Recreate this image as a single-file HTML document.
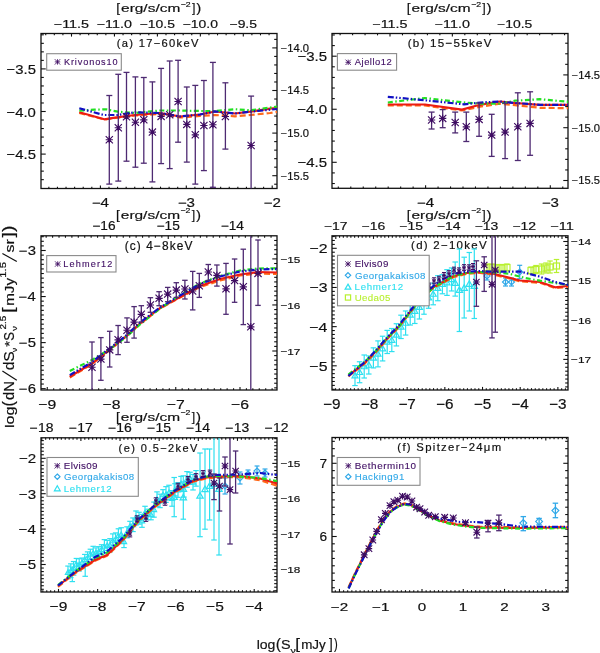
<!DOCTYPE html>
<html><head><meta charset="utf-8"><style>
html,body{margin:0;padding:0;background:#fff;width:600px;height:653px;overflow:hidden;}
svg{display:block;font-family:"Liberation Sans", sans-serif;will-change:transform;}
</style></head><body>
<svg width="600" height="653" viewBox="0 0 600 653" font-family='"Liberation Sans", sans-serif'>
<rect width="600" height="653" fill="#fff"/>
<line x1="48.86" y1="188.5" x2="48.86" y2="186.64" stroke="#111" stroke-width="1.1"/>
<line x1="57.45" y1="188.5" x2="57.45" y2="186.64" stroke="#111" stroke-width="1.1"/>
<line x1="66.04" y1="188.5" x2="66.04" y2="186.64" stroke="#111" stroke-width="1.1"/>
<line x1="74.63" y1="188.5" x2="74.63" y2="186.64" stroke="#111" stroke-width="1.1"/>
<line x1="83.22" y1="188.5" x2="83.22" y2="186.64" stroke="#111" stroke-width="1.1"/>
<line x1="91.81" y1="188.5" x2="91.81" y2="186.64" stroke="#111" stroke-width="1.1"/>
<line x1="100.4" y1="188.5" x2="100.4" y2="185.4" stroke="#111" stroke-width="1.1"/>
<line x1="108.99" y1="188.5" x2="108.99" y2="186.64" stroke="#111" stroke-width="1.1"/>
<line x1="117.58" y1="188.5" x2="117.58" y2="186.64" stroke="#111" stroke-width="1.1"/>
<line x1="126.17" y1="188.5" x2="126.17" y2="186.64" stroke="#111" stroke-width="1.1"/>
<line x1="134.76" y1="188.5" x2="134.76" y2="186.64" stroke="#111" stroke-width="1.1"/>
<line x1="143.35" y1="188.5" x2="143.35" y2="186.64" stroke="#111" stroke-width="1.1"/>
<line x1="151.94" y1="188.5" x2="151.94" y2="186.64" stroke="#111" stroke-width="1.1"/>
<line x1="160.53" y1="188.5" x2="160.53" y2="186.64" stroke="#111" stroke-width="1.1"/>
<line x1="169.12" y1="188.5" x2="169.12" y2="186.64" stroke="#111" stroke-width="1.1"/>
<line x1="177.71" y1="188.5" x2="177.71" y2="186.64" stroke="#111" stroke-width="1.1"/>
<line x1="186.3" y1="188.5" x2="186.3" y2="185.4" stroke="#111" stroke-width="1.1"/>
<line x1="194.89" y1="188.5" x2="194.89" y2="186.64" stroke="#111" stroke-width="1.1"/>
<line x1="203.48" y1="188.5" x2="203.48" y2="186.64" stroke="#111" stroke-width="1.1"/>
<line x1="212.07" y1="188.5" x2="212.07" y2="186.64" stroke="#111" stroke-width="1.1"/>
<line x1="220.66" y1="188.5" x2="220.66" y2="186.64" stroke="#111" stroke-width="1.1"/>
<line x1="229.25" y1="188.5" x2="229.25" y2="186.64" stroke="#111" stroke-width="1.1"/>
<line x1="237.84" y1="188.5" x2="237.84" y2="186.64" stroke="#111" stroke-width="1.1"/>
<line x1="246.43" y1="188.5" x2="246.43" y2="186.64" stroke="#111" stroke-width="1.1"/>
<line x1="255.02" y1="188.5" x2="255.02" y2="186.64" stroke="#111" stroke-width="1.1"/>
<line x1="263.61" y1="188.5" x2="263.61" y2="186.64" stroke="#111" stroke-width="1.1"/>
<line x1="272.2" y1="188.5" x2="272.2" y2="185.4" stroke="#111" stroke-width="1.1"/>
<line x1="45.73" y1="33.5" x2="45.73" y2="35.36" stroke="#111" stroke-width="1.1"/>
<line x1="54.32" y1="33.5" x2="54.32" y2="35.36" stroke="#111" stroke-width="1.1"/>
<line x1="62.91" y1="33.5" x2="62.91" y2="35.36" stroke="#111" stroke-width="1.1"/>
<line x1="71.5" y1="33.5" x2="71.5" y2="36.6" stroke="#111" stroke-width="1.1"/>
<line x1="80.09" y1="33.5" x2="80.09" y2="35.36" stroke="#111" stroke-width="1.1"/>
<line x1="88.68" y1="33.5" x2="88.68" y2="35.36" stroke="#111" stroke-width="1.1"/>
<line x1="97.27" y1="33.5" x2="97.27" y2="35.36" stroke="#111" stroke-width="1.1"/>
<line x1="105.86" y1="33.5" x2="105.86" y2="35.36" stroke="#111" stroke-width="1.1"/>
<line x1="114.45" y1="33.5" x2="114.45" y2="36.6" stroke="#111" stroke-width="1.1"/>
<line x1="123.04" y1="33.5" x2="123.04" y2="35.36" stroke="#111" stroke-width="1.1"/>
<line x1="131.63" y1="33.5" x2="131.63" y2="35.36" stroke="#111" stroke-width="1.1"/>
<line x1="140.22" y1="33.5" x2="140.22" y2="35.36" stroke="#111" stroke-width="1.1"/>
<line x1="148.81" y1="33.5" x2="148.81" y2="35.36" stroke="#111" stroke-width="1.1"/>
<line x1="157.4" y1="33.5" x2="157.4" y2="36.6" stroke="#111" stroke-width="1.1"/>
<line x1="165.99" y1="33.5" x2="165.99" y2="35.36" stroke="#111" stroke-width="1.1"/>
<line x1="174.58" y1="33.5" x2="174.58" y2="35.36" stroke="#111" stroke-width="1.1"/>
<line x1="183.17" y1="33.5" x2="183.17" y2="35.36" stroke="#111" stroke-width="1.1"/>
<line x1="191.76" y1="33.5" x2="191.76" y2="35.36" stroke="#111" stroke-width="1.1"/>
<line x1="200.35" y1="33.5" x2="200.35" y2="36.6" stroke="#111" stroke-width="1.1"/>
<line x1="208.94" y1="33.5" x2="208.94" y2="35.36" stroke="#111" stroke-width="1.1"/>
<line x1="217.53" y1="33.5" x2="217.53" y2="35.36" stroke="#111" stroke-width="1.1"/>
<line x1="226.12" y1="33.5" x2="226.12" y2="35.36" stroke="#111" stroke-width="1.1"/>
<line x1="234.71" y1="33.5" x2="234.71" y2="35.36" stroke="#111" stroke-width="1.1"/>
<line x1="243.3" y1="33.5" x2="243.3" y2="36.6" stroke="#111" stroke-width="1.1"/>
<line x1="251.89" y1="33.5" x2="251.89" y2="35.36" stroke="#111" stroke-width="1.1"/>
<line x1="260.48" y1="33.5" x2="260.48" y2="35.36" stroke="#111" stroke-width="1.1"/>
<line x1="269.07" y1="33.5" x2="269.07" y2="35.36" stroke="#111" stroke-width="1.1"/>
<line x1="41" y1="179.66" x2="43.83" y2="179.66" stroke="#111" stroke-width="1.1"/>
<line x1="41" y1="171.14" x2="43.83" y2="171.14" stroke="#111" stroke-width="1.1"/>
<line x1="41" y1="162.62" x2="43.83" y2="162.62" stroke="#111" stroke-width="1.1"/>
<line x1="41" y1="154.1" x2="45.72" y2="154.1" stroke="#111" stroke-width="1.1"/>
<line x1="41" y1="145.58" x2="43.83" y2="145.58" stroke="#111" stroke-width="1.1"/>
<line x1="41" y1="137.06" x2="43.83" y2="137.06" stroke="#111" stroke-width="1.1"/>
<line x1="41" y1="128.54" x2="43.83" y2="128.54" stroke="#111" stroke-width="1.1"/>
<line x1="41" y1="120.02" x2="43.83" y2="120.02" stroke="#111" stroke-width="1.1"/>
<line x1="41" y1="111.5" x2="45.72" y2="111.5" stroke="#111" stroke-width="1.1"/>
<line x1="41" y1="102.98" x2="43.83" y2="102.98" stroke="#111" stroke-width="1.1"/>
<line x1="41" y1="94.46" x2="43.83" y2="94.46" stroke="#111" stroke-width="1.1"/>
<line x1="41" y1="85.94" x2="43.83" y2="85.94" stroke="#111" stroke-width="1.1"/>
<line x1="41" y1="77.42" x2="43.83" y2="77.42" stroke="#111" stroke-width="1.1"/>
<line x1="41" y1="68.9" x2="45.72" y2="68.9" stroke="#111" stroke-width="1.1"/>
<line x1="41" y1="60.38" x2="43.83" y2="60.38" stroke="#111" stroke-width="1.1"/>
<line x1="41" y1="51.86" x2="43.83" y2="51.86" stroke="#111" stroke-width="1.1"/>
<line x1="41" y1="43.34" x2="43.83" y2="43.34" stroke="#111" stroke-width="1.1"/>
<line x1="41" y1="34.82" x2="43.83" y2="34.82" stroke="#111" stroke-width="1.1"/>
<line x1="277" y1="184.22" x2="274.17" y2="184.22" stroke="#111" stroke-width="1.1"/>
<line x1="277" y1="175.7" x2="272.28" y2="175.7" stroke="#111" stroke-width="1.1"/>
<line x1="277" y1="167.18" x2="274.17" y2="167.18" stroke="#111" stroke-width="1.1"/>
<line x1="277" y1="158.66" x2="274.17" y2="158.66" stroke="#111" stroke-width="1.1"/>
<line x1="277" y1="150.14" x2="274.17" y2="150.14" stroke="#111" stroke-width="1.1"/>
<line x1="277" y1="141.62" x2="274.17" y2="141.62" stroke="#111" stroke-width="1.1"/>
<line x1="277" y1="133.1" x2="272.28" y2="133.1" stroke="#111" stroke-width="1.1"/>
<line x1="277" y1="124.58" x2="274.17" y2="124.58" stroke="#111" stroke-width="1.1"/>
<line x1="277" y1="116.06" x2="274.17" y2="116.06" stroke="#111" stroke-width="1.1"/>
<line x1="277" y1="107.54" x2="274.17" y2="107.54" stroke="#111" stroke-width="1.1"/>
<line x1="277" y1="99.02" x2="274.17" y2="99.02" stroke="#111" stroke-width="1.1"/>
<line x1="277" y1="90.5" x2="272.28" y2="90.5" stroke="#111" stroke-width="1.1"/>
<line x1="277" y1="81.98" x2="274.17" y2="81.98" stroke="#111" stroke-width="1.1"/>
<line x1="277" y1="73.46" x2="274.17" y2="73.46" stroke="#111" stroke-width="1.1"/>
<line x1="277" y1="64.94" x2="274.17" y2="64.94" stroke="#111" stroke-width="1.1"/>
<line x1="277" y1="56.42" x2="274.17" y2="56.42" stroke="#111" stroke-width="1.1"/>
<line x1="277" y1="47.9" x2="272.28" y2="47.9" stroke="#111" stroke-width="1.1"/>
<line x1="277" y1="39.38" x2="274.17" y2="39.38" stroke="#111" stroke-width="1.1"/>
<rect x="41" y="33.5" width="236" height="155" fill="none" stroke="#111" stroke-width="1.3"/>
<line x1="338.31" y1="188.3" x2="338.31" y2="186.44" stroke="#111" stroke-width="1.1"/>
<line x1="350.78" y1="188.3" x2="350.78" y2="186.44" stroke="#111" stroke-width="1.1"/>
<line x1="363.25" y1="188.3" x2="363.25" y2="186.44" stroke="#111" stroke-width="1.1"/>
<line x1="375.72" y1="188.3" x2="375.72" y2="186.44" stroke="#111" stroke-width="1.1"/>
<line x1="388.19" y1="188.3" x2="388.19" y2="186.44" stroke="#111" stroke-width="1.1"/>
<line x1="400.66" y1="188.3" x2="400.66" y2="186.44" stroke="#111" stroke-width="1.1"/>
<line x1="413.13" y1="188.3" x2="413.13" y2="186.44" stroke="#111" stroke-width="1.1"/>
<line x1="425.6" y1="188.3" x2="425.6" y2="185.2" stroke="#111" stroke-width="1.1"/>
<line x1="438.07" y1="188.3" x2="438.07" y2="186.44" stroke="#111" stroke-width="1.1"/>
<line x1="450.54" y1="188.3" x2="450.54" y2="186.44" stroke="#111" stroke-width="1.1"/>
<line x1="463.01" y1="188.3" x2="463.01" y2="186.44" stroke="#111" stroke-width="1.1"/>
<line x1="475.48" y1="188.3" x2="475.48" y2="186.44" stroke="#111" stroke-width="1.1"/>
<line x1="487.95" y1="188.3" x2="487.95" y2="186.44" stroke="#111" stroke-width="1.1"/>
<line x1="500.42" y1="188.3" x2="500.42" y2="186.44" stroke="#111" stroke-width="1.1"/>
<line x1="512.89" y1="188.3" x2="512.89" y2="186.44" stroke="#111" stroke-width="1.1"/>
<line x1="525.36" y1="188.3" x2="525.36" y2="186.44" stroke="#111" stroke-width="1.1"/>
<line x1="537.83" y1="188.3" x2="537.83" y2="186.44" stroke="#111" stroke-width="1.1"/>
<line x1="550.3" y1="188.3" x2="550.3" y2="185.2" stroke="#111" stroke-width="1.1"/>
<line x1="562.77" y1="188.3" x2="562.77" y2="186.44" stroke="#111" stroke-width="1.1"/>
<line x1="340.12" y1="33.5" x2="340.12" y2="35.36" stroke="#111" stroke-width="1.1"/>
<line x1="352.59" y1="33.5" x2="352.59" y2="35.36" stroke="#111" stroke-width="1.1"/>
<line x1="365.06" y1="33.5" x2="365.06" y2="35.36" stroke="#111" stroke-width="1.1"/>
<line x1="377.53" y1="33.5" x2="377.53" y2="35.36" stroke="#111" stroke-width="1.1"/>
<line x1="390" y1="33.5" x2="390" y2="36.6" stroke="#111" stroke-width="1.1"/>
<line x1="402.47" y1="33.5" x2="402.47" y2="35.36" stroke="#111" stroke-width="1.1"/>
<line x1="414.94" y1="33.5" x2="414.94" y2="35.36" stroke="#111" stroke-width="1.1"/>
<line x1="427.41" y1="33.5" x2="427.41" y2="35.36" stroke="#111" stroke-width="1.1"/>
<line x1="439.88" y1="33.5" x2="439.88" y2="35.36" stroke="#111" stroke-width="1.1"/>
<line x1="452.35" y1="33.5" x2="452.35" y2="36.6" stroke="#111" stroke-width="1.1"/>
<line x1="464.82" y1="33.5" x2="464.82" y2="35.36" stroke="#111" stroke-width="1.1"/>
<line x1="477.29" y1="33.5" x2="477.29" y2="35.36" stroke="#111" stroke-width="1.1"/>
<line x1="489.76" y1="33.5" x2="489.76" y2="35.36" stroke="#111" stroke-width="1.1"/>
<line x1="502.23" y1="33.5" x2="502.23" y2="35.36" stroke="#111" stroke-width="1.1"/>
<line x1="514.7" y1="33.5" x2="514.7" y2="36.6" stroke="#111" stroke-width="1.1"/>
<line x1="527.17" y1="33.5" x2="527.17" y2="35.36" stroke="#111" stroke-width="1.1"/>
<line x1="539.64" y1="33.5" x2="539.64" y2="35.36" stroke="#111" stroke-width="1.1"/>
<line x1="552.11" y1="33.5" x2="552.11" y2="35.36" stroke="#111" stroke-width="1.1"/>
<line x1="564.58" y1="33.5" x2="564.58" y2="35.36" stroke="#111" stroke-width="1.1"/>
<line x1="332" y1="183.52" x2="334.83" y2="183.52" stroke="#111" stroke-width="1.1"/>
<line x1="332" y1="172.91" x2="334.83" y2="172.91" stroke="#111" stroke-width="1.1"/>
<line x1="332" y1="162.3" x2="336.72" y2="162.3" stroke="#111" stroke-width="1.1"/>
<line x1="332" y1="151.69" x2="334.83" y2="151.69" stroke="#111" stroke-width="1.1"/>
<line x1="332" y1="141.08" x2="334.83" y2="141.08" stroke="#111" stroke-width="1.1"/>
<line x1="332" y1="130.47" x2="334.83" y2="130.47" stroke="#111" stroke-width="1.1"/>
<line x1="332" y1="119.86" x2="334.83" y2="119.86" stroke="#111" stroke-width="1.1"/>
<line x1="332" y1="109.25" x2="336.72" y2="109.25" stroke="#111" stroke-width="1.1"/>
<line x1="332" y1="98.64" x2="334.83" y2="98.64" stroke="#111" stroke-width="1.1"/>
<line x1="332" y1="88.03" x2="334.83" y2="88.03" stroke="#111" stroke-width="1.1"/>
<line x1="332" y1="77.42" x2="334.83" y2="77.42" stroke="#111" stroke-width="1.1"/>
<line x1="332" y1="66.81" x2="334.83" y2="66.81" stroke="#111" stroke-width="1.1"/>
<line x1="332" y1="56.2" x2="336.72" y2="56.2" stroke="#111" stroke-width="1.1"/>
<line x1="332" y1="45.59" x2="334.83" y2="45.59" stroke="#111" stroke-width="1.1"/>
<line x1="332" y1="34.98" x2="334.83" y2="34.98" stroke="#111" stroke-width="1.1"/>
<line x1="568" y1="180.5" x2="563.28" y2="180.5" stroke="#111" stroke-width="1.1"/>
<line x1="568" y1="169.94" x2="565.17" y2="169.94" stroke="#111" stroke-width="1.1"/>
<line x1="568" y1="159.38" x2="565.17" y2="159.38" stroke="#111" stroke-width="1.1"/>
<line x1="568" y1="148.82" x2="565.17" y2="148.82" stroke="#111" stroke-width="1.1"/>
<line x1="568" y1="138.26" x2="565.17" y2="138.26" stroke="#111" stroke-width="1.1"/>
<line x1="568" y1="127.7" x2="563.28" y2="127.7" stroke="#111" stroke-width="1.1"/>
<line x1="568" y1="117.14" x2="565.17" y2="117.14" stroke="#111" stroke-width="1.1"/>
<line x1="568" y1="106.58" x2="565.17" y2="106.58" stroke="#111" stroke-width="1.1"/>
<line x1="568" y1="96.02" x2="565.17" y2="96.02" stroke="#111" stroke-width="1.1"/>
<line x1="568" y1="85.46" x2="565.17" y2="85.46" stroke="#111" stroke-width="1.1"/>
<line x1="568" y1="74.9" x2="563.28" y2="74.9" stroke="#111" stroke-width="1.1"/>
<line x1="568" y1="64.34" x2="565.17" y2="64.34" stroke="#111" stroke-width="1.1"/>
<line x1="568" y1="53.78" x2="565.17" y2="53.78" stroke="#111" stroke-width="1.1"/>
<line x1="568" y1="43.22" x2="565.17" y2="43.22" stroke="#111" stroke-width="1.1"/>
<rect x="332" y="33.5" width="236" height="154.8" fill="none" stroke="#111" stroke-width="1.3"/>
<line x1="47.25" y1="390" x2="47.25" y2="386.92" stroke="#111" stroke-width="1.1"/>
<line x1="53.67" y1="390" x2="53.67" y2="388.15" stroke="#111" stroke-width="1.1"/>
<line x1="60.1" y1="390" x2="60.1" y2="388.15" stroke="#111" stroke-width="1.1"/>
<line x1="66.52" y1="390" x2="66.52" y2="388.15" stroke="#111" stroke-width="1.1"/>
<line x1="72.95" y1="390" x2="72.95" y2="388.15" stroke="#111" stroke-width="1.1"/>
<line x1="79.38" y1="390" x2="79.38" y2="388.15" stroke="#111" stroke-width="1.1"/>
<line x1="85.8" y1="390" x2="85.8" y2="388.15" stroke="#111" stroke-width="1.1"/>
<line x1="92.22" y1="390" x2="92.22" y2="388.15" stroke="#111" stroke-width="1.1"/>
<line x1="98.65" y1="390" x2="98.65" y2="388.15" stroke="#111" stroke-width="1.1"/>
<line x1="105.08" y1="390" x2="105.08" y2="388.15" stroke="#111" stroke-width="1.1"/>
<line x1="111.5" y1="390" x2="111.5" y2="386.92" stroke="#111" stroke-width="1.1"/>
<line x1="117.92" y1="390" x2="117.92" y2="388.15" stroke="#111" stroke-width="1.1"/>
<line x1="124.35" y1="390" x2="124.35" y2="388.15" stroke="#111" stroke-width="1.1"/>
<line x1="130.77" y1="390" x2="130.77" y2="388.15" stroke="#111" stroke-width="1.1"/>
<line x1="137.2" y1="390" x2="137.2" y2="388.15" stroke="#111" stroke-width="1.1"/>
<line x1="143.62" y1="390" x2="143.62" y2="388.15" stroke="#111" stroke-width="1.1"/>
<line x1="150.05" y1="390" x2="150.05" y2="388.15" stroke="#111" stroke-width="1.1"/>
<line x1="156.47" y1="390" x2="156.47" y2="388.15" stroke="#111" stroke-width="1.1"/>
<line x1="162.9" y1="390" x2="162.9" y2="388.15" stroke="#111" stroke-width="1.1"/>
<line x1="169.32" y1="390" x2="169.32" y2="388.15" stroke="#111" stroke-width="1.1"/>
<line x1="175.75" y1="390" x2="175.75" y2="386.92" stroke="#111" stroke-width="1.1"/>
<line x1="182.17" y1="390" x2="182.17" y2="388.15" stroke="#111" stroke-width="1.1"/>
<line x1="188.6" y1="390" x2="188.6" y2="388.15" stroke="#111" stroke-width="1.1"/>
<line x1="195.02" y1="390" x2="195.02" y2="388.15" stroke="#111" stroke-width="1.1"/>
<line x1="201.45" y1="390" x2="201.45" y2="388.15" stroke="#111" stroke-width="1.1"/>
<line x1="207.88" y1="390" x2="207.88" y2="388.15" stroke="#111" stroke-width="1.1"/>
<line x1="214.3" y1="390" x2="214.3" y2="388.15" stroke="#111" stroke-width="1.1"/>
<line x1="220.72" y1="390" x2="220.72" y2="388.15" stroke="#111" stroke-width="1.1"/>
<line x1="227.15" y1="390" x2="227.15" y2="388.15" stroke="#111" stroke-width="1.1"/>
<line x1="233.57" y1="390" x2="233.57" y2="388.15" stroke="#111" stroke-width="1.1"/>
<line x1="240" y1="390" x2="240" y2="386.92" stroke="#111" stroke-width="1.1"/>
<line x1="246.42" y1="390" x2="246.42" y2="388.15" stroke="#111" stroke-width="1.1"/>
<line x1="252.85" y1="390" x2="252.85" y2="388.15" stroke="#111" stroke-width="1.1"/>
<line x1="259.27" y1="390" x2="259.27" y2="388.15" stroke="#111" stroke-width="1.1"/>
<line x1="265.7" y1="390" x2="265.7" y2="388.15" stroke="#111" stroke-width="1.1"/>
<line x1="272.12" y1="390" x2="272.12" y2="388.15" stroke="#111" stroke-width="1.1"/>
<line x1="46.17" y1="235.8" x2="46.17" y2="237.65" stroke="#111" stroke-width="1.1"/>
<line x1="52.6" y1="235.8" x2="52.6" y2="237.65" stroke="#111" stroke-width="1.1"/>
<line x1="59.03" y1="235.8" x2="59.03" y2="237.65" stroke="#111" stroke-width="1.1"/>
<line x1="65.45" y1="235.8" x2="65.45" y2="237.65" stroke="#111" stroke-width="1.1"/>
<line x1="71.88" y1="235.8" x2="71.88" y2="237.65" stroke="#111" stroke-width="1.1"/>
<line x1="78.3" y1="235.8" x2="78.3" y2="237.65" stroke="#111" stroke-width="1.1"/>
<line x1="84.72" y1="235.8" x2="84.72" y2="237.65" stroke="#111" stroke-width="1.1"/>
<line x1="91.15" y1="235.8" x2="91.15" y2="237.65" stroke="#111" stroke-width="1.1"/>
<line x1="97.57" y1="235.8" x2="97.57" y2="237.65" stroke="#111" stroke-width="1.1"/>
<line x1="104" y1="235.8" x2="104" y2="238.88" stroke="#111" stroke-width="1.1"/>
<line x1="110.42" y1="235.8" x2="110.42" y2="237.65" stroke="#111" stroke-width="1.1"/>
<line x1="116.85" y1="235.8" x2="116.85" y2="237.65" stroke="#111" stroke-width="1.1"/>
<line x1="123.27" y1="235.8" x2="123.27" y2="237.65" stroke="#111" stroke-width="1.1"/>
<line x1="129.7" y1="235.8" x2="129.7" y2="237.65" stroke="#111" stroke-width="1.1"/>
<line x1="136.12" y1="235.8" x2="136.12" y2="237.65" stroke="#111" stroke-width="1.1"/>
<line x1="142.55" y1="235.8" x2="142.55" y2="237.65" stroke="#111" stroke-width="1.1"/>
<line x1="148.97" y1="235.8" x2="148.97" y2="237.65" stroke="#111" stroke-width="1.1"/>
<line x1="155.4" y1="235.8" x2="155.4" y2="237.65" stroke="#111" stroke-width="1.1"/>
<line x1="161.82" y1="235.8" x2="161.82" y2="237.65" stroke="#111" stroke-width="1.1"/>
<line x1="168.25" y1="235.8" x2="168.25" y2="238.88" stroke="#111" stroke-width="1.1"/>
<line x1="174.67" y1="235.8" x2="174.67" y2="237.65" stroke="#111" stroke-width="1.1"/>
<line x1="181.1" y1="235.8" x2="181.1" y2="237.65" stroke="#111" stroke-width="1.1"/>
<line x1="187.52" y1="235.8" x2="187.52" y2="237.65" stroke="#111" stroke-width="1.1"/>
<line x1="193.95" y1="235.8" x2="193.95" y2="237.65" stroke="#111" stroke-width="1.1"/>
<line x1="200.38" y1="235.8" x2="200.38" y2="237.65" stroke="#111" stroke-width="1.1"/>
<line x1="206.8" y1="235.8" x2="206.8" y2="237.65" stroke="#111" stroke-width="1.1"/>
<line x1="213.22" y1="235.8" x2="213.22" y2="237.65" stroke="#111" stroke-width="1.1"/>
<line x1="219.65" y1="235.8" x2="219.65" y2="237.65" stroke="#111" stroke-width="1.1"/>
<line x1="226.07" y1="235.8" x2="226.07" y2="237.65" stroke="#111" stroke-width="1.1"/>
<line x1="232.5" y1="235.8" x2="232.5" y2="238.88" stroke="#111" stroke-width="1.1"/>
<line x1="238.92" y1="235.8" x2="238.92" y2="237.65" stroke="#111" stroke-width="1.1"/>
<line x1="245.35" y1="235.8" x2="245.35" y2="237.65" stroke="#111" stroke-width="1.1"/>
<line x1="251.77" y1="235.8" x2="251.77" y2="237.65" stroke="#111" stroke-width="1.1"/>
<line x1="258.2" y1="235.8" x2="258.2" y2="237.65" stroke="#111" stroke-width="1.1"/>
<line x1="264.62" y1="235.8" x2="264.62" y2="237.65" stroke="#111" stroke-width="1.1"/>
<line x1="271.05" y1="235.8" x2="271.05" y2="237.65" stroke="#111" stroke-width="1.1"/>
<line x1="41" y1="388.65" x2="45.72" y2="388.65" stroke="#111" stroke-width="1.1"/>
<line x1="41" y1="384.05" x2="43.83" y2="384.05" stroke="#111" stroke-width="1.1"/>
<line x1="41" y1="379.44" x2="43.83" y2="379.44" stroke="#111" stroke-width="1.1"/>
<line x1="41" y1="374.83" x2="43.83" y2="374.83" stroke="#111" stroke-width="1.1"/>
<line x1="41" y1="370.23" x2="43.83" y2="370.23" stroke="#111" stroke-width="1.1"/>
<line x1="41" y1="365.62" x2="43.83" y2="365.62" stroke="#111" stroke-width="1.1"/>
<line x1="41" y1="361.02" x2="43.83" y2="361.02" stroke="#111" stroke-width="1.1"/>
<line x1="41" y1="356.42" x2="43.83" y2="356.42" stroke="#111" stroke-width="1.1"/>
<line x1="41" y1="351.81" x2="43.83" y2="351.81" stroke="#111" stroke-width="1.1"/>
<line x1="41" y1="347.21" x2="43.83" y2="347.21" stroke="#111" stroke-width="1.1"/>
<line x1="41" y1="342.6" x2="45.72" y2="342.6" stroke="#111" stroke-width="1.1"/>
<line x1="41" y1="338" x2="43.83" y2="338" stroke="#111" stroke-width="1.1"/>
<line x1="41" y1="333.39" x2="43.83" y2="333.39" stroke="#111" stroke-width="1.1"/>
<line x1="41" y1="328.78" x2="43.83" y2="328.78" stroke="#111" stroke-width="1.1"/>
<line x1="41" y1="324.18" x2="43.83" y2="324.18" stroke="#111" stroke-width="1.1"/>
<line x1="41" y1="319.57" x2="43.83" y2="319.57" stroke="#111" stroke-width="1.1"/>
<line x1="41" y1="314.97" x2="43.83" y2="314.97" stroke="#111" stroke-width="1.1"/>
<line x1="41" y1="310.37" x2="43.83" y2="310.37" stroke="#111" stroke-width="1.1"/>
<line x1="41" y1="305.76" x2="43.83" y2="305.76" stroke="#111" stroke-width="1.1"/>
<line x1="41" y1="301.16" x2="43.83" y2="301.16" stroke="#111" stroke-width="1.1"/>
<line x1="41" y1="296.55" x2="45.72" y2="296.55" stroke="#111" stroke-width="1.1"/>
<line x1="41" y1="291.94" x2="43.83" y2="291.94" stroke="#111" stroke-width="1.1"/>
<line x1="41" y1="287.34" x2="43.83" y2="287.34" stroke="#111" stroke-width="1.1"/>
<line x1="41" y1="282.74" x2="43.83" y2="282.74" stroke="#111" stroke-width="1.1"/>
<line x1="41" y1="278.13" x2="43.83" y2="278.13" stroke="#111" stroke-width="1.1"/>
<line x1="41" y1="273.52" x2="43.83" y2="273.52" stroke="#111" stroke-width="1.1"/>
<line x1="41" y1="268.92" x2="43.83" y2="268.92" stroke="#111" stroke-width="1.1"/>
<line x1="41" y1="264.31" x2="43.83" y2="264.31" stroke="#111" stroke-width="1.1"/>
<line x1="41" y1="259.71" x2="43.83" y2="259.71" stroke="#111" stroke-width="1.1"/>
<line x1="41" y1="255.11" x2="43.83" y2="255.11" stroke="#111" stroke-width="1.1"/>
<line x1="41" y1="250.5" x2="45.72" y2="250.5" stroke="#111" stroke-width="1.1"/>
<line x1="41" y1="245.9" x2="43.83" y2="245.9" stroke="#111" stroke-width="1.1"/>
<line x1="41" y1="241.29" x2="43.83" y2="241.29" stroke="#111" stroke-width="1.1"/>
<line x1="41" y1="236.69" x2="43.83" y2="236.69" stroke="#111" stroke-width="1.1"/>
<line x1="277" y1="387.84" x2="274.17" y2="387.84" stroke="#111" stroke-width="1.1"/>
<line x1="277" y1="383.23" x2="274.17" y2="383.23" stroke="#111" stroke-width="1.1"/>
<line x1="277" y1="378.63" x2="274.17" y2="378.63" stroke="#111" stroke-width="1.1"/>
<line x1="277" y1="374.02" x2="274.17" y2="374.02" stroke="#111" stroke-width="1.1"/>
<line x1="277" y1="369.42" x2="274.17" y2="369.42" stroke="#111" stroke-width="1.1"/>
<line x1="277" y1="364.81" x2="274.17" y2="364.81" stroke="#111" stroke-width="1.1"/>
<line x1="277" y1="360.21" x2="274.17" y2="360.21" stroke="#111" stroke-width="1.1"/>
<line x1="277" y1="355.61" x2="274.17" y2="355.61" stroke="#111" stroke-width="1.1"/>
<line x1="277" y1="351" x2="272.28" y2="351" stroke="#111" stroke-width="1.1"/>
<line x1="277" y1="346.4" x2="274.17" y2="346.4" stroke="#111" stroke-width="1.1"/>
<line x1="277" y1="341.79" x2="274.17" y2="341.79" stroke="#111" stroke-width="1.1"/>
<line x1="277" y1="337.18" x2="274.17" y2="337.18" stroke="#111" stroke-width="1.1"/>
<line x1="277" y1="332.58" x2="274.17" y2="332.58" stroke="#111" stroke-width="1.1"/>
<line x1="277" y1="327.97" x2="274.17" y2="327.97" stroke="#111" stroke-width="1.1"/>
<line x1="277" y1="323.37" x2="274.17" y2="323.37" stroke="#111" stroke-width="1.1"/>
<line x1="277" y1="318.76" x2="274.17" y2="318.76" stroke="#111" stroke-width="1.1"/>
<line x1="277" y1="314.16" x2="274.17" y2="314.16" stroke="#111" stroke-width="1.1"/>
<line x1="277" y1="309.56" x2="274.17" y2="309.56" stroke="#111" stroke-width="1.1"/>
<line x1="277" y1="304.95" x2="272.28" y2="304.95" stroke="#111" stroke-width="1.1"/>
<line x1="277" y1="300.34" x2="274.17" y2="300.34" stroke="#111" stroke-width="1.1"/>
<line x1="277" y1="295.74" x2="274.17" y2="295.74" stroke="#111" stroke-width="1.1"/>
<line x1="277" y1="291.14" x2="274.17" y2="291.14" stroke="#111" stroke-width="1.1"/>
<line x1="277" y1="286.53" x2="274.17" y2="286.53" stroke="#111" stroke-width="1.1"/>
<line x1="277" y1="281.92" x2="274.17" y2="281.92" stroke="#111" stroke-width="1.1"/>
<line x1="277" y1="277.32" x2="274.17" y2="277.32" stroke="#111" stroke-width="1.1"/>
<line x1="277" y1="272.72" x2="274.17" y2="272.72" stroke="#111" stroke-width="1.1"/>
<line x1="277" y1="268.11" x2="274.17" y2="268.11" stroke="#111" stroke-width="1.1"/>
<line x1="277" y1="263.51" x2="274.17" y2="263.51" stroke="#111" stroke-width="1.1"/>
<line x1="277" y1="258.9" x2="272.28" y2="258.9" stroke="#111" stroke-width="1.1"/>
<line x1="277" y1="254.29" x2="274.17" y2="254.29" stroke="#111" stroke-width="1.1"/>
<line x1="277" y1="249.69" x2="274.17" y2="249.69" stroke="#111" stroke-width="1.1"/>
<line x1="277" y1="245.09" x2="274.17" y2="245.09" stroke="#111" stroke-width="1.1"/>
<line x1="277" y1="240.48" x2="274.17" y2="240.48" stroke="#111" stroke-width="1.1"/>
<rect x="41" y="235.8" width="236" height="154.2" fill="none" stroke="#111" stroke-width="1.3"/>
<line x1="335.57" y1="390" x2="335.57" y2="388.15" stroke="#111" stroke-width="1.1"/>
<line x1="339.34" y1="390" x2="339.34" y2="388.15" stroke="#111" stroke-width="1.1"/>
<line x1="343.1" y1="390" x2="343.1" y2="388.15" stroke="#111" stroke-width="1.1"/>
<line x1="346.87" y1="390" x2="346.87" y2="388.15" stroke="#111" stroke-width="1.1"/>
<line x1="350.64" y1="390" x2="350.64" y2="388.15" stroke="#111" stroke-width="1.1"/>
<line x1="354.41" y1="390" x2="354.41" y2="388.15" stroke="#111" stroke-width="1.1"/>
<line x1="358.18" y1="390" x2="358.18" y2="388.15" stroke="#111" stroke-width="1.1"/>
<line x1="361.94" y1="390" x2="361.94" y2="388.15" stroke="#111" stroke-width="1.1"/>
<line x1="365.71" y1="390" x2="365.71" y2="388.15" stroke="#111" stroke-width="1.1"/>
<line x1="369.48" y1="390" x2="369.48" y2="386.92" stroke="#111" stroke-width="1.1"/>
<line x1="373.25" y1="390" x2="373.25" y2="388.15" stroke="#111" stroke-width="1.1"/>
<line x1="377.02" y1="390" x2="377.02" y2="388.15" stroke="#111" stroke-width="1.1"/>
<line x1="380.78" y1="390" x2="380.78" y2="388.15" stroke="#111" stroke-width="1.1"/>
<line x1="384.55" y1="390" x2="384.55" y2="388.15" stroke="#111" stroke-width="1.1"/>
<line x1="388.32" y1="390" x2="388.32" y2="388.15" stroke="#111" stroke-width="1.1"/>
<line x1="392.09" y1="390" x2="392.09" y2="388.15" stroke="#111" stroke-width="1.1"/>
<line x1="395.86" y1="390" x2="395.86" y2="388.15" stroke="#111" stroke-width="1.1"/>
<line x1="399.62" y1="390" x2="399.62" y2="388.15" stroke="#111" stroke-width="1.1"/>
<line x1="403.39" y1="390" x2="403.39" y2="388.15" stroke="#111" stroke-width="1.1"/>
<line x1="407.16" y1="390" x2="407.16" y2="386.92" stroke="#111" stroke-width="1.1"/>
<line x1="410.93" y1="390" x2="410.93" y2="388.15" stroke="#111" stroke-width="1.1"/>
<line x1="414.7" y1="390" x2="414.7" y2="388.15" stroke="#111" stroke-width="1.1"/>
<line x1="418.46" y1="390" x2="418.46" y2="388.15" stroke="#111" stroke-width="1.1"/>
<line x1="422.23" y1="390" x2="422.23" y2="388.15" stroke="#111" stroke-width="1.1"/>
<line x1="426" y1="390" x2="426" y2="388.15" stroke="#111" stroke-width="1.1"/>
<line x1="429.77" y1="390" x2="429.77" y2="388.15" stroke="#111" stroke-width="1.1"/>
<line x1="433.54" y1="390" x2="433.54" y2="388.15" stroke="#111" stroke-width="1.1"/>
<line x1="437.3" y1="390" x2="437.3" y2="388.15" stroke="#111" stroke-width="1.1"/>
<line x1="441.07" y1="390" x2="441.07" y2="388.15" stroke="#111" stroke-width="1.1"/>
<line x1="444.84" y1="390" x2="444.84" y2="386.92" stroke="#111" stroke-width="1.1"/>
<line x1="448.61" y1="390" x2="448.61" y2="388.15" stroke="#111" stroke-width="1.1"/>
<line x1="452.38" y1="390" x2="452.38" y2="388.15" stroke="#111" stroke-width="1.1"/>
<line x1="456.14" y1="390" x2="456.14" y2="388.15" stroke="#111" stroke-width="1.1"/>
<line x1="459.91" y1="390" x2="459.91" y2="388.15" stroke="#111" stroke-width="1.1"/>
<line x1="463.68" y1="390" x2="463.68" y2="388.15" stroke="#111" stroke-width="1.1"/>
<line x1="467.45" y1="390" x2="467.45" y2="388.15" stroke="#111" stroke-width="1.1"/>
<line x1="471.22" y1="390" x2="471.22" y2="388.15" stroke="#111" stroke-width="1.1"/>
<line x1="474.98" y1="390" x2="474.98" y2="388.15" stroke="#111" stroke-width="1.1"/>
<line x1="478.75" y1="390" x2="478.75" y2="388.15" stroke="#111" stroke-width="1.1"/>
<line x1="482.52" y1="390" x2="482.52" y2="386.92" stroke="#111" stroke-width="1.1"/>
<line x1="486.29" y1="390" x2="486.29" y2="388.15" stroke="#111" stroke-width="1.1"/>
<line x1="490.06" y1="390" x2="490.06" y2="388.15" stroke="#111" stroke-width="1.1"/>
<line x1="493.82" y1="390" x2="493.82" y2="388.15" stroke="#111" stroke-width="1.1"/>
<line x1="497.59" y1="390" x2="497.59" y2="388.15" stroke="#111" stroke-width="1.1"/>
<line x1="501.36" y1="390" x2="501.36" y2="388.15" stroke="#111" stroke-width="1.1"/>
<line x1="505.13" y1="390" x2="505.13" y2="388.15" stroke="#111" stroke-width="1.1"/>
<line x1="508.9" y1="390" x2="508.9" y2="388.15" stroke="#111" stroke-width="1.1"/>
<line x1="512.66" y1="390" x2="512.66" y2="388.15" stroke="#111" stroke-width="1.1"/>
<line x1="516.43" y1="390" x2="516.43" y2="388.15" stroke="#111" stroke-width="1.1"/>
<line x1="520.2" y1="390" x2="520.2" y2="386.92" stroke="#111" stroke-width="1.1"/>
<line x1="523.97" y1="390" x2="523.97" y2="388.15" stroke="#111" stroke-width="1.1"/>
<line x1="527.74" y1="390" x2="527.74" y2="388.15" stroke="#111" stroke-width="1.1"/>
<line x1="531.5" y1="390" x2="531.5" y2="388.15" stroke="#111" stroke-width="1.1"/>
<line x1="535.27" y1="390" x2="535.27" y2="388.15" stroke="#111" stroke-width="1.1"/>
<line x1="539.04" y1="390" x2="539.04" y2="388.15" stroke="#111" stroke-width="1.1"/>
<line x1="542.81" y1="390" x2="542.81" y2="388.15" stroke="#111" stroke-width="1.1"/>
<line x1="546.58" y1="390" x2="546.58" y2="388.15" stroke="#111" stroke-width="1.1"/>
<line x1="550.34" y1="390" x2="550.34" y2="388.15" stroke="#111" stroke-width="1.1"/>
<line x1="554.11" y1="390" x2="554.11" y2="388.15" stroke="#111" stroke-width="1.1"/>
<line x1="557.88" y1="390" x2="557.88" y2="386.92" stroke="#111" stroke-width="1.1"/>
<line x1="561.65" y1="390" x2="561.65" y2="388.15" stroke="#111" stroke-width="1.1"/>
<line x1="565.42" y1="390" x2="565.42" y2="388.15" stroke="#111" stroke-width="1.1"/>
<line x1="335.8" y1="235.8" x2="335.8" y2="238.88" stroke="#111" stroke-width="1.1"/>
<line x1="339.57" y1="235.8" x2="339.57" y2="237.65" stroke="#111" stroke-width="1.1"/>
<line x1="343.34" y1="235.8" x2="343.34" y2="237.65" stroke="#111" stroke-width="1.1"/>
<line x1="347.11" y1="235.8" x2="347.11" y2="237.65" stroke="#111" stroke-width="1.1"/>
<line x1="350.88" y1="235.8" x2="350.88" y2="237.65" stroke="#111" stroke-width="1.1"/>
<line x1="354.65" y1="235.8" x2="354.65" y2="237.65" stroke="#111" stroke-width="1.1"/>
<line x1="358.42" y1="235.8" x2="358.42" y2="237.65" stroke="#111" stroke-width="1.1"/>
<line x1="362.19" y1="235.8" x2="362.19" y2="237.65" stroke="#111" stroke-width="1.1"/>
<line x1="365.96" y1="235.8" x2="365.96" y2="237.65" stroke="#111" stroke-width="1.1"/>
<line x1="369.73" y1="235.8" x2="369.73" y2="237.65" stroke="#111" stroke-width="1.1"/>
<line x1="373.5" y1="235.8" x2="373.5" y2="238.88" stroke="#111" stroke-width="1.1"/>
<line x1="377.27" y1="235.8" x2="377.27" y2="237.65" stroke="#111" stroke-width="1.1"/>
<line x1="381.04" y1="235.8" x2="381.04" y2="237.65" stroke="#111" stroke-width="1.1"/>
<line x1="384.81" y1="235.8" x2="384.81" y2="237.65" stroke="#111" stroke-width="1.1"/>
<line x1="388.58" y1="235.8" x2="388.58" y2="237.65" stroke="#111" stroke-width="1.1"/>
<line x1="392.35" y1="235.8" x2="392.35" y2="237.65" stroke="#111" stroke-width="1.1"/>
<line x1="396.12" y1="235.8" x2="396.12" y2="237.65" stroke="#111" stroke-width="1.1"/>
<line x1="399.89" y1="235.8" x2="399.89" y2="237.65" stroke="#111" stroke-width="1.1"/>
<line x1="403.66" y1="235.8" x2="403.66" y2="237.65" stroke="#111" stroke-width="1.1"/>
<line x1="407.43" y1="235.8" x2="407.43" y2="237.65" stroke="#111" stroke-width="1.1"/>
<line x1="411.2" y1="235.8" x2="411.2" y2="238.88" stroke="#111" stroke-width="1.1"/>
<line x1="414.97" y1="235.8" x2="414.97" y2="237.65" stroke="#111" stroke-width="1.1"/>
<line x1="418.74" y1="235.8" x2="418.74" y2="237.65" stroke="#111" stroke-width="1.1"/>
<line x1="422.51" y1="235.8" x2="422.51" y2="237.65" stroke="#111" stroke-width="1.1"/>
<line x1="426.28" y1="235.8" x2="426.28" y2="237.65" stroke="#111" stroke-width="1.1"/>
<line x1="430.05" y1="235.8" x2="430.05" y2="237.65" stroke="#111" stroke-width="1.1"/>
<line x1="433.82" y1="235.8" x2="433.82" y2="237.65" stroke="#111" stroke-width="1.1"/>
<line x1="437.59" y1="235.8" x2="437.59" y2="237.65" stroke="#111" stroke-width="1.1"/>
<line x1="441.36" y1="235.8" x2="441.36" y2="237.65" stroke="#111" stroke-width="1.1"/>
<line x1="445.13" y1="235.8" x2="445.13" y2="237.65" stroke="#111" stroke-width="1.1"/>
<line x1="448.9" y1="235.8" x2="448.9" y2="238.88" stroke="#111" stroke-width="1.1"/>
<line x1="452.67" y1="235.8" x2="452.67" y2="237.65" stroke="#111" stroke-width="1.1"/>
<line x1="456.44" y1="235.8" x2="456.44" y2="237.65" stroke="#111" stroke-width="1.1"/>
<line x1="460.21" y1="235.8" x2="460.21" y2="237.65" stroke="#111" stroke-width="1.1"/>
<line x1="463.98" y1="235.8" x2="463.98" y2="237.65" stroke="#111" stroke-width="1.1"/>
<line x1="467.75" y1="235.8" x2="467.75" y2="237.65" stroke="#111" stroke-width="1.1"/>
<line x1="471.52" y1="235.8" x2="471.52" y2="237.65" stroke="#111" stroke-width="1.1"/>
<line x1="475.29" y1="235.8" x2="475.29" y2="237.65" stroke="#111" stroke-width="1.1"/>
<line x1="479.06" y1="235.8" x2="479.06" y2="237.65" stroke="#111" stroke-width="1.1"/>
<line x1="482.83" y1="235.8" x2="482.83" y2="237.65" stroke="#111" stroke-width="1.1"/>
<line x1="486.6" y1="235.8" x2="486.6" y2="238.88" stroke="#111" stroke-width="1.1"/>
<line x1="490.37" y1="235.8" x2="490.37" y2="237.65" stroke="#111" stroke-width="1.1"/>
<line x1="494.14" y1="235.8" x2="494.14" y2="237.65" stroke="#111" stroke-width="1.1"/>
<line x1="497.91" y1="235.8" x2="497.91" y2="237.65" stroke="#111" stroke-width="1.1"/>
<line x1="501.68" y1="235.8" x2="501.68" y2="237.65" stroke="#111" stroke-width="1.1"/>
<line x1="505.45" y1="235.8" x2="505.45" y2="237.65" stroke="#111" stroke-width="1.1"/>
<line x1="509.22" y1="235.8" x2="509.22" y2="237.65" stroke="#111" stroke-width="1.1"/>
<line x1="512.99" y1="235.8" x2="512.99" y2="237.65" stroke="#111" stroke-width="1.1"/>
<line x1="516.76" y1="235.8" x2="516.76" y2="237.65" stroke="#111" stroke-width="1.1"/>
<line x1="520.53" y1="235.8" x2="520.53" y2="237.65" stroke="#111" stroke-width="1.1"/>
<line x1="524.3" y1="235.8" x2="524.3" y2="238.88" stroke="#111" stroke-width="1.1"/>
<line x1="528.07" y1="235.8" x2="528.07" y2="237.65" stroke="#111" stroke-width="1.1"/>
<line x1="531.84" y1="235.8" x2="531.84" y2="237.65" stroke="#111" stroke-width="1.1"/>
<line x1="535.61" y1="235.8" x2="535.61" y2="237.65" stroke="#111" stroke-width="1.1"/>
<line x1="539.38" y1="235.8" x2="539.38" y2="237.65" stroke="#111" stroke-width="1.1"/>
<line x1="543.15" y1="235.8" x2="543.15" y2="237.65" stroke="#111" stroke-width="1.1"/>
<line x1="546.92" y1="235.8" x2="546.92" y2="237.65" stroke="#111" stroke-width="1.1"/>
<line x1="550.69" y1="235.8" x2="550.69" y2="237.65" stroke="#111" stroke-width="1.1"/>
<line x1="554.46" y1="235.8" x2="554.46" y2="237.65" stroke="#111" stroke-width="1.1"/>
<line x1="558.23" y1="235.8" x2="558.23" y2="237.65" stroke="#111" stroke-width="1.1"/>
<line x1="562" y1="235.8" x2="562" y2="238.88" stroke="#111" stroke-width="1.1"/>
<line x1="565.77" y1="235.8" x2="565.77" y2="237.65" stroke="#111" stroke-width="1.1"/>
<line x1="332" y1="389.31" x2="334.83" y2="389.31" stroke="#111" stroke-width="1.1"/>
<line x1="332" y1="385.39" x2="334.83" y2="385.39" stroke="#111" stroke-width="1.1"/>
<line x1="332" y1="381.48" x2="334.83" y2="381.48" stroke="#111" stroke-width="1.1"/>
<line x1="332" y1="377.56" x2="334.83" y2="377.56" stroke="#111" stroke-width="1.1"/>
<line x1="332" y1="373.64" x2="334.83" y2="373.64" stroke="#111" stroke-width="1.1"/>
<line x1="332" y1="369.73" x2="334.83" y2="369.73" stroke="#111" stroke-width="1.1"/>
<line x1="332" y1="365.81" x2="336.72" y2="365.81" stroke="#111" stroke-width="1.1"/>
<line x1="332" y1="361.89" x2="334.83" y2="361.89" stroke="#111" stroke-width="1.1"/>
<line x1="332" y1="357.98" x2="334.83" y2="357.98" stroke="#111" stroke-width="1.1"/>
<line x1="332" y1="354.06" x2="334.83" y2="354.06" stroke="#111" stroke-width="1.1"/>
<line x1="332" y1="350.14" x2="334.83" y2="350.14" stroke="#111" stroke-width="1.1"/>
<line x1="332" y1="346.23" x2="334.83" y2="346.23" stroke="#111" stroke-width="1.1"/>
<line x1="332" y1="342.31" x2="334.83" y2="342.31" stroke="#111" stroke-width="1.1"/>
<line x1="332" y1="338.39" x2="334.83" y2="338.39" stroke="#111" stroke-width="1.1"/>
<line x1="332" y1="334.47" x2="334.83" y2="334.47" stroke="#111" stroke-width="1.1"/>
<line x1="332" y1="330.56" x2="334.83" y2="330.56" stroke="#111" stroke-width="1.1"/>
<line x1="332" y1="326.64" x2="336.72" y2="326.64" stroke="#111" stroke-width="1.1"/>
<line x1="332" y1="322.72" x2="334.83" y2="322.72" stroke="#111" stroke-width="1.1"/>
<line x1="332" y1="318.81" x2="334.83" y2="318.81" stroke="#111" stroke-width="1.1"/>
<line x1="332" y1="314.89" x2="334.83" y2="314.89" stroke="#111" stroke-width="1.1"/>
<line x1="332" y1="310.97" x2="334.83" y2="310.97" stroke="#111" stroke-width="1.1"/>
<line x1="332" y1="307.06" x2="334.83" y2="307.06" stroke="#111" stroke-width="1.1"/>
<line x1="332" y1="303.14" x2="334.83" y2="303.14" stroke="#111" stroke-width="1.1"/>
<line x1="332" y1="299.22" x2="334.83" y2="299.22" stroke="#111" stroke-width="1.1"/>
<line x1="332" y1="295.3" x2="334.83" y2="295.3" stroke="#111" stroke-width="1.1"/>
<line x1="332" y1="291.39" x2="334.83" y2="291.39" stroke="#111" stroke-width="1.1"/>
<line x1="332" y1="287.47" x2="336.72" y2="287.47" stroke="#111" stroke-width="1.1"/>
<line x1="332" y1="283.55" x2="334.83" y2="283.55" stroke="#111" stroke-width="1.1"/>
<line x1="332" y1="279.64" x2="334.83" y2="279.64" stroke="#111" stroke-width="1.1"/>
<line x1="332" y1="275.72" x2="334.83" y2="275.72" stroke="#111" stroke-width="1.1"/>
<line x1="332" y1="271.8" x2="334.83" y2="271.8" stroke="#111" stroke-width="1.1"/>
<line x1="332" y1="267.88" x2="334.83" y2="267.88" stroke="#111" stroke-width="1.1"/>
<line x1="332" y1="263.97" x2="334.83" y2="263.97" stroke="#111" stroke-width="1.1"/>
<line x1="332" y1="260.05" x2="334.83" y2="260.05" stroke="#111" stroke-width="1.1"/>
<line x1="332" y1="256.13" x2="334.83" y2="256.13" stroke="#111" stroke-width="1.1"/>
<line x1="332" y1="252.22" x2="334.83" y2="252.22" stroke="#111" stroke-width="1.1"/>
<line x1="332" y1="248.3" x2="336.72" y2="248.3" stroke="#111" stroke-width="1.1"/>
<line x1="332" y1="244.38" x2="334.83" y2="244.38" stroke="#111" stroke-width="1.1"/>
<line x1="332" y1="240.47" x2="334.83" y2="240.47" stroke="#111" stroke-width="1.1"/>
<line x1="332" y1="236.55" x2="334.83" y2="236.55" stroke="#111" stroke-width="1.1"/>
<line x1="568" y1="386.91" x2="565.17" y2="386.91" stroke="#111" stroke-width="1.1"/>
<line x1="568" y1="382.98" x2="565.17" y2="382.98" stroke="#111" stroke-width="1.1"/>
<line x1="568" y1="379.05" x2="565.17" y2="379.05" stroke="#111" stroke-width="1.1"/>
<line x1="568" y1="375.12" x2="565.17" y2="375.12" stroke="#111" stroke-width="1.1"/>
<line x1="568" y1="371.19" x2="565.17" y2="371.19" stroke="#111" stroke-width="1.1"/>
<line x1="568" y1="367.26" x2="565.17" y2="367.26" stroke="#111" stroke-width="1.1"/>
<line x1="568" y1="363.33" x2="565.17" y2="363.33" stroke="#111" stroke-width="1.1"/>
<line x1="568" y1="359.4" x2="563.28" y2="359.4" stroke="#111" stroke-width="1.1"/>
<line x1="568" y1="355.47" x2="565.17" y2="355.47" stroke="#111" stroke-width="1.1"/>
<line x1="568" y1="351.54" x2="565.17" y2="351.54" stroke="#111" stroke-width="1.1"/>
<line x1="568" y1="347.61" x2="565.17" y2="347.61" stroke="#111" stroke-width="1.1"/>
<line x1="568" y1="343.68" x2="565.17" y2="343.68" stroke="#111" stroke-width="1.1"/>
<line x1="568" y1="339.75" x2="565.17" y2="339.75" stroke="#111" stroke-width="1.1"/>
<line x1="568" y1="335.82" x2="565.17" y2="335.82" stroke="#111" stroke-width="1.1"/>
<line x1="568" y1="331.89" x2="565.17" y2="331.89" stroke="#111" stroke-width="1.1"/>
<line x1="568" y1="327.96" x2="565.17" y2="327.96" stroke="#111" stroke-width="1.1"/>
<line x1="568" y1="324.03" x2="565.17" y2="324.03" stroke="#111" stroke-width="1.1"/>
<line x1="568" y1="320.1" x2="563.28" y2="320.1" stroke="#111" stroke-width="1.1"/>
<line x1="568" y1="316.17" x2="565.17" y2="316.17" stroke="#111" stroke-width="1.1"/>
<line x1="568" y1="312.24" x2="565.17" y2="312.24" stroke="#111" stroke-width="1.1"/>
<line x1="568" y1="308.31" x2="565.17" y2="308.31" stroke="#111" stroke-width="1.1"/>
<line x1="568" y1="304.38" x2="565.17" y2="304.38" stroke="#111" stroke-width="1.1"/>
<line x1="568" y1="300.45" x2="565.17" y2="300.45" stroke="#111" stroke-width="1.1"/>
<line x1="568" y1="296.52" x2="565.17" y2="296.52" stroke="#111" stroke-width="1.1"/>
<line x1="568" y1="292.59" x2="565.17" y2="292.59" stroke="#111" stroke-width="1.1"/>
<line x1="568" y1="288.66" x2="565.17" y2="288.66" stroke="#111" stroke-width="1.1"/>
<line x1="568" y1="284.73" x2="565.17" y2="284.73" stroke="#111" stroke-width="1.1"/>
<line x1="568" y1="280.8" x2="563.28" y2="280.8" stroke="#111" stroke-width="1.1"/>
<line x1="568" y1="276.87" x2="565.17" y2="276.87" stroke="#111" stroke-width="1.1"/>
<line x1="568" y1="272.94" x2="565.17" y2="272.94" stroke="#111" stroke-width="1.1"/>
<line x1="568" y1="269.01" x2="565.17" y2="269.01" stroke="#111" stroke-width="1.1"/>
<line x1="568" y1="265.08" x2="565.17" y2="265.08" stroke="#111" stroke-width="1.1"/>
<line x1="568" y1="261.15" x2="565.17" y2="261.15" stroke="#111" stroke-width="1.1"/>
<line x1="568" y1="257.22" x2="565.17" y2="257.22" stroke="#111" stroke-width="1.1"/>
<line x1="568" y1="253.29" x2="565.17" y2="253.29" stroke="#111" stroke-width="1.1"/>
<line x1="568" y1="249.36" x2="565.17" y2="249.36" stroke="#111" stroke-width="1.1"/>
<line x1="568" y1="245.43" x2="565.17" y2="245.43" stroke="#111" stroke-width="1.1"/>
<line x1="568" y1="241.5" x2="563.28" y2="241.5" stroke="#111" stroke-width="1.1"/>
<line x1="568" y1="237.57" x2="565.17" y2="237.57" stroke="#111" stroke-width="1.1"/>
<rect x="332" y="235.8" width="236" height="154.2" fill="none" stroke="#111" stroke-width="1.3"/>
<line x1="42.84" y1="592" x2="42.84" y2="590.15" stroke="#111" stroke-width="1.1"/>
<line x1="46.76" y1="592" x2="46.76" y2="590.15" stroke="#111" stroke-width="1.1"/>
<line x1="50.67" y1="592" x2="50.67" y2="590.15" stroke="#111" stroke-width="1.1"/>
<line x1="54.59" y1="592" x2="54.59" y2="590.15" stroke="#111" stroke-width="1.1"/>
<line x1="58.5" y1="592" x2="58.5" y2="588.92" stroke="#111" stroke-width="1.1"/>
<line x1="62.41" y1="592" x2="62.41" y2="590.15" stroke="#111" stroke-width="1.1"/>
<line x1="66.33" y1="592" x2="66.33" y2="590.15" stroke="#111" stroke-width="1.1"/>
<line x1="70.24" y1="592" x2="70.24" y2="590.15" stroke="#111" stroke-width="1.1"/>
<line x1="74.16" y1="592" x2="74.16" y2="590.15" stroke="#111" stroke-width="1.1"/>
<line x1="78.07" y1="592" x2="78.07" y2="590.15" stroke="#111" stroke-width="1.1"/>
<line x1="81.98" y1="592" x2="81.98" y2="590.15" stroke="#111" stroke-width="1.1"/>
<line x1="85.9" y1="592" x2="85.9" y2="590.15" stroke="#111" stroke-width="1.1"/>
<line x1="89.81" y1="592" x2="89.81" y2="590.15" stroke="#111" stroke-width="1.1"/>
<line x1="93.73" y1="592" x2="93.73" y2="590.15" stroke="#111" stroke-width="1.1"/>
<line x1="97.64" y1="592" x2="97.64" y2="588.92" stroke="#111" stroke-width="1.1"/>
<line x1="101.55" y1="592" x2="101.55" y2="590.15" stroke="#111" stroke-width="1.1"/>
<line x1="105.47" y1="592" x2="105.47" y2="590.15" stroke="#111" stroke-width="1.1"/>
<line x1="109.38" y1="592" x2="109.38" y2="590.15" stroke="#111" stroke-width="1.1"/>
<line x1="113.3" y1="592" x2="113.3" y2="590.15" stroke="#111" stroke-width="1.1"/>
<line x1="117.21" y1="592" x2="117.21" y2="590.15" stroke="#111" stroke-width="1.1"/>
<line x1="121.12" y1="592" x2="121.12" y2="590.15" stroke="#111" stroke-width="1.1"/>
<line x1="125.04" y1="592" x2="125.04" y2="590.15" stroke="#111" stroke-width="1.1"/>
<line x1="128.95" y1="592" x2="128.95" y2="590.15" stroke="#111" stroke-width="1.1"/>
<line x1="132.87" y1="592" x2="132.87" y2="590.15" stroke="#111" stroke-width="1.1"/>
<line x1="136.78" y1="592" x2="136.78" y2="588.92" stroke="#111" stroke-width="1.1"/>
<line x1="140.69" y1="592" x2="140.69" y2="590.15" stroke="#111" stroke-width="1.1"/>
<line x1="144.61" y1="592" x2="144.61" y2="590.15" stroke="#111" stroke-width="1.1"/>
<line x1="148.52" y1="592" x2="148.52" y2="590.15" stroke="#111" stroke-width="1.1"/>
<line x1="152.44" y1="592" x2="152.44" y2="590.15" stroke="#111" stroke-width="1.1"/>
<line x1="156.35" y1="592" x2="156.35" y2="590.15" stroke="#111" stroke-width="1.1"/>
<line x1="160.26" y1="592" x2="160.26" y2="590.15" stroke="#111" stroke-width="1.1"/>
<line x1="164.18" y1="592" x2="164.18" y2="590.15" stroke="#111" stroke-width="1.1"/>
<line x1="168.09" y1="592" x2="168.09" y2="590.15" stroke="#111" stroke-width="1.1"/>
<line x1="172.01" y1="592" x2="172.01" y2="590.15" stroke="#111" stroke-width="1.1"/>
<line x1="175.92" y1="592" x2="175.92" y2="588.92" stroke="#111" stroke-width="1.1"/>
<line x1="179.83" y1="592" x2="179.83" y2="590.15" stroke="#111" stroke-width="1.1"/>
<line x1="183.75" y1="592" x2="183.75" y2="590.15" stroke="#111" stroke-width="1.1"/>
<line x1="187.66" y1="592" x2="187.66" y2="590.15" stroke="#111" stroke-width="1.1"/>
<line x1="191.58" y1="592" x2="191.58" y2="590.15" stroke="#111" stroke-width="1.1"/>
<line x1="195.49" y1="592" x2="195.49" y2="590.15" stroke="#111" stroke-width="1.1"/>
<line x1="199.4" y1="592" x2="199.4" y2="590.15" stroke="#111" stroke-width="1.1"/>
<line x1="203.32" y1="592" x2="203.32" y2="590.15" stroke="#111" stroke-width="1.1"/>
<line x1="207.23" y1="592" x2="207.23" y2="590.15" stroke="#111" stroke-width="1.1"/>
<line x1="211.15" y1="592" x2="211.15" y2="590.15" stroke="#111" stroke-width="1.1"/>
<line x1="215.06" y1="592" x2="215.06" y2="588.92" stroke="#111" stroke-width="1.1"/>
<line x1="218.97" y1="592" x2="218.97" y2="590.15" stroke="#111" stroke-width="1.1"/>
<line x1="222.89" y1="592" x2="222.89" y2="590.15" stroke="#111" stroke-width="1.1"/>
<line x1="226.8" y1="592" x2="226.8" y2="590.15" stroke="#111" stroke-width="1.1"/>
<line x1="230.72" y1="592" x2="230.72" y2="590.15" stroke="#111" stroke-width="1.1"/>
<line x1="234.63" y1="592" x2="234.63" y2="590.15" stroke="#111" stroke-width="1.1"/>
<line x1="238.54" y1="592" x2="238.54" y2="590.15" stroke="#111" stroke-width="1.1"/>
<line x1="242.46" y1="592" x2="242.46" y2="590.15" stroke="#111" stroke-width="1.1"/>
<line x1="246.37" y1="592" x2="246.37" y2="590.15" stroke="#111" stroke-width="1.1"/>
<line x1="250.29" y1="592" x2="250.29" y2="590.15" stroke="#111" stroke-width="1.1"/>
<line x1="254.2" y1="592" x2="254.2" y2="588.92" stroke="#111" stroke-width="1.1"/>
<line x1="258.11" y1="592" x2="258.11" y2="590.15" stroke="#111" stroke-width="1.1"/>
<line x1="262.03" y1="592" x2="262.03" y2="590.15" stroke="#111" stroke-width="1.1"/>
<line x1="265.94" y1="592" x2="265.94" y2="590.15" stroke="#111" stroke-width="1.1"/>
<line x1="269.86" y1="592" x2="269.86" y2="590.15" stroke="#111" stroke-width="1.1"/>
<line x1="273.77" y1="592" x2="273.77" y2="590.15" stroke="#111" stroke-width="1.1"/>
<line x1="41.76" y1="437.8" x2="41.76" y2="440.88" stroke="#111" stroke-width="1.1"/>
<line x1="45.67" y1="437.8" x2="45.67" y2="439.65" stroke="#111" stroke-width="1.1"/>
<line x1="49.59" y1="437.8" x2="49.59" y2="439.65" stroke="#111" stroke-width="1.1"/>
<line x1="53.5" y1="437.8" x2="53.5" y2="439.65" stroke="#111" stroke-width="1.1"/>
<line x1="57.42" y1="437.8" x2="57.42" y2="439.65" stroke="#111" stroke-width="1.1"/>
<line x1="61.33" y1="437.8" x2="61.33" y2="439.65" stroke="#111" stroke-width="1.1"/>
<line x1="65.24" y1="437.8" x2="65.24" y2="439.65" stroke="#111" stroke-width="1.1"/>
<line x1="69.16" y1="437.8" x2="69.16" y2="439.65" stroke="#111" stroke-width="1.1"/>
<line x1="73.07" y1="437.8" x2="73.07" y2="439.65" stroke="#111" stroke-width="1.1"/>
<line x1="76.99" y1="437.8" x2="76.99" y2="439.65" stroke="#111" stroke-width="1.1"/>
<line x1="80.9" y1="437.8" x2="80.9" y2="440.88" stroke="#111" stroke-width="1.1"/>
<line x1="84.81" y1="437.8" x2="84.81" y2="439.65" stroke="#111" stroke-width="1.1"/>
<line x1="88.73" y1="437.8" x2="88.73" y2="439.65" stroke="#111" stroke-width="1.1"/>
<line x1="92.64" y1="437.8" x2="92.64" y2="439.65" stroke="#111" stroke-width="1.1"/>
<line x1="96.56" y1="437.8" x2="96.56" y2="439.65" stroke="#111" stroke-width="1.1"/>
<line x1="100.47" y1="437.8" x2="100.47" y2="439.65" stroke="#111" stroke-width="1.1"/>
<line x1="104.38" y1="437.8" x2="104.38" y2="439.65" stroke="#111" stroke-width="1.1"/>
<line x1="108.3" y1="437.8" x2="108.3" y2="439.65" stroke="#111" stroke-width="1.1"/>
<line x1="112.21" y1="437.8" x2="112.21" y2="439.65" stroke="#111" stroke-width="1.1"/>
<line x1="116.13" y1="437.8" x2="116.13" y2="439.65" stroke="#111" stroke-width="1.1"/>
<line x1="120.04" y1="437.8" x2="120.04" y2="440.88" stroke="#111" stroke-width="1.1"/>
<line x1="123.95" y1="437.8" x2="123.95" y2="439.65" stroke="#111" stroke-width="1.1"/>
<line x1="127.87" y1="437.8" x2="127.87" y2="439.65" stroke="#111" stroke-width="1.1"/>
<line x1="131.78" y1="437.8" x2="131.78" y2="439.65" stroke="#111" stroke-width="1.1"/>
<line x1="135.7" y1="437.8" x2="135.7" y2="439.65" stroke="#111" stroke-width="1.1"/>
<line x1="139.61" y1="437.8" x2="139.61" y2="439.65" stroke="#111" stroke-width="1.1"/>
<line x1="143.52" y1="437.8" x2="143.52" y2="439.65" stroke="#111" stroke-width="1.1"/>
<line x1="147.44" y1="437.8" x2="147.44" y2="439.65" stroke="#111" stroke-width="1.1"/>
<line x1="151.35" y1="437.8" x2="151.35" y2="439.65" stroke="#111" stroke-width="1.1"/>
<line x1="155.27" y1="437.8" x2="155.27" y2="439.65" stroke="#111" stroke-width="1.1"/>
<line x1="159.18" y1="437.8" x2="159.18" y2="440.88" stroke="#111" stroke-width="1.1"/>
<line x1="163.09" y1="437.8" x2="163.09" y2="439.65" stroke="#111" stroke-width="1.1"/>
<line x1="167.01" y1="437.8" x2="167.01" y2="439.65" stroke="#111" stroke-width="1.1"/>
<line x1="170.92" y1="437.8" x2="170.92" y2="439.65" stroke="#111" stroke-width="1.1"/>
<line x1="174.84" y1="437.8" x2="174.84" y2="439.65" stroke="#111" stroke-width="1.1"/>
<line x1="178.75" y1="437.8" x2="178.75" y2="439.65" stroke="#111" stroke-width="1.1"/>
<line x1="182.66" y1="437.8" x2="182.66" y2="439.65" stroke="#111" stroke-width="1.1"/>
<line x1="186.58" y1="437.8" x2="186.58" y2="439.65" stroke="#111" stroke-width="1.1"/>
<line x1="190.49" y1="437.8" x2="190.49" y2="439.65" stroke="#111" stroke-width="1.1"/>
<line x1="194.41" y1="437.8" x2="194.41" y2="439.65" stroke="#111" stroke-width="1.1"/>
<line x1="198.32" y1="437.8" x2="198.32" y2="440.88" stroke="#111" stroke-width="1.1"/>
<line x1="202.23" y1="437.8" x2="202.23" y2="439.65" stroke="#111" stroke-width="1.1"/>
<line x1="206.15" y1="437.8" x2="206.15" y2="439.65" stroke="#111" stroke-width="1.1"/>
<line x1="210.06" y1="437.8" x2="210.06" y2="439.65" stroke="#111" stroke-width="1.1"/>
<line x1="213.98" y1="437.8" x2="213.98" y2="439.65" stroke="#111" stroke-width="1.1"/>
<line x1="217.89" y1="437.8" x2="217.89" y2="439.65" stroke="#111" stroke-width="1.1"/>
<line x1="221.8" y1="437.8" x2="221.8" y2="439.65" stroke="#111" stroke-width="1.1"/>
<line x1="225.72" y1="437.8" x2="225.72" y2="439.65" stroke="#111" stroke-width="1.1"/>
<line x1="229.63" y1="437.8" x2="229.63" y2="439.65" stroke="#111" stroke-width="1.1"/>
<line x1="233.55" y1="437.8" x2="233.55" y2="439.65" stroke="#111" stroke-width="1.1"/>
<line x1="237.46" y1="437.8" x2="237.46" y2="440.88" stroke="#111" stroke-width="1.1"/>
<line x1="241.37" y1="437.8" x2="241.37" y2="439.65" stroke="#111" stroke-width="1.1"/>
<line x1="245.29" y1="437.8" x2="245.29" y2="439.65" stroke="#111" stroke-width="1.1"/>
<line x1="249.2" y1="437.8" x2="249.2" y2="439.65" stroke="#111" stroke-width="1.1"/>
<line x1="253.12" y1="437.8" x2="253.12" y2="439.65" stroke="#111" stroke-width="1.1"/>
<line x1="257.03" y1="437.8" x2="257.03" y2="439.65" stroke="#111" stroke-width="1.1"/>
<line x1="260.94" y1="437.8" x2="260.94" y2="439.65" stroke="#111" stroke-width="1.1"/>
<line x1="264.86" y1="437.8" x2="264.86" y2="439.65" stroke="#111" stroke-width="1.1"/>
<line x1="268.77" y1="437.8" x2="268.77" y2="439.65" stroke="#111" stroke-width="1.1"/>
<line x1="272.69" y1="437.8" x2="272.69" y2="439.65" stroke="#111" stroke-width="1.1"/>
<line x1="41" y1="589.28" x2="43.83" y2="589.28" stroke="#111" stroke-width="1.1"/>
<line x1="41" y1="585.74" x2="43.83" y2="585.74" stroke="#111" stroke-width="1.1"/>
<line x1="41" y1="582.2" x2="43.83" y2="582.2" stroke="#111" stroke-width="1.1"/>
<line x1="41" y1="578.66" x2="43.83" y2="578.66" stroke="#111" stroke-width="1.1"/>
<line x1="41" y1="575.12" x2="43.83" y2="575.12" stroke="#111" stroke-width="1.1"/>
<line x1="41" y1="571.58" x2="43.83" y2="571.58" stroke="#111" stroke-width="1.1"/>
<line x1="41" y1="568.04" x2="43.83" y2="568.04" stroke="#111" stroke-width="1.1"/>
<line x1="41" y1="564.5" x2="45.72" y2="564.5" stroke="#111" stroke-width="1.1"/>
<line x1="41" y1="560.96" x2="43.83" y2="560.96" stroke="#111" stroke-width="1.1"/>
<line x1="41" y1="557.42" x2="43.83" y2="557.42" stroke="#111" stroke-width="1.1"/>
<line x1="41" y1="553.88" x2="43.83" y2="553.88" stroke="#111" stroke-width="1.1"/>
<line x1="41" y1="550.34" x2="43.83" y2="550.34" stroke="#111" stroke-width="1.1"/>
<line x1="41" y1="546.8" x2="43.83" y2="546.8" stroke="#111" stroke-width="1.1"/>
<line x1="41" y1="543.26" x2="43.83" y2="543.26" stroke="#111" stroke-width="1.1"/>
<line x1="41" y1="539.72" x2="43.83" y2="539.72" stroke="#111" stroke-width="1.1"/>
<line x1="41" y1="536.18" x2="43.83" y2="536.18" stroke="#111" stroke-width="1.1"/>
<line x1="41" y1="532.64" x2="43.83" y2="532.64" stroke="#111" stroke-width="1.1"/>
<line x1="41" y1="529.1" x2="45.72" y2="529.1" stroke="#111" stroke-width="1.1"/>
<line x1="41" y1="525.56" x2="43.83" y2="525.56" stroke="#111" stroke-width="1.1"/>
<line x1="41" y1="522.02" x2="43.83" y2="522.02" stroke="#111" stroke-width="1.1"/>
<line x1="41" y1="518.48" x2="43.83" y2="518.48" stroke="#111" stroke-width="1.1"/>
<line x1="41" y1="514.94" x2="43.83" y2="514.94" stroke="#111" stroke-width="1.1"/>
<line x1="41" y1="511.4" x2="43.83" y2="511.4" stroke="#111" stroke-width="1.1"/>
<line x1="41" y1="507.86" x2="43.83" y2="507.86" stroke="#111" stroke-width="1.1"/>
<line x1="41" y1="504.32" x2="43.83" y2="504.32" stroke="#111" stroke-width="1.1"/>
<line x1="41" y1="500.78" x2="43.83" y2="500.78" stroke="#111" stroke-width="1.1"/>
<line x1="41" y1="497.24" x2="43.83" y2="497.24" stroke="#111" stroke-width="1.1"/>
<line x1="41" y1="493.7" x2="45.72" y2="493.7" stroke="#111" stroke-width="1.1"/>
<line x1="41" y1="490.16" x2="43.83" y2="490.16" stroke="#111" stroke-width="1.1"/>
<line x1="41" y1="486.62" x2="43.83" y2="486.62" stroke="#111" stroke-width="1.1"/>
<line x1="41" y1="483.08" x2="43.83" y2="483.08" stroke="#111" stroke-width="1.1"/>
<line x1="41" y1="479.54" x2="43.83" y2="479.54" stroke="#111" stroke-width="1.1"/>
<line x1="41" y1="476" x2="43.83" y2="476" stroke="#111" stroke-width="1.1"/>
<line x1="41" y1="472.46" x2="43.83" y2="472.46" stroke="#111" stroke-width="1.1"/>
<line x1="41" y1="468.92" x2="43.83" y2="468.92" stroke="#111" stroke-width="1.1"/>
<line x1="41" y1="465.38" x2="43.83" y2="465.38" stroke="#111" stroke-width="1.1"/>
<line x1="41" y1="461.84" x2="43.83" y2="461.84" stroke="#111" stroke-width="1.1"/>
<line x1="41" y1="458.3" x2="45.72" y2="458.3" stroke="#111" stroke-width="1.1"/>
<line x1="41" y1="454.76" x2="43.83" y2="454.76" stroke="#111" stroke-width="1.1"/>
<line x1="41" y1="451.22" x2="43.83" y2="451.22" stroke="#111" stroke-width="1.1"/>
<line x1="41" y1="447.68" x2="43.83" y2="447.68" stroke="#111" stroke-width="1.1"/>
<line x1="41" y1="444.14" x2="43.83" y2="444.14" stroke="#111" stroke-width="1.1"/>
<line x1="41" y1="440.6" x2="43.83" y2="440.6" stroke="#111" stroke-width="1.1"/>
<line x1="277" y1="590.73" x2="274.17" y2="590.73" stroke="#111" stroke-width="1.1"/>
<line x1="277" y1="587.19" x2="274.17" y2="587.19" stroke="#111" stroke-width="1.1"/>
<line x1="277" y1="583.66" x2="274.17" y2="583.66" stroke="#111" stroke-width="1.1"/>
<line x1="277" y1="580.12" x2="274.17" y2="580.12" stroke="#111" stroke-width="1.1"/>
<line x1="277" y1="576.58" x2="274.17" y2="576.58" stroke="#111" stroke-width="1.1"/>
<line x1="277" y1="573.05" x2="274.17" y2="573.05" stroke="#111" stroke-width="1.1"/>
<line x1="277" y1="569.51" x2="272.28" y2="569.51" stroke="#111" stroke-width="1.1"/>
<line x1="277" y1="565.97" x2="274.17" y2="565.97" stroke="#111" stroke-width="1.1"/>
<line x1="277" y1="562.44" x2="274.17" y2="562.44" stroke="#111" stroke-width="1.1"/>
<line x1="277" y1="558.9" x2="274.17" y2="558.9" stroke="#111" stroke-width="1.1"/>
<line x1="277" y1="555.36" x2="274.17" y2="555.36" stroke="#111" stroke-width="1.1"/>
<line x1="277" y1="551.82" x2="274.17" y2="551.82" stroke="#111" stroke-width="1.1"/>
<line x1="277" y1="548.29" x2="274.17" y2="548.29" stroke="#111" stroke-width="1.1"/>
<line x1="277" y1="544.75" x2="274.17" y2="544.75" stroke="#111" stroke-width="1.1"/>
<line x1="277" y1="541.21" x2="274.17" y2="541.21" stroke="#111" stroke-width="1.1"/>
<line x1="277" y1="537.68" x2="274.17" y2="537.68" stroke="#111" stroke-width="1.1"/>
<line x1="277" y1="534.14" x2="272.28" y2="534.14" stroke="#111" stroke-width="1.1"/>
<line x1="277" y1="530.6" x2="274.17" y2="530.6" stroke="#111" stroke-width="1.1"/>
<line x1="277" y1="527.07" x2="274.17" y2="527.07" stroke="#111" stroke-width="1.1"/>
<line x1="277" y1="523.53" x2="274.17" y2="523.53" stroke="#111" stroke-width="1.1"/>
<line x1="277" y1="519.99" x2="274.17" y2="519.99" stroke="#111" stroke-width="1.1"/>
<line x1="277" y1="516.45" x2="274.17" y2="516.45" stroke="#111" stroke-width="1.1"/>
<line x1="277" y1="512.92" x2="274.17" y2="512.92" stroke="#111" stroke-width="1.1"/>
<line x1="277" y1="509.38" x2="274.17" y2="509.38" stroke="#111" stroke-width="1.1"/>
<line x1="277" y1="505.84" x2="274.17" y2="505.84" stroke="#111" stroke-width="1.1"/>
<line x1="277" y1="502.31" x2="274.17" y2="502.31" stroke="#111" stroke-width="1.1"/>
<line x1="277" y1="498.77" x2="272.28" y2="498.77" stroke="#111" stroke-width="1.1"/>
<line x1="277" y1="495.23" x2="274.17" y2="495.23" stroke="#111" stroke-width="1.1"/>
<line x1="277" y1="491.7" x2="274.17" y2="491.7" stroke="#111" stroke-width="1.1"/>
<line x1="277" y1="488.16" x2="274.17" y2="488.16" stroke="#111" stroke-width="1.1"/>
<line x1="277" y1="484.62" x2="274.17" y2="484.62" stroke="#111" stroke-width="1.1"/>
<line x1="277" y1="481.08" x2="274.17" y2="481.08" stroke="#111" stroke-width="1.1"/>
<line x1="277" y1="477.55" x2="274.17" y2="477.55" stroke="#111" stroke-width="1.1"/>
<line x1="277" y1="474.01" x2="274.17" y2="474.01" stroke="#111" stroke-width="1.1"/>
<line x1="277" y1="470.47" x2="274.17" y2="470.47" stroke="#111" stroke-width="1.1"/>
<line x1="277" y1="466.94" x2="274.17" y2="466.94" stroke="#111" stroke-width="1.1"/>
<line x1="277" y1="463.4" x2="272.28" y2="463.4" stroke="#111" stroke-width="1.1"/>
<line x1="277" y1="459.86" x2="274.17" y2="459.86" stroke="#111" stroke-width="1.1"/>
<line x1="277" y1="456.33" x2="274.17" y2="456.33" stroke="#111" stroke-width="1.1"/>
<line x1="277" y1="452.79" x2="274.17" y2="452.79" stroke="#111" stroke-width="1.1"/>
<line x1="277" y1="449.25" x2="274.17" y2="449.25" stroke="#111" stroke-width="1.1"/>
<line x1="277" y1="445.71" x2="274.17" y2="445.71" stroke="#111" stroke-width="1.1"/>
<line x1="277" y1="442.18" x2="274.17" y2="442.18" stroke="#111" stroke-width="1.1"/>
<line x1="277" y1="438.64" x2="274.17" y2="438.64" stroke="#111" stroke-width="1.1"/>
<rect x="41" y="437.8" width="236" height="154.2" fill="none" stroke="#111" stroke-width="1.3"/>
<line x1="335.33" y1="592" x2="335.33" y2="590.15" stroke="#111" stroke-width="1.1"/>
<line x1="339.46" y1="592" x2="339.46" y2="588.91" stroke="#111" stroke-width="1.1"/>
<line x1="343.59" y1="592" x2="343.59" y2="590.15" stroke="#111" stroke-width="1.1"/>
<line x1="347.71" y1="592" x2="347.71" y2="590.15" stroke="#111" stroke-width="1.1"/>
<line x1="351.84" y1="592" x2="351.84" y2="590.15" stroke="#111" stroke-width="1.1"/>
<line x1="355.97" y1="592" x2="355.97" y2="590.15" stroke="#111" stroke-width="1.1"/>
<line x1="360.1" y1="592" x2="360.1" y2="590.15" stroke="#111" stroke-width="1.1"/>
<line x1="364.22" y1="592" x2="364.22" y2="590.15" stroke="#111" stroke-width="1.1"/>
<line x1="368.35" y1="592" x2="368.35" y2="590.15" stroke="#111" stroke-width="1.1"/>
<line x1="372.48" y1="592" x2="372.48" y2="590.15" stroke="#111" stroke-width="1.1"/>
<line x1="376.6" y1="592" x2="376.6" y2="590.15" stroke="#111" stroke-width="1.1"/>
<line x1="380.73" y1="592" x2="380.73" y2="588.91" stroke="#111" stroke-width="1.1"/>
<line x1="384.86" y1="592" x2="384.86" y2="590.15" stroke="#111" stroke-width="1.1"/>
<line x1="388.98" y1="592" x2="388.98" y2="590.15" stroke="#111" stroke-width="1.1"/>
<line x1="393.11" y1="592" x2="393.11" y2="590.15" stroke="#111" stroke-width="1.1"/>
<line x1="397.24" y1="592" x2="397.24" y2="590.15" stroke="#111" stroke-width="1.1"/>
<line x1="401.37" y1="592" x2="401.37" y2="590.15" stroke="#111" stroke-width="1.1"/>
<line x1="405.49" y1="592" x2="405.49" y2="590.15" stroke="#111" stroke-width="1.1"/>
<line x1="409.62" y1="592" x2="409.62" y2="590.15" stroke="#111" stroke-width="1.1"/>
<line x1="413.75" y1="592" x2="413.75" y2="590.15" stroke="#111" stroke-width="1.1"/>
<line x1="417.87" y1="592" x2="417.87" y2="590.15" stroke="#111" stroke-width="1.1"/>
<line x1="422" y1="592" x2="422" y2="588.91" stroke="#111" stroke-width="1.1"/>
<line x1="426.13" y1="592" x2="426.13" y2="590.15" stroke="#111" stroke-width="1.1"/>
<line x1="430.25" y1="592" x2="430.25" y2="590.15" stroke="#111" stroke-width="1.1"/>
<line x1="434.38" y1="592" x2="434.38" y2="590.15" stroke="#111" stroke-width="1.1"/>
<line x1="438.51" y1="592" x2="438.51" y2="590.15" stroke="#111" stroke-width="1.1"/>
<line x1="442.63" y1="592" x2="442.63" y2="590.15" stroke="#111" stroke-width="1.1"/>
<line x1="446.76" y1="592" x2="446.76" y2="590.15" stroke="#111" stroke-width="1.1"/>
<line x1="450.89" y1="592" x2="450.89" y2="590.15" stroke="#111" stroke-width="1.1"/>
<line x1="455.02" y1="592" x2="455.02" y2="590.15" stroke="#111" stroke-width="1.1"/>
<line x1="459.14" y1="592" x2="459.14" y2="590.15" stroke="#111" stroke-width="1.1"/>
<line x1="463.27" y1="592" x2="463.27" y2="588.91" stroke="#111" stroke-width="1.1"/>
<line x1="467.4" y1="592" x2="467.4" y2="590.15" stroke="#111" stroke-width="1.1"/>
<line x1="471.52" y1="592" x2="471.52" y2="590.15" stroke="#111" stroke-width="1.1"/>
<line x1="475.65" y1="592" x2="475.65" y2="590.15" stroke="#111" stroke-width="1.1"/>
<line x1="479.78" y1="592" x2="479.78" y2="590.15" stroke="#111" stroke-width="1.1"/>
<line x1="483.9" y1="592" x2="483.9" y2="590.15" stroke="#111" stroke-width="1.1"/>
<line x1="488.03" y1="592" x2="488.03" y2="590.15" stroke="#111" stroke-width="1.1"/>
<line x1="492.16" y1="592" x2="492.16" y2="590.15" stroke="#111" stroke-width="1.1"/>
<line x1="496.29" y1="592" x2="496.29" y2="590.15" stroke="#111" stroke-width="1.1"/>
<line x1="500.41" y1="592" x2="500.41" y2="590.15" stroke="#111" stroke-width="1.1"/>
<line x1="504.54" y1="592" x2="504.54" y2="588.91" stroke="#111" stroke-width="1.1"/>
<line x1="508.67" y1="592" x2="508.67" y2="590.15" stroke="#111" stroke-width="1.1"/>
<line x1="512.79" y1="592" x2="512.79" y2="590.15" stroke="#111" stroke-width="1.1"/>
<line x1="516.92" y1="592" x2="516.92" y2="590.15" stroke="#111" stroke-width="1.1"/>
<line x1="521.05" y1="592" x2="521.05" y2="590.15" stroke="#111" stroke-width="1.1"/>
<line x1="525.17" y1="592" x2="525.17" y2="590.15" stroke="#111" stroke-width="1.1"/>
<line x1="529.3" y1="592" x2="529.3" y2="590.15" stroke="#111" stroke-width="1.1"/>
<line x1="533.43" y1="592" x2="533.43" y2="590.15" stroke="#111" stroke-width="1.1"/>
<line x1="537.56" y1="592" x2="537.56" y2="590.15" stroke="#111" stroke-width="1.1"/>
<line x1="541.68" y1="592" x2="541.68" y2="590.15" stroke="#111" stroke-width="1.1"/>
<line x1="545.81" y1="592" x2="545.81" y2="588.91" stroke="#111" stroke-width="1.1"/>
<line x1="549.94" y1="592" x2="549.94" y2="590.15" stroke="#111" stroke-width="1.1"/>
<line x1="554.06" y1="592" x2="554.06" y2="590.15" stroke="#111" stroke-width="1.1"/>
<line x1="558.19" y1="592" x2="558.19" y2="590.15" stroke="#111" stroke-width="1.1"/>
<line x1="562.32" y1="592" x2="562.32" y2="590.15" stroke="#111" stroke-width="1.1"/>
<line x1="566.45" y1="592" x2="566.45" y2="590.15" stroke="#111" stroke-width="1.1"/>
<line x1="335.33" y1="437.5" x2="335.33" y2="439.35" stroke="#111" stroke-width="1.1"/>
<line x1="339.46" y1="437.5" x2="339.46" y2="440.59" stroke="#111" stroke-width="1.1"/>
<line x1="343.59" y1="437.5" x2="343.59" y2="439.35" stroke="#111" stroke-width="1.1"/>
<line x1="347.71" y1="437.5" x2="347.71" y2="439.35" stroke="#111" stroke-width="1.1"/>
<line x1="351.84" y1="437.5" x2="351.84" y2="439.35" stroke="#111" stroke-width="1.1"/>
<line x1="355.97" y1="437.5" x2="355.97" y2="439.35" stroke="#111" stroke-width="1.1"/>
<line x1="360.1" y1="437.5" x2="360.1" y2="439.35" stroke="#111" stroke-width="1.1"/>
<line x1="364.22" y1="437.5" x2="364.22" y2="439.35" stroke="#111" stroke-width="1.1"/>
<line x1="368.35" y1="437.5" x2="368.35" y2="439.35" stroke="#111" stroke-width="1.1"/>
<line x1="372.48" y1="437.5" x2="372.48" y2="439.35" stroke="#111" stroke-width="1.1"/>
<line x1="376.6" y1="437.5" x2="376.6" y2="439.35" stroke="#111" stroke-width="1.1"/>
<line x1="380.73" y1="437.5" x2="380.73" y2="440.59" stroke="#111" stroke-width="1.1"/>
<line x1="384.86" y1="437.5" x2="384.86" y2="439.35" stroke="#111" stroke-width="1.1"/>
<line x1="388.98" y1="437.5" x2="388.98" y2="439.35" stroke="#111" stroke-width="1.1"/>
<line x1="393.11" y1="437.5" x2="393.11" y2="439.35" stroke="#111" stroke-width="1.1"/>
<line x1="397.24" y1="437.5" x2="397.24" y2="439.35" stroke="#111" stroke-width="1.1"/>
<line x1="401.37" y1="437.5" x2="401.37" y2="439.35" stroke="#111" stroke-width="1.1"/>
<line x1="405.49" y1="437.5" x2="405.49" y2="439.35" stroke="#111" stroke-width="1.1"/>
<line x1="409.62" y1="437.5" x2="409.62" y2="439.35" stroke="#111" stroke-width="1.1"/>
<line x1="413.75" y1="437.5" x2="413.75" y2="439.35" stroke="#111" stroke-width="1.1"/>
<line x1="417.87" y1="437.5" x2="417.87" y2="439.35" stroke="#111" stroke-width="1.1"/>
<line x1="422" y1="437.5" x2="422" y2="440.59" stroke="#111" stroke-width="1.1"/>
<line x1="426.13" y1="437.5" x2="426.13" y2="439.35" stroke="#111" stroke-width="1.1"/>
<line x1="430.25" y1="437.5" x2="430.25" y2="439.35" stroke="#111" stroke-width="1.1"/>
<line x1="434.38" y1="437.5" x2="434.38" y2="439.35" stroke="#111" stroke-width="1.1"/>
<line x1="438.51" y1="437.5" x2="438.51" y2="439.35" stroke="#111" stroke-width="1.1"/>
<line x1="442.63" y1="437.5" x2="442.63" y2="439.35" stroke="#111" stroke-width="1.1"/>
<line x1="446.76" y1="437.5" x2="446.76" y2="439.35" stroke="#111" stroke-width="1.1"/>
<line x1="450.89" y1="437.5" x2="450.89" y2="439.35" stroke="#111" stroke-width="1.1"/>
<line x1="455.02" y1="437.5" x2="455.02" y2="439.35" stroke="#111" stroke-width="1.1"/>
<line x1="459.14" y1="437.5" x2="459.14" y2="439.35" stroke="#111" stroke-width="1.1"/>
<line x1="463.27" y1="437.5" x2="463.27" y2="440.59" stroke="#111" stroke-width="1.1"/>
<line x1="467.4" y1="437.5" x2="467.4" y2="439.35" stroke="#111" stroke-width="1.1"/>
<line x1="471.52" y1="437.5" x2="471.52" y2="439.35" stroke="#111" stroke-width="1.1"/>
<line x1="475.65" y1="437.5" x2="475.65" y2="439.35" stroke="#111" stroke-width="1.1"/>
<line x1="479.78" y1="437.5" x2="479.78" y2="439.35" stroke="#111" stroke-width="1.1"/>
<line x1="483.9" y1="437.5" x2="483.9" y2="439.35" stroke="#111" stroke-width="1.1"/>
<line x1="488.03" y1="437.5" x2="488.03" y2="439.35" stroke="#111" stroke-width="1.1"/>
<line x1="492.16" y1="437.5" x2="492.16" y2="439.35" stroke="#111" stroke-width="1.1"/>
<line x1="496.29" y1="437.5" x2="496.29" y2="439.35" stroke="#111" stroke-width="1.1"/>
<line x1="500.41" y1="437.5" x2="500.41" y2="439.35" stroke="#111" stroke-width="1.1"/>
<line x1="504.54" y1="437.5" x2="504.54" y2="440.59" stroke="#111" stroke-width="1.1"/>
<line x1="508.67" y1="437.5" x2="508.67" y2="439.35" stroke="#111" stroke-width="1.1"/>
<line x1="512.79" y1="437.5" x2="512.79" y2="439.35" stroke="#111" stroke-width="1.1"/>
<line x1="516.92" y1="437.5" x2="516.92" y2="439.35" stroke="#111" stroke-width="1.1"/>
<line x1="521.05" y1="437.5" x2="521.05" y2="439.35" stroke="#111" stroke-width="1.1"/>
<line x1="525.17" y1="437.5" x2="525.17" y2="439.35" stroke="#111" stroke-width="1.1"/>
<line x1="529.3" y1="437.5" x2="529.3" y2="439.35" stroke="#111" stroke-width="1.1"/>
<line x1="533.43" y1="437.5" x2="533.43" y2="439.35" stroke="#111" stroke-width="1.1"/>
<line x1="537.56" y1="437.5" x2="537.56" y2="439.35" stroke="#111" stroke-width="1.1"/>
<line x1="541.68" y1="437.5" x2="541.68" y2="439.35" stroke="#111" stroke-width="1.1"/>
<line x1="545.81" y1="437.5" x2="545.81" y2="440.59" stroke="#111" stroke-width="1.1"/>
<line x1="549.94" y1="437.5" x2="549.94" y2="439.35" stroke="#111" stroke-width="1.1"/>
<line x1="554.06" y1="437.5" x2="554.06" y2="439.35" stroke="#111" stroke-width="1.1"/>
<line x1="558.19" y1="437.5" x2="558.19" y2="439.35" stroke="#111" stroke-width="1.1"/>
<line x1="562.32" y1="437.5" x2="562.32" y2="439.35" stroke="#111" stroke-width="1.1"/>
<line x1="566.45" y1="437.5" x2="566.45" y2="439.35" stroke="#111" stroke-width="1.1"/>
<line x1="332" y1="587.74" x2="334.83" y2="587.74" stroke="#111" stroke-width="1.1"/>
<line x1="332" y1="580.42" x2="334.83" y2="580.42" stroke="#111" stroke-width="1.1"/>
<line x1="332" y1="573.1" x2="334.83" y2="573.1" stroke="#111" stroke-width="1.1"/>
<line x1="332" y1="565.78" x2="334.83" y2="565.78" stroke="#111" stroke-width="1.1"/>
<line x1="332" y1="558.46" x2="334.83" y2="558.46" stroke="#111" stroke-width="1.1"/>
<line x1="332" y1="551.14" x2="334.83" y2="551.14" stroke="#111" stroke-width="1.1"/>
<line x1="332" y1="543.82" x2="334.83" y2="543.82" stroke="#111" stroke-width="1.1"/>
<line x1="332" y1="536.5" x2="336.72" y2="536.5" stroke="#111" stroke-width="1.1"/>
<line x1="332" y1="529.18" x2="334.83" y2="529.18" stroke="#111" stroke-width="1.1"/>
<line x1="332" y1="521.86" x2="334.83" y2="521.86" stroke="#111" stroke-width="1.1"/>
<line x1="332" y1="514.54" x2="334.83" y2="514.54" stroke="#111" stroke-width="1.1"/>
<line x1="332" y1="507.22" x2="334.83" y2="507.22" stroke="#111" stroke-width="1.1"/>
<line x1="332" y1="499.9" x2="334.83" y2="499.9" stroke="#111" stroke-width="1.1"/>
<line x1="332" y1="492.58" x2="334.83" y2="492.58" stroke="#111" stroke-width="1.1"/>
<line x1="332" y1="485.26" x2="334.83" y2="485.26" stroke="#111" stroke-width="1.1"/>
<line x1="332" y1="477.94" x2="334.83" y2="477.94" stroke="#111" stroke-width="1.1"/>
<line x1="332" y1="470.62" x2="334.83" y2="470.62" stroke="#111" stroke-width="1.1"/>
<line x1="332" y1="463.3" x2="336.72" y2="463.3" stroke="#111" stroke-width="1.1"/>
<line x1="332" y1="455.98" x2="334.83" y2="455.98" stroke="#111" stroke-width="1.1"/>
<line x1="332" y1="448.66" x2="334.83" y2="448.66" stroke="#111" stroke-width="1.1"/>
<line x1="332" y1="441.34" x2="334.83" y2="441.34" stroke="#111" stroke-width="1.1"/>
<line x1="568" y1="587.74" x2="565.17" y2="587.74" stroke="#111" stroke-width="1.1"/>
<line x1="568" y1="580.42" x2="565.17" y2="580.42" stroke="#111" stroke-width="1.1"/>
<line x1="568" y1="573.1" x2="565.17" y2="573.1" stroke="#111" stroke-width="1.1"/>
<line x1="568" y1="565.78" x2="565.17" y2="565.78" stroke="#111" stroke-width="1.1"/>
<line x1="568" y1="558.46" x2="565.17" y2="558.46" stroke="#111" stroke-width="1.1"/>
<line x1="568" y1="551.14" x2="565.17" y2="551.14" stroke="#111" stroke-width="1.1"/>
<line x1="568" y1="543.82" x2="565.17" y2="543.82" stroke="#111" stroke-width="1.1"/>
<line x1="568" y1="536.5" x2="563.28" y2="536.5" stroke="#111" stroke-width="1.1"/>
<line x1="568" y1="529.18" x2="565.17" y2="529.18" stroke="#111" stroke-width="1.1"/>
<line x1="568" y1="521.86" x2="565.17" y2="521.86" stroke="#111" stroke-width="1.1"/>
<line x1="568" y1="514.54" x2="565.17" y2="514.54" stroke="#111" stroke-width="1.1"/>
<line x1="568" y1="507.22" x2="565.17" y2="507.22" stroke="#111" stroke-width="1.1"/>
<line x1="568" y1="499.9" x2="565.17" y2="499.9" stroke="#111" stroke-width="1.1"/>
<line x1="568" y1="492.58" x2="565.17" y2="492.58" stroke="#111" stroke-width="1.1"/>
<line x1="568" y1="485.26" x2="565.17" y2="485.26" stroke="#111" stroke-width="1.1"/>
<line x1="568" y1="477.94" x2="565.17" y2="477.94" stroke="#111" stroke-width="1.1"/>
<line x1="568" y1="470.62" x2="565.17" y2="470.62" stroke="#111" stroke-width="1.1"/>
<line x1="568" y1="463.3" x2="563.28" y2="463.3" stroke="#111" stroke-width="1.1"/>
<line x1="568" y1="455.98" x2="565.17" y2="455.98" stroke="#111" stroke-width="1.1"/>
<line x1="568" y1="448.66" x2="565.17" y2="448.66" stroke="#111" stroke-width="1.1"/>
<line x1="568" y1="441.34" x2="565.17" y2="441.34" stroke="#111" stroke-width="1.1"/>
<rect x="332" y="437.5" width="236" height="154.5" fill="none" stroke="#111" stroke-width="1.3"/>
<text x="91.66" y="206.6" font-size="12.03" text-anchor="start" fill="#111" stroke="#111" stroke-width="0.18" textLength="17.18" lengthAdjust="spacingAndGlyphs">−4</text>
<text x="177.67" y="206.6" font-size="12.03" text-anchor="start" fill="#111" stroke="#111" stroke-width="0.18" textLength="17.18" lengthAdjust="spacingAndGlyphs">−3</text>
<text x="263.61" y="206.6" font-size="12.03" text-anchor="start" fill="#111" stroke="#111" stroke-width="0.18" textLength="17.18" lengthAdjust="spacingAndGlyphs">−2</text>
<text x="53.83" y="28.2" font-size="11.16" text-anchor="start" fill="#111" stroke="#111" stroke-width="0.18" textLength="35.23" lengthAdjust="spacingAndGlyphs">−11.5</text>
<text x="96.76" y="28.2" font-size="11.16" text-anchor="start" fill="#111" stroke="#111" stroke-width="0.18" textLength="35.23" lengthAdjust="spacingAndGlyphs">−11.0</text>
<text x="139.73" y="28.2" font-size="11.16" text-anchor="start" fill="#111" stroke="#111" stroke-width="0.18" textLength="35.23" lengthAdjust="spacingAndGlyphs">−10.5</text>
<text x="182.66" y="28.2" font-size="11.16" text-anchor="start" fill="#111" stroke="#111" stroke-width="0.18" textLength="35.23" lengthAdjust="spacingAndGlyphs">−10.0</text>
<text x="229.51" y="28.2" font-size="11.16" text-anchor="start" fill="#111" stroke="#111" stroke-width="0.18" textLength="27.49" lengthAdjust="spacingAndGlyphs">−9.5</text>
<text x="6.57" y="74.15" font-size="13.48" text-anchor="start" fill="#111" stroke="#111" stroke-width="0.18" textLength="29.36" lengthAdjust="spacingAndGlyphs">−3.5</text>
<text x="6.52" y="116.75" font-size="13.48" text-anchor="start" fill="#111" stroke="#111" stroke-width="0.18" textLength="29.36" lengthAdjust="spacingAndGlyphs">−4.0</text>
<text x="6.57" y="159.35" font-size="13.48" text-anchor="start" fill="#111" stroke="#111" stroke-width="0.18" textLength="29.36" lengthAdjust="spacingAndGlyphs">−4.5</text>
<text x="280.75" y="51.75" font-size="10" text-anchor="start" fill="#111" stroke="#111" stroke-width="0.18" textLength="28.29" lengthAdjust="spacingAndGlyphs">−14.0</text>
<text x="280.75" y="94.35" font-size="10" text-anchor="start" fill="#111" stroke="#111" stroke-width="0.18" textLength="28.29" lengthAdjust="spacingAndGlyphs">−14.5</text>
<text x="280.75" y="136.95" font-size="10" text-anchor="start" fill="#111" stroke="#111" stroke-width="0.18" textLength="28.29" lengthAdjust="spacingAndGlyphs">−15.0</text>
<text x="280.75" y="179.55" font-size="10" text-anchor="start" fill="#111" stroke="#111" stroke-width="0.18" textLength="28.29" lengthAdjust="spacingAndGlyphs">−15.5</text>
<text x="416.86" y="206.6" font-size="12.03" text-anchor="start" fill="#111" stroke="#111" stroke-width="0.18" textLength="17.18" lengthAdjust="spacingAndGlyphs">−4</text>
<text x="541.67" y="206.6" font-size="12.03" text-anchor="start" fill="#111" stroke="#111" stroke-width="0.18" textLength="17.18" lengthAdjust="spacingAndGlyphs">−3</text>
<text x="372.31" y="27.9" font-size="11.01" text-anchor="start" fill="#111" stroke="#111" stroke-width="0.18" textLength="35.27" lengthAdjust="spacingAndGlyphs">−11.5</text>
<text x="434.64" y="27.9" font-size="11.01" text-anchor="start" fill="#111" stroke="#111" stroke-width="0.18" textLength="35.27" lengthAdjust="spacingAndGlyphs">−11.0</text>
<text x="497.01" y="27.9" font-size="11.01" text-anchor="start" fill="#111" stroke="#111" stroke-width="0.18" textLength="35.27" lengthAdjust="spacingAndGlyphs">−10.5</text>
<text x="297.4" y="61.1" font-size="13.04" text-anchor="start" fill="#111" stroke="#111" stroke-width="0.18" textLength="29.63" lengthAdjust="spacingAndGlyphs">−3.5</text>
<text x="297.36" y="114.15" font-size="13.04" text-anchor="start" fill="#111" stroke="#111" stroke-width="0.18" textLength="29.63" lengthAdjust="spacingAndGlyphs">−4.0</text>
<text x="297.4" y="167.2" font-size="13.04" text-anchor="start" fill="#111" stroke="#111" stroke-width="0.18" textLength="29.63" lengthAdjust="spacingAndGlyphs">−4.5</text>
<text x="571.75" y="78.75" font-size="10" text-anchor="start" fill="#111" stroke="#111" stroke-width="0.18" textLength="28.29" lengthAdjust="spacingAndGlyphs">−14.5</text>
<text x="571.75" y="131.55" font-size="10" text-anchor="start" fill="#111" stroke="#111" stroke-width="0.18" textLength="28.29" lengthAdjust="spacingAndGlyphs">−15.0</text>
<text x="571.75" y="184.35" font-size="10" text-anchor="start" fill="#111" stroke="#111" stroke-width="0.18" textLength="28.29" lengthAdjust="spacingAndGlyphs">−15.5</text>
<text x="38.25" y="408.8" font-size="12.9" text-anchor="start" fill="#111" stroke="#111" stroke-width="0.18" textLength="17.96" lengthAdjust="spacingAndGlyphs">−9</text>
<text x="102.47" y="408.8" font-size="12.9" text-anchor="start" fill="#111" stroke="#111" stroke-width="0.18" textLength="17.96" lengthAdjust="spacingAndGlyphs">−8</text>
<text x="166.78" y="408.8" font-size="12.9" text-anchor="start" fill="#111" stroke="#111" stroke-width="0.18" textLength="17.96" lengthAdjust="spacingAndGlyphs">−7</text>
<text x="230.98" y="408.8" font-size="12.9" text-anchor="start" fill="#111" stroke="#111" stroke-width="0.18" textLength="17.96" lengthAdjust="spacingAndGlyphs">−6</text>
<text x="92.34" y="229.9" font-size="12.03" text-anchor="start" fill="#111" stroke="#111" stroke-width="0.18" textLength="23.25" lengthAdjust="spacingAndGlyphs">−16</text>
<text x="156.57" y="229.9" font-size="12.03" text-anchor="start" fill="#111" stroke="#111" stroke-width="0.18" textLength="23.25" lengthAdjust="spacingAndGlyphs">−15</text>
<text x="220.74" y="229.9" font-size="12.03" text-anchor="start" fill="#111" stroke="#111" stroke-width="0.18" textLength="23.25" lengthAdjust="spacingAndGlyphs">−14</text>
<text x="19.08" y="255.1" font-size="11.88" text-anchor="start" fill="#111" stroke="#111" stroke-width="0.18" textLength="16.97" lengthAdjust="spacingAndGlyphs">−3</text>
<text x="18.87" y="301.15" font-size="11.88" text-anchor="start" fill="#111" stroke="#111" stroke-width="0.18" textLength="16.97" lengthAdjust="spacingAndGlyphs">−4</text>
<text x="19.05" y="347.2" font-size="11.88" text-anchor="start" fill="#111" stroke="#111" stroke-width="0.18" textLength="16.97" lengthAdjust="spacingAndGlyphs">−5</text>
<text x="19.08" y="393.25" font-size="11.88" text-anchor="start" fill="#111" stroke="#111" stroke-width="0.18" textLength="16.97" lengthAdjust="spacingAndGlyphs">−6</text>
<text x="280.42" y="262.6" font-size="9.57" text-anchor="start" fill="#111" stroke="#111" stroke-width="0.18" textLength="20" lengthAdjust="spacingAndGlyphs">−15</text>
<text x="280.42" y="308.65" font-size="9.57" text-anchor="start" fill="#111" stroke="#111" stroke-width="0.18" textLength="20" lengthAdjust="spacingAndGlyphs">−16</text>
<text x="280.42" y="354.7" font-size="9.57" text-anchor="start" fill="#111" stroke="#111" stroke-width="0.18" textLength="20" lengthAdjust="spacingAndGlyphs">−17</text>
<text x="323.07" y="408.9" font-size="13.91" text-anchor="start" fill="#111" stroke="#111" stroke-width="0.18" textLength="17.43" lengthAdjust="spacingAndGlyphs">−9</text>
<text x="360.72" y="408.9" font-size="13.91" text-anchor="start" fill="#111" stroke="#111" stroke-width="0.18" textLength="17.43" lengthAdjust="spacingAndGlyphs">−8</text>
<text x="398.45" y="408.9" font-size="13.91" text-anchor="start" fill="#111" stroke="#111" stroke-width="0.18" textLength="17.43" lengthAdjust="spacingAndGlyphs">−7</text>
<text x="436.09" y="408.9" font-size="13.91" text-anchor="start" fill="#111" stroke="#111" stroke-width="0.18" textLength="17.43" lengthAdjust="spacingAndGlyphs">−6</text>
<text x="473.75" y="408.9" font-size="13.91" text-anchor="start" fill="#111" stroke="#111" stroke-width="0.18" textLength="17.43" lengthAdjust="spacingAndGlyphs">−5</text>
<text x="511.33" y="408.9" font-size="13.91" text-anchor="start" fill="#111" stroke="#111" stroke-width="0.18" textLength="17.43" lengthAdjust="spacingAndGlyphs">−4</text>
<text x="549.13" y="408.9" font-size="13.91" text-anchor="start" fill="#111" stroke="#111" stroke-width="0.18" textLength="17.43" lengthAdjust="spacingAndGlyphs">−3</text>
<text x="323.96" y="229.9" font-size="11.01" text-anchor="start" fill="#111" stroke="#111" stroke-width="0.18" textLength="23.7" lengthAdjust="spacingAndGlyphs">−17</text>
<text x="361.61" y="229.9" font-size="11.01" text-anchor="start" fill="#111" stroke="#111" stroke-width="0.18" textLength="23.7" lengthAdjust="spacingAndGlyphs">−16</text>
<text x="399.3" y="229.9" font-size="11.01" text-anchor="start" fill="#111" stroke="#111" stroke-width="0.18" textLength="23.7" lengthAdjust="spacingAndGlyphs">−15</text>
<text x="436.91" y="229.9" font-size="11.01" text-anchor="start" fill="#111" stroke="#111" stroke-width="0.18" textLength="23.7" lengthAdjust="spacingAndGlyphs">−14</text>
<text x="474.71" y="229.9" font-size="11.01" text-anchor="start" fill="#111" stroke="#111" stroke-width="0.18" textLength="23.7" lengthAdjust="spacingAndGlyphs">−13</text>
<text x="512.46" y="229.9" font-size="11.01" text-anchor="start" fill="#111" stroke="#111" stroke-width="0.18" textLength="23.7" lengthAdjust="spacingAndGlyphs">−12</text>
<text x="550.15" y="229.9" font-size="11.01" text-anchor="start" fill="#111" stroke="#111" stroke-width="0.18" textLength="23.7" lengthAdjust="spacingAndGlyphs">−11</text>
<text x="309.52" y="253.2" font-size="13.04" text-anchor="start" fill="#111" stroke="#111" stroke-width="0.18" textLength="18.08" lengthAdjust="spacingAndGlyphs">−2</text>
<text x="309.42" y="292.37" font-size="13.04" text-anchor="start" fill="#111" stroke="#111" stroke-width="0.18" textLength="18.08" lengthAdjust="spacingAndGlyphs">−3</text>
<text x="309.19" y="331.54" font-size="13.04" text-anchor="start" fill="#111" stroke="#111" stroke-width="0.18" textLength="18.08" lengthAdjust="spacingAndGlyphs">−4</text>
<text x="309.39" y="370.71" font-size="13.04" text-anchor="start" fill="#111" stroke="#111" stroke-width="0.18" textLength="18.08" lengthAdjust="spacingAndGlyphs">−5</text>
<text x="571.12" y="245" font-size="9.86" text-anchor="start" fill="#111" stroke="#111" stroke-width="0.18" textLength="20.11" lengthAdjust="spacingAndGlyphs">−14</text>
<text x="571.12" y="284.3" font-size="9.86" text-anchor="start" fill="#111" stroke="#111" stroke-width="0.18" textLength="20.11" lengthAdjust="spacingAndGlyphs">−15</text>
<text x="571.12" y="323.6" font-size="9.86" text-anchor="start" fill="#111" stroke="#111" stroke-width="0.18" textLength="20.11" lengthAdjust="spacingAndGlyphs">−16</text>
<text x="571.12" y="362.9" font-size="9.86" text-anchor="start" fill="#111" stroke="#111" stroke-width="0.18" textLength="20.11" lengthAdjust="spacingAndGlyphs">−17</text>
<text x="49.61" y="610.9" font-size="13.33" text-anchor="start" fill="#111" stroke="#111" stroke-width="0.18" textLength="17.75" lengthAdjust="spacingAndGlyphs">−9</text>
<text x="88.72" y="610.9" font-size="13.33" text-anchor="start" fill="#111" stroke="#111" stroke-width="0.18" textLength="17.75" lengthAdjust="spacingAndGlyphs">−8</text>
<text x="127.91" y="610.9" font-size="13.33" text-anchor="start" fill="#111" stroke="#111" stroke-width="0.18" textLength="17.75" lengthAdjust="spacingAndGlyphs">−7</text>
<text x="167" y="610.9" font-size="13.33" text-anchor="start" fill="#111" stroke="#111" stroke-width="0.18" textLength="17.75" lengthAdjust="spacingAndGlyphs">−6</text>
<text x="206.13" y="610.9" font-size="13.33" text-anchor="start" fill="#111" stroke="#111" stroke-width="0.18" textLength="17.75" lengthAdjust="spacingAndGlyphs">−5</text>
<text x="245.17" y="610.9" font-size="13.33" text-anchor="start" fill="#111" stroke="#111" stroke-width="0.18" textLength="17.75" lengthAdjust="spacingAndGlyphs">−4</text>
<text x="29.88" y="432.2" font-size="11.88" text-anchor="start" fill="#111" stroke="#111" stroke-width="0.18" textLength="23.67" lengthAdjust="spacingAndGlyphs">−18</text>
<text x="69.07" y="432.2" font-size="11.88" text-anchor="start" fill="#111" stroke="#111" stroke-width="0.18" textLength="23.67" lengthAdjust="spacingAndGlyphs">−17</text>
<text x="108.17" y="432.2" font-size="11.88" text-anchor="start" fill="#111" stroke="#111" stroke-width="0.18" textLength="23.67" lengthAdjust="spacingAndGlyphs">−16</text>
<text x="147.29" y="432.2" font-size="11.88" text-anchor="start" fill="#111" stroke="#111" stroke-width="0.18" textLength="23.67" lengthAdjust="spacingAndGlyphs">−15</text>
<text x="186.34" y="432.2" font-size="11.88" text-anchor="start" fill="#111" stroke="#111" stroke-width="0.18" textLength="23.67" lengthAdjust="spacingAndGlyphs">−14</text>
<text x="225.59" y="432.2" font-size="11.88" text-anchor="start" fill="#111" stroke="#111" stroke-width="0.18" textLength="23.67" lengthAdjust="spacingAndGlyphs">−13</text>
<text x="264.77" y="432.2" font-size="11.88" text-anchor="start" fill="#111" stroke="#111" stroke-width="0.18" textLength="23.67" lengthAdjust="spacingAndGlyphs">−12</text>
<text x="18.95" y="463.2" font-size="13.04" text-anchor="start" fill="#111" stroke="#111" stroke-width="0.18" textLength="17.21" lengthAdjust="spacingAndGlyphs">−2</text>
<text x="18.86" y="498.6" font-size="13.04" text-anchor="start" fill="#111" stroke="#111" stroke-width="0.18" textLength="17.21" lengthAdjust="spacingAndGlyphs">−3</text>
<text x="18.63" y="534" font-size="13.04" text-anchor="start" fill="#111" stroke="#111" stroke-width="0.18" textLength="17.21" lengthAdjust="spacingAndGlyphs">−4</text>
<text x="18.83" y="569.4" font-size="13.04" text-anchor="start" fill="#111" stroke="#111" stroke-width="0.18" textLength="17.21" lengthAdjust="spacingAndGlyphs">−5</text>
<text x="280.42" y="467" font-size="9.57" text-anchor="start" fill="#111" stroke="#111" stroke-width="0.18" textLength="20" lengthAdjust="spacingAndGlyphs">−15</text>
<text x="280.42" y="502.37" font-size="9.57" text-anchor="start" fill="#111" stroke="#111" stroke-width="0.18" textLength="20" lengthAdjust="spacingAndGlyphs">−16</text>
<text x="280.42" y="537.74" font-size="9.57" text-anchor="start" fill="#111" stroke="#111" stroke-width="0.18" textLength="20" lengthAdjust="spacingAndGlyphs">−17</text>
<text x="280.42" y="573.11" font-size="9.57" text-anchor="start" fill="#111" stroke="#111" stroke-width="0.18" textLength="20" lengthAdjust="spacingAndGlyphs">−18</text>
<text x="330.81" y="610.7" font-size="11.45" text-anchor="start" fill="#111" stroke="#111" stroke-width="0.18" textLength="17.31" lengthAdjust="spacingAndGlyphs">−2</text>
<text x="372.07" y="610.7" font-size="11.45" text-anchor="start" fill="#111" stroke="#111" stroke-width="0.18" textLength="17.31" lengthAdjust="spacingAndGlyphs">−1</text>
<text x="417.78" y="610.7" font-size="11.45" text-anchor="start" fill="#111" stroke="#111" stroke-width="0.18" textLength="8.44" lengthAdjust="spacingAndGlyphs">0</text>
<text x="458.84" y="610.7" font-size="11.45" text-anchor="start" fill="#111" stroke="#111" stroke-width="0.18" textLength="8.44" lengthAdjust="spacingAndGlyphs">1</text>
<text x="500.32" y="610.7" font-size="11.45" text-anchor="start" fill="#111" stroke="#111" stroke-width="0.18" textLength="8.44" lengthAdjust="spacingAndGlyphs">2</text>
<text x="541.63" y="610.7" font-size="11.45" text-anchor="start" fill="#111" stroke="#111" stroke-width="0.18" textLength="8.44" lengthAdjust="spacingAndGlyphs">3</text>
<text x="319.51" y="541.05" font-size="12.61" text-anchor="start" fill="#111" stroke="#111" stroke-width="0.18" textLength="7.59" lengthAdjust="spacingAndGlyphs">6</text>
<text x="319.6" y="467.85" font-size="12.61" text-anchor="start" fill="#111" stroke="#111" stroke-width="0.18" textLength="7.59" lengthAdjust="spacingAndGlyphs">7</text>
<text x="116.26" y="11.95" font-size="13.4" text-anchor="start" fill="#111" stroke="#111" stroke-width="0.18" textLength="3.84" lengthAdjust="spacingAndGlyphs">[</text>
<text x="121.09" y="11.95" font-size="10.7" text-anchor="start" fill="#111" stroke="#111" stroke-width="0.18" textLength="59.17" lengthAdjust="spacingAndGlyphs">erg/s/cm</text>
<text x="180.82" y="6.5" font-size="7.2" text-anchor="start" fill="#111" stroke="#111" stroke-width="0.18" textLength="9.86" lengthAdjust="spacingAndGlyphs">−2</text>
<text x="191.9" y="11.95" font-size="13.4" text-anchor="start" fill="#111" stroke="#111" stroke-width="0.18" textLength="3.43" lengthAdjust="spacingAndGlyphs">]</text>
<text x="196.16" y="11.95" font-size="13.4" text-anchor="start" fill="#111" stroke="#111" stroke-width="0.18" textLength="5.02" lengthAdjust="spacingAndGlyphs">)</text>
<text x="406.71" y="11.95" font-size="13.4" text-anchor="start" fill="#111" stroke="#111" stroke-width="0.18" textLength="3.84" lengthAdjust="spacingAndGlyphs">[</text>
<text x="411.54" y="11.95" font-size="10.7" text-anchor="start" fill="#111" stroke="#111" stroke-width="0.18" textLength="59.17" lengthAdjust="spacingAndGlyphs">erg/s/cm</text>
<text x="471.27" y="6.5" font-size="7.2" text-anchor="start" fill="#111" stroke="#111" stroke-width="0.18" textLength="9.86" lengthAdjust="spacingAndGlyphs">−2</text>
<text x="482.35" y="11.95" font-size="13.4" text-anchor="start" fill="#111" stroke="#111" stroke-width="0.18" textLength="3.43" lengthAdjust="spacingAndGlyphs">]</text>
<text x="486.61" y="11.95" font-size="13.4" text-anchor="start" fill="#111" stroke="#111" stroke-width="0.18" textLength="5.02" lengthAdjust="spacingAndGlyphs">)</text>
<text x="116.01" y="218.75" font-size="13.4" text-anchor="start" fill="#111" stroke="#111" stroke-width="0.18" textLength="3.84" lengthAdjust="spacingAndGlyphs">[</text>
<text x="120.84" y="218.75" font-size="10.7" text-anchor="start" fill="#111" stroke="#111" stroke-width="0.18" textLength="59.17" lengthAdjust="spacingAndGlyphs">erg/s/cm</text>
<text x="180.57" y="213.3" font-size="7.2" text-anchor="start" fill="#111" stroke="#111" stroke-width="0.18" textLength="9.86" lengthAdjust="spacingAndGlyphs">−2</text>
<text x="191.65" y="218.75" font-size="13.4" text-anchor="start" fill="#111" stroke="#111" stroke-width="0.18" textLength="3.43" lengthAdjust="spacingAndGlyphs">]</text>
<text x="195.91" y="218.75" font-size="13.4" text-anchor="start" fill="#111" stroke="#111" stroke-width="0.18" textLength="5.02" lengthAdjust="spacingAndGlyphs">)</text>
<text x="406.71" y="218.75" font-size="13.4" text-anchor="start" fill="#111" stroke="#111" stroke-width="0.18" textLength="3.84" lengthAdjust="spacingAndGlyphs">[</text>
<text x="411.54" y="218.75" font-size="10.7" text-anchor="start" fill="#111" stroke="#111" stroke-width="0.18" textLength="59.17" lengthAdjust="spacingAndGlyphs">erg/s/cm</text>
<text x="471.27" y="213.3" font-size="7.2" text-anchor="start" fill="#111" stroke="#111" stroke-width="0.18" textLength="9.86" lengthAdjust="spacingAndGlyphs">−2</text>
<text x="482.35" y="218.75" font-size="13.4" text-anchor="start" fill="#111" stroke="#111" stroke-width="0.18" textLength="3.43" lengthAdjust="spacingAndGlyphs">]</text>
<text x="486.61" y="218.75" font-size="13.4" text-anchor="start" fill="#111" stroke="#111" stroke-width="0.18" textLength="5.02" lengthAdjust="spacingAndGlyphs">)</text>
<text x="116.01" y="420.75" font-size="13.4" text-anchor="start" fill="#111" stroke="#111" stroke-width="0.18" textLength="3.84" lengthAdjust="spacingAndGlyphs">[</text>
<text x="120.84" y="420.75" font-size="10.7" text-anchor="start" fill="#111" stroke="#111" stroke-width="0.18" textLength="59.17" lengthAdjust="spacingAndGlyphs">erg/s/cm</text>
<text x="180.57" y="415.3" font-size="7.2" text-anchor="start" fill="#111" stroke="#111" stroke-width="0.18" textLength="9.86" lengthAdjust="spacingAndGlyphs">−2</text>
<text x="191.65" y="420.75" font-size="13.4" text-anchor="start" fill="#111" stroke="#111" stroke-width="0.18" textLength="3.43" lengthAdjust="spacingAndGlyphs">]</text>
<text x="195.91" y="420.75" font-size="13.4" text-anchor="start" fill="#111" stroke="#111" stroke-width="0.18" textLength="5.02" lengthAdjust="spacingAndGlyphs">)</text>
<text x="116.86" y="47.3" font-size="11.16" text-anchor="start" fill="#111" stroke="#111" stroke-width="0.2" textLength="81.5" lengthAdjust="spacing">(a) 17−60keV</text>
<text x="407.64" y="47.4" font-size="11.59" text-anchor="start" fill="#111" stroke="#111" stroke-width="0.2" textLength="83.92" lengthAdjust="spacing">(b) 15−55keV</text>
<text x="124.64" y="249.7" font-size="11.88" text-anchor="start" fill="#111" stroke="#111" stroke-width="0.2" textLength="67.72" lengthAdjust="spacing">(c) 4−8keV</text>
<text x="411.04" y="249.4" font-size="11.45" text-anchor="start" fill="#111" stroke="#111" stroke-width="0.2" textLength="75.52" lengthAdjust="spacing">(d) 2−10keV</text>
<text x="118.55" y="452.2" font-size="11.01" text-anchor="start" fill="#111" stroke="#111" stroke-width="0.2" textLength="78.81" lengthAdjust="spacing">(e) 0.5−2keV</text>
<text x="397.33" y="451" font-size="11.3" text-anchor="start" fill="#111" stroke="#111" stroke-width="0.2" textLength="103.78" lengthAdjust="spacing">(f) Spitzer−24μm</text>
<polyline points="79.3,113 104.3,119.5 115,118 135,115.5 160,114 180,117.5 200,116 215,115 235,116.3 250,115 270,113 277,112" fill="none" stroke="#ff6a1a" stroke-width="2.2" stroke-dasharray="6,3" stroke-linejoin="round"/>
<polyline points="79.3,112.3 104.3,119.3 115,117.7 135,115 160,113 180,116.5 200,114.5 215,111.5 235,113.5 250,111.7 270,108.7 277,108" fill="none" stroke="#ec1c12" stroke-width="2.2" stroke-linejoin="round"/>
<polyline points="79.3,110.7 94.3,109.7 106.3,109.3 117.7,111.7 135,113 160,110.5 180,110.5 200,111 215,111 235,109.2 250,110.3 270,107.6 277,106.5" fill="none" stroke="#22e022" stroke-width="2.2" stroke-dasharray="5,2.5,1.5,2.5" stroke-linejoin="round"/>
<polyline points="79.3,108.3 103.7,115 117,115 135,112.3 160,113 180,116.5 200,114.5 215,111.4 235,113.5 250,111.7 270,109.75 277,109" fill="none" stroke="#1010c4" stroke-width="2.2" stroke-dasharray="6,2,1.5,2,1.5,2" stroke-linejoin="round"/>
<line x1="109.3" y1="95.5" x2="109.3" y2="184.1" stroke="#4e2a72" stroke-width="1.3"/>
<line x1="106.3" y1="95.5" x2="112.3" y2="95.5" stroke="#4e2a72" stroke-width="1.3"/>
<line x1="106.3" y1="184.1" x2="112.3" y2="184.1" stroke="#4e2a72" stroke-width="1.3"/>
<path d="M105.7 136.1L112.9 143.3M105.7 143.3L112.9 136.1M105.7 139.7L112.9 139.7M109.3 136.1L109.3 143.3" stroke="#3e0c62" stroke-width="1.15" fill="none"/>
<line x1="118.3" y1="74.3" x2="118.3" y2="181.1" stroke="#4e2a72" stroke-width="1.3"/>
<line x1="115.3" y1="74.3" x2="121.3" y2="74.3" stroke="#4e2a72" stroke-width="1.3"/>
<line x1="115.3" y1="181.1" x2="121.3" y2="181.1" stroke="#4e2a72" stroke-width="1.3"/>
<path d="M114.7 124.1L121.9 131.3M114.7 131.3L121.9 124.1M114.7 127.7L121.9 127.7M118.3 124.1L118.3 131.3" stroke="#3e0c62" stroke-width="1.15" fill="none"/>
<line x1="126.5" y1="72.4" x2="126.5" y2="161.2" stroke="#4e2a72" stroke-width="1.3"/>
<line x1="123.5" y1="72.4" x2="129.5" y2="72.4" stroke="#4e2a72" stroke-width="1.3"/>
<line x1="123.5" y1="161.2" x2="129.5" y2="161.2" stroke="#4e2a72" stroke-width="1.3"/>
<path d="M122.9 113.2L130.1 120.4M122.9 120.4L130.1 113.2M122.9 116.8L130.1 116.8M126.5 113.2L126.5 120.4" stroke="#3e0c62" stroke-width="1.15" fill="none"/>
<line x1="135.4" y1="76.9" x2="135.4" y2="167.2" stroke="#4e2a72" stroke-width="1.3"/>
<line x1="132.4" y1="76.9" x2="138.4" y2="76.9" stroke="#4e2a72" stroke-width="1.3"/>
<line x1="132.4" y1="167.2" x2="138.4" y2="167.2" stroke="#4e2a72" stroke-width="1.3"/>
<path d="M131.8 118.6L139 125.8M131.8 125.8L139 118.6M131.8 122.2L139 122.2M135.4 118.6L135.4 125.8" stroke="#3e0c62" stroke-width="1.15" fill="none"/>
<line x1="143.8" y1="77.5" x2="143.8" y2="163.2" stroke="#4e2a72" stroke-width="1.3"/>
<line x1="140.8" y1="77.5" x2="146.8" y2="77.5" stroke="#4e2a72" stroke-width="1.3"/>
<line x1="140.8" y1="163.2" x2="146.8" y2="163.2" stroke="#4e2a72" stroke-width="1.3"/>
<path d="M140.2 116.2L147.4 123.4M140.2 123.4L147.4 116.2M140.2 119.8L147.4 119.8M143.8 116.2L143.8 123.4" stroke="#3e0c62" stroke-width="1.15" fill="none"/>
<line x1="152.4" y1="81.9" x2="152.4" y2="181.9" stroke="#4e2a72" stroke-width="1.3"/>
<line x1="149.4" y1="81.9" x2="155.4" y2="81.9" stroke="#4e2a72" stroke-width="1.3"/>
<line x1="149.4" y1="181.9" x2="155.4" y2="181.9" stroke="#4e2a72" stroke-width="1.3"/>
<path d="M148.8 128.5L156 135.7M148.8 135.7L156 128.5M148.8 132.1L156 132.1M152.4 128.5L152.4 135.7" stroke="#3e0c62" stroke-width="1.15" fill="none"/>
<line x1="161.1" y1="68.4" x2="161.1" y2="163.6" stroke="#4e2a72" stroke-width="1.3"/>
<line x1="158.1" y1="68.4" x2="164.1" y2="68.4" stroke="#4e2a72" stroke-width="1.3"/>
<line x1="158.1" y1="163.6" x2="164.1" y2="163.6" stroke="#4e2a72" stroke-width="1.3"/>
<path d="M157.5 112.8L164.7 120M157.5 120L164.7 112.8M157.5 116.4L164.7 116.4M161.1 112.8L161.1 120" stroke="#3e0c62" stroke-width="1.15" fill="none"/>
<line x1="169.7" y1="61" x2="169.7" y2="168.6" stroke="#4e2a72" stroke-width="1.3"/>
<line x1="166.7" y1="61" x2="172.7" y2="61" stroke="#4e2a72" stroke-width="1.3"/>
<line x1="166.7" y1="168.6" x2="172.7" y2="168.6" stroke="#4e2a72" stroke-width="1.3"/>
<path d="M166.1 111.2L173.3 118.4M166.1 118.4L173.3 111.2M166.1 114.8L173.3 114.8M169.7 111.2L169.7 118.4" stroke="#3e0c62" stroke-width="1.15" fill="none"/>
<line x1="178.1" y1="60.3" x2="178.1" y2="142.2" stroke="#4e2a72" stroke-width="1.3"/>
<line x1="175.1" y1="60.3" x2="181.1" y2="60.3" stroke="#4e2a72" stroke-width="1.3"/>
<line x1="175.1" y1="142.2" x2="181.1" y2="142.2" stroke="#4e2a72" stroke-width="1.3"/>
<path d="M174.5 97.9L181.7 105.1M174.5 105.1L181.7 97.9M174.5 101.5L181.7 101.5M178.1 97.9L178.1 105.1" stroke="#3e0c62" stroke-width="1.15" fill="none"/>
<line x1="186.8" y1="87" x2="186.8" y2="162.1" stroke="#4e2a72" stroke-width="1.3"/>
<line x1="183.8" y1="87" x2="189.8" y2="87" stroke="#4e2a72" stroke-width="1.3"/>
<line x1="183.8" y1="162.1" x2="189.8" y2="162.1" stroke="#4e2a72" stroke-width="1.3"/>
<path d="M183.2 120.8L190.4 128M183.2 128L190.4 120.8M183.2 124.4L190.4 124.4M186.8 120.8L186.8 128" stroke="#3e0c62" stroke-width="1.15" fill="none"/>
<line x1="195.3" y1="85.4" x2="195.3" y2="184.1" stroke="#4e2a72" stroke-width="1.3"/>
<line x1="192.3" y1="85.4" x2="198.3" y2="85.4" stroke="#4e2a72" stroke-width="1.3"/>
<line x1="192.3" y1="184.1" x2="198.3" y2="184.1" stroke="#4e2a72" stroke-width="1.3"/>
<path d="M191.7 131.2L198.9 138.4M191.7 138.4L198.9 131.2M191.7 134.8L198.9 134.8M195.3 131.2L195.3 138.4" stroke="#3e0c62" stroke-width="1.15" fill="none"/>
<line x1="203.9" y1="80.5" x2="203.9" y2="170.6" stroke="#4e2a72" stroke-width="1.3"/>
<line x1="200.9" y1="80.5" x2="206.9" y2="80.5" stroke="#4e2a72" stroke-width="1.3"/>
<line x1="200.9" y1="170.6" x2="206.9" y2="170.6" stroke="#4e2a72" stroke-width="1.3"/>
<path d="M200.3 121.9L207.5 129.1M200.3 129.1L207.5 121.9M200.3 125.5L207.5 125.5M203.9 121.9L203.9 129.1" stroke="#3e0c62" stroke-width="1.15" fill="none"/>
<line x1="212.9" y1="62.4" x2="212.9" y2="187.3" stroke="#4e2a72" stroke-width="1.3"/>
<line x1="209.9" y1="62.4" x2="215.9" y2="62.4" stroke="#4e2a72" stroke-width="1.3"/>
<line x1="209.9" y1="187.3" x2="215.9" y2="187.3" stroke="#4e2a72" stroke-width="1.3"/>
<path d="M209.3 121.1L216.5 128.3M209.3 128.3L216.5 121.1M209.3 124.7L216.5 124.7M212.9 121.1L212.9 128.3" stroke="#3e0c62" stroke-width="1.15" fill="none"/>
<line x1="225.4" y1="82.8" x2="225.4" y2="149.1" stroke="#4e2a72" stroke-width="1.3"/>
<line x1="222.4" y1="82.8" x2="228.4" y2="82.8" stroke="#4e2a72" stroke-width="1.3"/>
<line x1="222.4" y1="149.1" x2="228.4" y2="149.1" stroke="#4e2a72" stroke-width="1.3"/>
<path d="M221.8 112.9L229 120.1M221.8 120.1L229 112.9M221.8 116.5L229 116.5M225.4 112.9L225.4 120.1" stroke="#3e0c62" stroke-width="1.15" fill="none"/>
<line x1="251.1" y1="96.1" x2="251.1" y2="188.5" stroke="#4e2a72" stroke-width="1.3"/>
<line x1="248.1" y1="96.1" x2="254.1" y2="96.1" stroke="#4e2a72" stroke-width="1.3"/>
<path d="M247.5 141.9L254.7 149.1M247.5 149.1L254.7 141.9M247.5 145.5L254.7 145.5M251.1 141.9L251.1 149.1" stroke="#3e0c62" stroke-width="1.15" fill="none"/>
<rect x="46.7" y="53.7" width="74.6" height="16.5" fill="#fff" stroke="#8a8a8a" stroke-width="1.1"/>
<path d="M54.8 59.2L60.2 64.6M54.8 64.6L60.2 59.2M54.8 61.9L60.2 61.9M57.5 59.2L57.5 64.6" stroke="#3e0c62" stroke-width="0.85" fill="none"/>
<text x="63.92" y="64.8" font-size="9.13" text-anchor="start" fill="#3e0c62" stroke="#3e0c62" stroke-width="0.12" textLength="53.7" lengthAdjust="spacing">Krivonos10</text>
<polyline points="387.8,105.5 425,105.5 462,110.5 480,106.7 500,103.7 515,105.2 540,107.8 568,108.2" fill="none" stroke="#ff6a1a" stroke-width="2.2" stroke-dasharray="6,3" stroke-linejoin="round"/>
<polyline points="387.8,104.5 425,104.5 462,109.6 478,105.3 490,103 500,101.5 515,103 540,104.8 568,104.8" fill="none" stroke="#ec1c12" stroke-width="2.2" stroke-linejoin="round"/>
<polyline points="387.8,102.5 425,98 462,102.3 480,103.7 500,103.7 515,100.7 540,99.2 568,101.8" fill="none" stroke="#22e022" stroke-width="2.2" stroke-dasharray="5,2.5,1.5,2.5" stroke-linejoin="round"/>
<polyline points="387.8,96.8 425,100.3 464,104.3 478,102.8 490,102 500,101.5 515,103 540,104.8 568,104.8" fill="none" stroke="#1010c4" stroke-width="2.2" stroke-dasharray="6,2,1.5,2,1.5,2" stroke-linejoin="round"/>
<line x1="431.6" y1="112.1" x2="431.6" y2="129" stroke="#4e2a72" stroke-width="1.3"/>
<line x1="428.6" y1="112.1" x2="434.6" y2="112.1" stroke="#4e2a72" stroke-width="1.3"/>
<line x1="428.6" y1="129" x2="434.6" y2="129" stroke="#4e2a72" stroke-width="1.3"/>
<path d="M428 116.4L435.2 123.6M428 123.6L435.2 116.4M428 120L435.2 120M431.6 116.4L431.6 123.6" stroke="#3e0c62" stroke-width="1.15" fill="none"/>
<line x1="442.7" y1="109.6" x2="442.7" y2="127.7" stroke="#4e2a72" stroke-width="1.3"/>
<line x1="439.7" y1="109.6" x2="445.7" y2="109.6" stroke="#4e2a72" stroke-width="1.3"/>
<line x1="439.7" y1="127.7" x2="445.7" y2="127.7" stroke="#4e2a72" stroke-width="1.3"/>
<path d="M439.1 114.8L446.3 122M439.1 122L446.3 114.8M439.1 118.4L446.3 118.4M442.7 114.8L442.7 122" stroke="#3e0c62" stroke-width="1.15" fill="none"/>
<line x1="455.2" y1="112.1" x2="455.2" y2="132.9" stroke="#4e2a72" stroke-width="1.3"/>
<line x1="452.2" y1="112.1" x2="458.2" y2="112.1" stroke="#4e2a72" stroke-width="1.3"/>
<line x1="452.2" y1="132.9" x2="458.2" y2="132.9" stroke="#4e2a72" stroke-width="1.3"/>
<path d="M451.6 118.9L458.8 126.1M451.6 126.1L458.8 118.9M451.6 122.5L458.8 122.5M455.2 118.9L455.2 126.1" stroke="#3e0c62" stroke-width="1.15" fill="none"/>
<line x1="466.3" y1="112.1" x2="466.3" y2="141.5" stroke="#4e2a72" stroke-width="1.3"/>
<line x1="463.3" y1="112.1" x2="469.3" y2="112.1" stroke="#4e2a72" stroke-width="1.3"/>
<line x1="463.3" y1="141.5" x2="469.3" y2="141.5" stroke="#4e2a72" stroke-width="1.3"/>
<path d="M462.7 123.2L469.9 130.4M462.7 130.4L469.9 123.2M462.7 126.8L469.9 126.8M466.3 123.2L466.3 130.4" stroke="#3e0c62" stroke-width="1.15" fill="none"/>
<line x1="479.1" y1="103" x2="479.1" y2="136.3" stroke="#4e2a72" stroke-width="1.3"/>
<line x1="476.1" y1="103" x2="482.1" y2="103" stroke="#4e2a72" stroke-width="1.3"/>
<line x1="476.1" y1="136.3" x2="482.1" y2="136.3" stroke="#4e2a72" stroke-width="1.3"/>
<path d="M475.5 115.8L482.7 123M475.5 123L482.7 115.8M475.5 119.4L482.7 119.4M479.1 115.8L479.1 123" stroke="#3e0c62" stroke-width="1.15" fill="none"/>
<line x1="491.7" y1="114.3" x2="491.7" y2="156.4" stroke="#4e2a72" stroke-width="1.3"/>
<line x1="488.7" y1="114.3" x2="494.7" y2="114.3" stroke="#4e2a72" stroke-width="1.3"/>
<line x1="488.7" y1="156.4" x2="494.7" y2="156.4" stroke="#4e2a72" stroke-width="1.3"/>
<path d="M488.1 131.5L495.3 138.7M488.1 138.7L495.3 131.5M488.1 135.1L495.3 135.1M491.7 131.5L491.7 138.7" stroke="#3e0c62" stroke-width="1.15" fill="none"/>
<line x1="505.1" y1="103.2" x2="505.1" y2="158.6" stroke="#4e2a72" stroke-width="1.3"/>
<line x1="502.1" y1="103.2" x2="508.1" y2="103.2" stroke="#4e2a72" stroke-width="1.3"/>
<line x1="502.1" y1="158.6" x2="508.1" y2="158.6" stroke="#4e2a72" stroke-width="1.3"/>
<path d="M501.5 128.5L508.7 135.7M501.5 135.7L508.7 128.5M501.5 132.1L508.7 132.1M505.1 128.5L505.1 135.7" stroke="#3e0c62" stroke-width="1.15" fill="none"/>
<line x1="517.8" y1="92.8" x2="517.8" y2="160.5" stroke="#4e2a72" stroke-width="1.3"/>
<line x1="514.8" y1="92.8" x2="520.8" y2="92.8" stroke="#4e2a72" stroke-width="1.3"/>
<line x1="514.8" y1="160.5" x2="520.8" y2="160.5" stroke="#4e2a72" stroke-width="1.3"/>
<path d="M514.2 123.1L521.4 130.3M514.2 130.3L521.4 123.1M514.2 126.7L521.4 126.7M517.8 123.1L517.8 130.3" stroke="#3e0c62" stroke-width="1.15" fill="none"/>
<line x1="530.1" y1="91.8" x2="530.1" y2="155.3" stroke="#4e2a72" stroke-width="1.3"/>
<line x1="527.1" y1="91.8" x2="533.1" y2="91.8" stroke="#4e2a72" stroke-width="1.3"/>
<line x1="527.1" y1="155.3" x2="533.1" y2="155.3" stroke="#4e2a72" stroke-width="1.3"/>
<path d="M526.5 119.8L533.7 127M526.5 127L533.7 119.8M526.5 123.4L533.7 123.4M530.1 119.8L530.1 127" stroke="#3e0c62" stroke-width="1.15" fill="none"/>
<rect x="337.4" y="53.6" width="59.2" height="16.6" fill="#fff" stroke="#8a8a8a" stroke-width="1.1"/>
<path d="M345.5 59.6L350.9 65M345.5 65L350.9 59.6M345.5 62.3L350.9 62.3M348.2 59.6L348.2 65" stroke="#3e0c62" stroke-width="0.85" fill="none"/>
<text x="354.78" y="65.2" font-size="9.42" text-anchor="start" fill="#3e0c62" stroke="#3e0c62" stroke-width="0.12" textLength="36.94" lengthAdjust="spacing">Ajello12</text>
<polyline points="69.8,377.5 92,364 110,350 140,324 160,308.5 180,297.5 200,287 220,280.5 240,275.5 258,273.5 277,274" fill="none" stroke="#ff6a1a" stroke-width="2.2" stroke-dasharray="6,3" stroke-linejoin="round"/>
<polyline points="69.8,376.8 80,370.5 92,363.5 110,349 125,337.5 140,323.5 160,308 180,297 200,286 220,279 240,274.5 258,272 277,272.5" fill="none" stroke="#ec1c12" stroke-width="2.2" stroke-linejoin="round"/>
<polyline points="69.8,370.9 92,360 110,349 125,338 140,324.5 160,308.5 180,295 200,283.5 220,276 240,270.5 258,268.5 277,268.3" fill="none" stroke="#22e022" stroke-width="2.2" stroke-dasharray="5,2.5,1.5,2.5" stroke-linejoin="round"/>
<polyline points="69.8,375.1 92,362 110,348 125,336.5 140,322.5 160,307.5 180,295.5 200,284 220,276.5 240,271.5 258,269.5 277,269" fill="none" stroke="#1010c4" stroke-width="2.2" stroke-dasharray="6,2,1.5,2,1.5,2" stroke-linejoin="round"/>
<line x1="92" y1="342" x2="92" y2="390" stroke="#4e2a72" stroke-width="1.3"/>
<line x1="89.25" y1="342" x2="94.75" y2="342" stroke="#4e2a72" stroke-width="1.3"/>
<path d="M88.4 363.6L95.6 370.8M88.4 370.8L95.6 363.6M88.4 367.2L95.6 367.2M92 363.6L92 370.8" stroke="#3e0c62" stroke-width="1.15" fill="none"/>
<line x1="100.9" y1="337.6" x2="100.9" y2="380.3" stroke="#4e2a72" stroke-width="1.3"/>
<line x1="98.15" y1="337.6" x2="103.65" y2="337.6" stroke="#4e2a72" stroke-width="1.3"/>
<line x1="98.15" y1="380.3" x2="103.65" y2="380.3" stroke="#4e2a72" stroke-width="1.3"/>
<path d="M97.3 355.5L104.5 362.7M97.3 362.7L104.5 355.5M97.3 359.1L104.5 359.1M100.9 355.5L100.9 362.7" stroke="#3e0c62" stroke-width="1.15" fill="none"/>
<line x1="109.7" y1="331.3" x2="109.7" y2="367" stroke="#4e2a72" stroke-width="1.3"/>
<line x1="106.95" y1="331.3" x2="112.45" y2="331.3" stroke="#4e2a72" stroke-width="1.3"/>
<line x1="106.95" y1="367" x2="112.45" y2="367" stroke="#4e2a72" stroke-width="1.3"/>
<path d="M106.1 346.3L113.3 353.5M106.1 353.5L113.3 346.3M106.1 349.9L113.3 349.9M109.7 346.3L109.7 353.5" stroke="#3e0c62" stroke-width="1.15" fill="none"/>
<line x1="118.1" y1="325.5" x2="118.1" y2="354.6" stroke="#4e2a72" stroke-width="1.3"/>
<line x1="115.35" y1="325.5" x2="120.85" y2="325.5" stroke="#4e2a72" stroke-width="1.3"/>
<line x1="115.35" y1="354.6" x2="120.85" y2="354.6" stroke="#4e2a72" stroke-width="1.3"/>
<path d="M114.5 336.2L121.7 343.4M114.5 343.4L121.7 336.2M114.5 339.8L121.7 339.8M118.1 336.2L118.1 343.4" stroke="#3e0c62" stroke-width="1.15" fill="none"/>
<line x1="127" y1="317.9" x2="127" y2="342.3" stroke="#4e2a72" stroke-width="1.3"/>
<line x1="124.25" y1="317.9" x2="129.75" y2="317.9" stroke="#4e2a72" stroke-width="1.3"/>
<line x1="124.25" y1="342.3" x2="129.75" y2="342.3" stroke="#4e2a72" stroke-width="1.3"/>
<path d="M123.4 326.6L130.6 333.8M123.4 333.8L130.6 326.6M123.4 330.2L130.6 330.2M127 326.6L127 333.8" stroke="#3e0c62" stroke-width="1.15" fill="none"/>
<line x1="134.1" y1="306.6" x2="134.1" y2="338.1" stroke="#4e2a72" stroke-width="1.3"/>
<line x1="131.35" y1="306.6" x2="136.85" y2="306.6" stroke="#4e2a72" stroke-width="1.3"/>
<line x1="131.35" y1="338.1" x2="136.85" y2="338.1" stroke="#4e2a72" stroke-width="1.3"/>
<path d="M130.5 318.5L137.7 325.7M130.5 325.7L137.7 318.5M130.5 322.1L137.7 322.1M134.1 318.5L134.1 325.7" stroke="#3e0c62" stroke-width="1.15" fill="none"/>
<line x1="141.3" y1="305.7" x2="141.3" y2="322" stroke="#4e2a72" stroke-width="1.3"/>
<line x1="138.55" y1="305.7" x2="144.05" y2="305.7" stroke="#4e2a72" stroke-width="1.3"/>
<line x1="138.55" y1="322" x2="144.05" y2="322" stroke="#4e2a72" stroke-width="1.3"/>
<path d="M137.7 310.7L144.9 317.9M137.7 317.9L144.9 310.7M137.7 314.3L144.9 314.3M141.3 310.7L141.3 317.9" stroke="#3e0c62" stroke-width="1.15" fill="none"/>
<line x1="150.4" y1="297.7" x2="150.4" y2="312.3" stroke="#4e2a72" stroke-width="1.3"/>
<line x1="147.65" y1="297.7" x2="153.15" y2="297.7" stroke="#4e2a72" stroke-width="1.3"/>
<line x1="147.65" y1="312.3" x2="153.15" y2="312.3" stroke="#4e2a72" stroke-width="1.3"/>
<path d="M146.8 301.4L154 308.6M146.8 308.6L154 301.4M146.8 305L154 305M150.4 301.4L150.4 308.6" stroke="#3e0c62" stroke-width="1.15" fill="none"/>
<line x1="159.1" y1="291.7" x2="159.1" y2="305.7" stroke="#4e2a72" stroke-width="1.3"/>
<line x1="156.35" y1="291.7" x2="161.85" y2="291.7" stroke="#4e2a72" stroke-width="1.3"/>
<line x1="156.35" y1="305.7" x2="161.85" y2="305.7" stroke="#4e2a72" stroke-width="1.3"/>
<path d="M155.5 294.7L162.7 301.9M155.5 301.9L162.7 294.7M155.5 298.3L162.7 298.3M159.1 294.7L159.1 301.9" stroke="#3e0c62" stroke-width="1.15" fill="none"/>
<line x1="167.7" y1="287.4" x2="167.7" y2="301.7" stroke="#4e2a72" stroke-width="1.3"/>
<line x1="164.95" y1="287.4" x2="170.45" y2="287.4" stroke="#4e2a72" stroke-width="1.3"/>
<line x1="164.95" y1="301.7" x2="170.45" y2="301.7" stroke="#4e2a72" stroke-width="1.3"/>
<path d="M164.1 290.5L171.3 297.7M164.1 297.7L171.3 290.5M164.1 294.1L171.3 294.1M167.7 290.5L167.7 297.7" stroke="#3e0c62" stroke-width="1.15" fill="none"/>
<line x1="176.3" y1="282.7" x2="176.3" y2="297.4" stroke="#4e2a72" stroke-width="1.3"/>
<line x1="173.55" y1="282.7" x2="179.05" y2="282.7" stroke="#4e2a72" stroke-width="1.3"/>
<line x1="173.55" y1="297.4" x2="179.05" y2="297.4" stroke="#4e2a72" stroke-width="1.3"/>
<path d="M172.7 286.5L179.9 293.7M172.7 293.7L179.9 286.5M172.7 290.1L179.9 290.1M176.3 286.5L176.3 293.7" stroke="#3e0c62" stroke-width="1.15" fill="none"/>
<line x1="184.9" y1="280.3" x2="184.9" y2="299" stroke="#4e2a72" stroke-width="1.3"/>
<line x1="182.15" y1="280.3" x2="187.65" y2="280.3" stroke="#4e2a72" stroke-width="1.3"/>
<line x1="182.15" y1="299" x2="187.65" y2="299" stroke="#4e2a72" stroke-width="1.3"/>
<path d="M181.3 285.4L188.5 292.6M181.3 292.6L188.5 285.4M181.3 289L188.5 289M184.9 285.4L184.9 292.6" stroke="#3e0c62" stroke-width="1.15" fill="none"/>
<line x1="192.7" y1="271.4" x2="192.7" y2="309.9" stroke="#4e2a72" stroke-width="1.3"/>
<line x1="189.95" y1="271.4" x2="195.45" y2="271.4" stroke="#4e2a72" stroke-width="1.3"/>
<line x1="189.95" y1="309.9" x2="195.45" y2="309.9" stroke="#4e2a72" stroke-width="1.3"/>
<path d="M189.1 287.4L196.3 294.6M189.1 294.6L196.3 287.4M189.1 291L196.3 291M192.7 287.4L192.7 294.6" stroke="#3e0c62" stroke-width="1.15" fill="none"/>
<line x1="199.3" y1="273.4" x2="199.3" y2="297.4" stroke="#4e2a72" stroke-width="1.3"/>
<line x1="196.55" y1="273.4" x2="202.05" y2="273.4" stroke="#4e2a72" stroke-width="1.3"/>
<line x1="196.55" y1="297.4" x2="202.05" y2="297.4" stroke="#4e2a72" stroke-width="1.3"/>
<path d="M195.7 282.1L202.9 289.3M195.7 289.3L202.9 282.1M195.7 285.7L202.9 285.7M199.3 282.1L199.3 289.3" stroke="#3e0c62" stroke-width="1.15" fill="none"/>
<line x1="208.3" y1="264.5" x2="208.3" y2="280.5" stroke="#4e2a72" stroke-width="1.3"/>
<line x1="205.55" y1="264.5" x2="211.05" y2="264.5" stroke="#4e2a72" stroke-width="1.3"/>
<line x1="205.55" y1="280.5" x2="211.05" y2="280.5" stroke="#4e2a72" stroke-width="1.3"/>
<path d="M204.7 268.4L211.9 275.6M204.7 275.6L211.9 268.4M204.7 272L211.9 272M208.3 268.4L208.3 275.6" stroke="#3e0c62" stroke-width="1.15" fill="none"/>
<line x1="216.9" y1="265" x2="216.9" y2="286.1" stroke="#4e2a72" stroke-width="1.3"/>
<line x1="214.15" y1="265" x2="219.65" y2="265" stroke="#4e2a72" stroke-width="1.3"/>
<line x1="214.15" y1="286.1" x2="219.65" y2="286.1" stroke="#4e2a72" stroke-width="1.3"/>
<path d="M213.3 271.8L220.5 279M213.3 279L220.5 271.8M213.3 275.4L220.5 275.4M216.9 271.8L216.9 279" stroke="#3e0c62" stroke-width="1.15" fill="none"/>
<line x1="226" y1="263.4" x2="226" y2="314.3" stroke="#4e2a72" stroke-width="1.3"/>
<line x1="223.25" y1="263.4" x2="228.75" y2="263.4" stroke="#4e2a72" stroke-width="1.3"/>
<line x1="223.25" y1="314.3" x2="228.75" y2="314.3" stroke="#4e2a72" stroke-width="1.3"/>
<path d="M222.4 285.2L229.6 292.4M222.4 292.4L229.6 285.2M222.4 288.8L229.6 288.8M226 285.2L226 292.4" stroke="#3e0c62" stroke-width="1.15" fill="none"/>
<line x1="234.6" y1="259" x2="234.6" y2="302.3" stroke="#4e2a72" stroke-width="1.3"/>
<line x1="231.85" y1="259" x2="237.35" y2="259" stroke="#4e2a72" stroke-width="1.3"/>
<line x1="231.85" y1="302.3" x2="237.35" y2="302.3" stroke="#4e2a72" stroke-width="1.3"/>
<path d="M231 277L238.2 284.2M231 284.2L238.2 277M231 280.6L238.2 280.6M234.6 277L234.6 284.2" stroke="#3e0c62" stroke-width="1.15" fill="none"/>
<line x1="243.3" y1="249.2" x2="243.3" y2="324.6" stroke="#4e2a72" stroke-width="1.3"/>
<line x1="240.55" y1="249.2" x2="246.05" y2="249.2" stroke="#4e2a72" stroke-width="1.3"/>
<line x1="240.55" y1="324.6" x2="246.05" y2="324.6" stroke="#4e2a72" stroke-width="1.3"/>
<path d="M239.7 283.2L246.9 290.4M239.7 290.4L246.9 283.2M239.7 286.8L246.9 286.8M243.3 283.2L243.3 290.4" stroke="#3e0c62" stroke-width="1.15" fill="none"/>
<line x1="250.8" y1="236" x2="250.8" y2="390" stroke="#4e2a72" stroke-width="1.3"/>
<path d="M247.2 323.2L254.4 330.4M247.2 330.4L254.4 323.2M247.2 326.8L254.4 326.8M250.8 323.2L250.8 330.4" stroke="#3e0c62" stroke-width="1.15" fill="none"/>
<line x1="258" y1="240" x2="258" y2="305.4" stroke="#4e2a72" stroke-width="1.3"/>
<line x1="255.25" y1="240" x2="260.75" y2="240" stroke="#4e2a72" stroke-width="1.3"/>
<line x1="255.25" y1="305.4" x2="260.75" y2="305.4" stroke="#4e2a72" stroke-width="1.3"/>
<path d="M254.4 269.8L261.6 277M254.4 277L261.6 269.8M254.4 273.4L261.6 273.4M258 269.8L258 277" stroke="#3e0c62" stroke-width="1.15" fill="none"/>
<rect x="46.7" y="255.6" width="69.3" height="16.4" fill="#fff" stroke="#8a8a8a" stroke-width="1.1"/>
<path d="M55 261.3L60.4 266.7M55 266.7L60.4 261.3M55 264L60.4 264M57.7 261.3L57.7 266.7" stroke="#3e0c62" stroke-width="0.85" fill="none"/>
<text x="63.31" y="267.2" font-size="9.13" text-anchor="start" fill="#3e0c62" stroke="#3e0c62" stroke-width="0.12" textLength="49.04" lengthAdjust="spacing">Lehmer12</text>
<line x1="355" y1="365.66" x2="355" y2="385.56" stroke="#2ee0f0" stroke-width="1.2"/>
<line x1="352.25" y1="365.66" x2="357.75" y2="365.66" stroke="#2ee0f0" stroke-width="1.2"/>
<line x1="352.25" y1="385.56" x2="357.75" y2="385.56" stroke="#2ee0f0" stroke-width="1.2"/>
<polygon points="355,372.61 358,377.86 352,377.86" fill="none" stroke="#2ee0f0" stroke-width="1.2"/>
<line x1="359.6" y1="361.77" x2="359.6" y2="382.73" stroke="#2ee0f0" stroke-width="1.2"/>
<line x1="356.85" y1="361.77" x2="362.35" y2="361.77" stroke="#2ee0f0" stroke-width="1.2"/>
<line x1="356.85" y1="382.73" x2="362.35" y2="382.73" stroke="#2ee0f0" stroke-width="1.2"/>
<polygon points="359.6,369.25 362.6,374.5 356.6,374.5" fill="none" stroke="#2ee0f0" stroke-width="1.2"/>
<line x1="364.2" y1="354.99" x2="364.2" y2="378" stroke="#2ee0f0" stroke-width="1.2"/>
<line x1="361.45" y1="354.99" x2="366.95" y2="354.99" stroke="#2ee0f0" stroke-width="1.2"/>
<line x1="361.45" y1="378" x2="366.95" y2="378" stroke="#2ee0f0" stroke-width="1.2"/>
<polygon points="364.2,363.5 367.2,368.75 361.2,368.75" fill="none" stroke="#2ee0f0" stroke-width="1.2"/>
<line x1="368.8" y1="355.92" x2="368.8" y2="374.03" stroke="#2ee0f0" stroke-width="1.2"/>
<line x1="366.05" y1="355.92" x2="371.55" y2="355.92" stroke="#2ee0f0" stroke-width="1.2"/>
<line x1="366.05" y1="374.03" x2="371.55" y2="374.03" stroke="#2ee0f0" stroke-width="1.2"/>
<polygon points="368.8,361.98 371.8,367.23 365.8,367.23" fill="none" stroke="#2ee0f0" stroke-width="1.2"/>
<line x1="373.4" y1="347.85" x2="373.4" y2="367.92" stroke="#2ee0f0" stroke-width="1.2"/>
<line x1="370.65" y1="347.85" x2="376.15" y2="347.85" stroke="#2ee0f0" stroke-width="1.2"/>
<line x1="370.65" y1="367.92" x2="376.15" y2="367.92" stroke="#2ee0f0" stroke-width="1.2"/>
<polygon points="373.4,354.88 376.4,360.13 370.4,360.13" fill="none" stroke="#2ee0f0" stroke-width="1.2"/>
<line x1="378" y1="340.89" x2="378" y2="366.85" stroke="#2ee0f0" stroke-width="1.2"/>
<line x1="375.25" y1="340.89" x2="380.75" y2="340.89" stroke="#2ee0f0" stroke-width="1.2"/>
<line x1="375.25" y1="366.85" x2="380.75" y2="366.85" stroke="#2ee0f0" stroke-width="1.2"/>
<polygon points="378,350.87 381,356.12 375,356.12" fill="none" stroke="#2ee0f0" stroke-width="1.2"/>
<line x1="382.6" y1="336.23" x2="382.6" y2="360.92" stroke="#2ee0f0" stroke-width="1.2"/>
<line x1="379.85" y1="336.23" x2="385.35" y2="336.23" stroke="#2ee0f0" stroke-width="1.2"/>
<line x1="379.85" y1="360.92" x2="385.35" y2="360.92" stroke="#2ee0f0" stroke-width="1.2"/>
<polygon points="382.6,345.57 385.6,350.82 379.6,350.82" fill="none" stroke="#2ee0f0" stroke-width="1.2"/>
<line x1="387.2" y1="330.39" x2="387.2" y2="353.51" stroke="#2ee0f0" stroke-width="1.2"/>
<line x1="384.45" y1="330.39" x2="389.95" y2="330.39" stroke="#2ee0f0" stroke-width="1.2"/>
<line x1="384.45" y1="353.51" x2="389.95" y2="353.51" stroke="#2ee0f0" stroke-width="1.2"/>
<polygon points="387.2,338.95 390.2,344.2 384.2,344.2" fill="none" stroke="#2ee0f0" stroke-width="1.2"/>
<line x1="391.8" y1="328.52" x2="391.8" y2="351.6" stroke="#2ee0f0" stroke-width="1.2"/>
<line x1="389.05" y1="328.52" x2="394.55" y2="328.52" stroke="#2ee0f0" stroke-width="1.2"/>
<line x1="389.05" y1="351.6" x2="394.55" y2="351.6" stroke="#2ee0f0" stroke-width="1.2"/>
<polygon points="391.8,337.06 394.8,342.31 388.8,342.31" fill="none" stroke="#2ee0f0" stroke-width="1.2"/>
<line x1="396.4" y1="323.74" x2="396.4" y2="345.93" stroke="#2ee0f0" stroke-width="1.2"/>
<line x1="393.65" y1="323.74" x2="399.15" y2="323.74" stroke="#2ee0f0" stroke-width="1.2"/>
<line x1="393.65" y1="345.93" x2="399.15" y2="345.93" stroke="#2ee0f0" stroke-width="1.2"/>
<polygon points="396.4,331.83 399.4,337.08 393.4,337.08" fill="none" stroke="#2ee0f0" stroke-width="1.2"/>
<line x1="401" y1="315.18" x2="401" y2="338.55" stroke="#2ee0f0" stroke-width="1.2"/>
<line x1="398.25" y1="315.18" x2="403.75" y2="315.18" stroke="#2ee0f0" stroke-width="1.2"/>
<line x1="398.25" y1="338.55" x2="403.75" y2="338.55" stroke="#2ee0f0" stroke-width="1.2"/>
<polygon points="401,323.86 404,329.11 398,329.11" fill="none" stroke="#2ee0f0" stroke-width="1.2"/>
<line x1="405.6" y1="310.98" x2="405.6" y2="335.05" stroke="#2ee0f0" stroke-width="1.2"/>
<line x1="402.85" y1="310.98" x2="408.35" y2="310.98" stroke="#2ee0f0" stroke-width="1.2"/>
<line x1="402.85" y1="335.05" x2="408.35" y2="335.05" stroke="#2ee0f0" stroke-width="1.2"/>
<polygon points="405.6,320.01 408.6,325.26 402.6,325.26" fill="none" stroke="#2ee0f0" stroke-width="1.2"/>
<line x1="410.2" y1="304.61" x2="410.2" y2="325.02" stroke="#2ee0f0" stroke-width="1.2"/>
<line x1="407.45" y1="304.61" x2="412.95" y2="304.61" stroke="#2ee0f0" stroke-width="1.2"/>
<line x1="407.45" y1="325.02" x2="412.95" y2="325.02" stroke="#2ee0f0" stroke-width="1.2"/>
<polygon points="410.2,311.81 413.2,317.06 407.2,317.06" fill="none" stroke="#2ee0f0" stroke-width="1.2"/>
<line x1="414.8" y1="298.57" x2="414.8" y2="323.49" stroke="#2ee0f0" stroke-width="1.2"/>
<line x1="412.05" y1="298.57" x2="417.55" y2="298.57" stroke="#2ee0f0" stroke-width="1.2"/>
<line x1="412.05" y1="323.49" x2="417.55" y2="323.49" stroke="#2ee0f0" stroke-width="1.2"/>
<polygon points="414.8,308.03 417.8,313.28 411.8,313.28" fill="none" stroke="#2ee0f0" stroke-width="1.2"/>
<line x1="419.4" y1="295.26" x2="419.4" y2="319.01" stroke="#2ee0f0" stroke-width="1.2"/>
<line x1="416.65" y1="295.26" x2="422.15" y2="295.26" stroke="#2ee0f0" stroke-width="1.2"/>
<line x1="416.65" y1="319.01" x2="422.15" y2="319.01" stroke="#2ee0f0" stroke-width="1.2"/>
<polygon points="419.4,304.14 422.4,309.39 416.4,309.39" fill="none" stroke="#2ee0f0" stroke-width="1.2"/>
<line x1="424" y1="290.5" x2="424" y2="314.22" stroke="#2ee0f0" stroke-width="1.2"/>
<line x1="421.25" y1="290.5" x2="426.75" y2="290.5" stroke="#2ee0f0" stroke-width="1.2"/>
<line x1="421.25" y1="314.22" x2="426.75" y2="314.22" stroke="#2ee0f0" stroke-width="1.2"/>
<polygon points="424,299.36 427,304.61 421,304.61" fill="none" stroke="#2ee0f0" stroke-width="1.2"/>
<line x1="428.6" y1="287.1" x2="428.6" y2="308.26" stroke="#2ee0f0" stroke-width="1.2"/>
<line x1="425.85" y1="287.1" x2="431.35" y2="287.1" stroke="#2ee0f0" stroke-width="1.2"/>
<line x1="425.85" y1="308.26" x2="431.35" y2="308.26" stroke="#2ee0f0" stroke-width="1.2"/>
<polygon points="428.6,294.68 431.6,299.93 425.6,299.93" fill="none" stroke="#2ee0f0" stroke-width="1.2"/>
<line x1="433.2" y1="283.25" x2="433.2" y2="304.8" stroke="#2ee0f0" stroke-width="1.2"/>
<line x1="430.45" y1="283.25" x2="435.95" y2="283.25" stroke="#2ee0f0" stroke-width="1.2"/>
<line x1="430.45" y1="304.8" x2="435.95" y2="304.8" stroke="#2ee0f0" stroke-width="1.2"/>
<polygon points="433.2,291.02 436.2,296.27 430.2,296.27" fill="none" stroke="#2ee0f0" stroke-width="1.2"/>
<line x1="437.8" y1="275.71" x2="437.8" y2="300.74" stroke="#2ee0f0" stroke-width="1.2"/>
<line x1="435.05" y1="275.71" x2="440.55" y2="275.71" stroke="#2ee0f0" stroke-width="1.2"/>
<line x1="435.05" y1="300.74" x2="440.55" y2="300.74" stroke="#2ee0f0" stroke-width="1.2"/>
<polygon points="437.8,285.22 440.8,290.47 434.8,290.47" fill="none" stroke="#2ee0f0" stroke-width="1.2"/>
<line x1="442.4" y1="274.69" x2="442.4" y2="293.78" stroke="#2ee0f0" stroke-width="1.2"/>
<line x1="439.65" y1="274.69" x2="445.15" y2="274.69" stroke="#2ee0f0" stroke-width="1.2"/>
<line x1="439.65" y1="293.78" x2="445.15" y2="293.78" stroke="#2ee0f0" stroke-width="1.2"/>
<polygon points="442.4,281.23 445.4,286.48 439.4,286.48" fill="none" stroke="#2ee0f0" stroke-width="1.2"/>
<line x1="447" y1="269.69" x2="447" y2="295.41" stroke="#2ee0f0" stroke-width="1.2"/>
<line x1="444.25" y1="269.69" x2="449.75" y2="269.69" stroke="#2ee0f0" stroke-width="1.2"/>
<line x1="444.25" y1="295.41" x2="449.75" y2="295.41" stroke="#2ee0f0" stroke-width="1.2"/>
<polygon points="447,279.55 450,284.8 444,284.8" fill="none" stroke="#2ee0f0" stroke-width="1.2"/>
<line x1="451.6" y1="267.94" x2="451.6" y2="290.96" stroke="#2ee0f0" stroke-width="1.2"/>
<line x1="448.85" y1="267.94" x2="454.35" y2="267.94" stroke="#2ee0f0" stroke-width="1.2"/>
<line x1="448.85" y1="290.96" x2="454.35" y2="290.96" stroke="#2ee0f0" stroke-width="1.2"/>
<polygon points="451.6,276.45 454.6,281.7 448.6,281.7" fill="none" stroke="#2ee0f0" stroke-width="1.2"/>
<line x1="459.4" y1="249" x2="459.4" y2="331.5" stroke="#2ee0f0" stroke-width="1.2"/>
<line x1="456.65" y1="249" x2="462.15" y2="249" stroke="#2ee0f0" stroke-width="1.2"/>
<line x1="456.65" y1="331.5" x2="462.15" y2="331.5" stroke="#2ee0f0" stroke-width="1.2"/>
<polygon points="459.4,286.8 462.6,292.4 456.2,292.4" fill="none" stroke="#2ee0f0" stroke-width="1.2"/>
<line x1="464.2" y1="257.2" x2="464.2" y2="318" stroke="#2ee0f0" stroke-width="1.2"/>
<line x1="461.45" y1="257.2" x2="466.95" y2="257.2" stroke="#2ee0f0" stroke-width="1.2"/>
<line x1="461.45" y1="318" x2="466.95" y2="318" stroke="#2ee0f0" stroke-width="1.2"/>
<polygon points="464.2,284.8 467.4,290.4 461,290.4" fill="none" stroke="#2ee0f0" stroke-width="1.2"/>
<line x1="469.3" y1="252.5" x2="469.3" y2="311" stroke="#2ee0f0" stroke-width="1.2"/>
<line x1="466.55" y1="252.5" x2="472.05" y2="252.5" stroke="#2ee0f0" stroke-width="1.2"/>
<line x1="466.55" y1="311" x2="472.05" y2="311" stroke="#2ee0f0" stroke-width="1.2"/>
<polygon points="469.3,280.8 472.5,286.4 466.1,286.4" fill="none" stroke="#2ee0f0" stroke-width="1.2"/>
<line x1="474.3" y1="249" x2="474.3" y2="318.5" stroke="#2ee0f0" stroke-width="1.2"/>
<line x1="471.55" y1="249" x2="477.05" y2="249" stroke="#2ee0f0" stroke-width="1.2"/>
<line x1="471.55" y1="318.5" x2="477.05" y2="318.5" stroke="#2ee0f0" stroke-width="1.2"/>
<polygon points="474.3,282.8 477.5,288.4 471.1,288.4" fill="none" stroke="#2ee0f0" stroke-width="1.2"/>
<line x1="455.2" y1="262" x2="455.2" y2="296.1" stroke="#2ee0f0" stroke-width="1.2"/>
<line x1="452.45" y1="262" x2="457.95" y2="262" stroke="#2ee0f0" stroke-width="1.2"/>
<line x1="452.45" y1="296.1" x2="457.95" y2="296.1" stroke="#2ee0f0" stroke-width="1.2"/>
<polygon points="455.2,279.8 458.4,285.4 452,285.4" fill="none" stroke="#2ee0f0" stroke-width="1.2"/>
<line x1="505.5" y1="278" x2="505.5" y2="286" stroke="#30a8e8" stroke-width="1.2"/>
<line x1="503" y1="278" x2="508" y2="278" stroke="#30a8e8" stroke-width="1.2"/>
<line x1="503" y1="286" x2="508" y2="286" stroke="#30a8e8" stroke-width="1.2"/>
<polygon points="505.5,279 508.5,282 505.5,285 502.5,282" fill="none" stroke="#30a8e8" stroke-width="1.2"/>
<line x1="511.5" y1="278" x2="511.5" y2="286" stroke="#30a8e8" stroke-width="1.2"/>
<line x1="509" y1="278" x2="514" y2="278" stroke="#30a8e8" stroke-width="1.2"/>
<line x1="509" y1="286" x2="514" y2="286" stroke="#30a8e8" stroke-width="1.2"/>
<polygon points="511.5,279 514.5,282 511.5,285 508.5,282" fill="none" stroke="#30a8e8" stroke-width="1.2"/>
<line x1="519.7" y1="265.3" x2="519.7" y2="278.7" stroke="#30a8e8" stroke-width="1.2"/>
<line x1="517.2" y1="265.3" x2="522.2" y2="265.3" stroke="#30a8e8" stroke-width="1.2"/>
<line x1="517.2" y1="278.7" x2="522.2" y2="278.7" stroke="#30a8e8" stroke-width="1.2"/>
<polygon points="519.7,269 522.7,272 519.7,275 516.7,272" fill="none" stroke="#30a8e8" stroke-width="1.2"/>
<line x1="487" y1="272" x2="487" y2="280" stroke="#30a8e8" stroke-width="1.2"/>
<line x1="484.5" y1="272" x2="489.5" y2="272" stroke="#30a8e8" stroke-width="1.2"/>
<line x1="484.5" y1="280" x2="489.5" y2="280" stroke="#30a8e8" stroke-width="1.2"/>
<polygon points="487,273 490,276 487,279 484,276" fill="none" stroke="#30a8e8" stroke-width="1.2"/>
<line x1="487" y1="264" x2="487" y2="271" stroke="#b8f030" stroke-width="1.2"/>
<line x1="484.25" y1="264" x2="489.75" y2="264" stroke="#b8f030" stroke-width="1.2"/>
<line x1="484.25" y1="271" x2="489.75" y2="271" stroke="#b8f030" stroke-width="1.2"/>
<rect x="484" y="264.5" width="6" height="6" fill="none" stroke="#b8f030" stroke-width="1.2"/>
<line x1="492" y1="264" x2="492" y2="271" stroke="#b8f030" stroke-width="1.2"/>
<line x1="489.25" y1="264" x2="494.75" y2="264" stroke="#b8f030" stroke-width="1.2"/>
<line x1="489.25" y1="271" x2="494.75" y2="271" stroke="#b8f030" stroke-width="1.2"/>
<rect x="489" y="264.5" width="6" height="6" fill="none" stroke="#b8f030" stroke-width="1.2"/>
<line x1="497" y1="264.5" x2="497" y2="271.5" stroke="#b8f030" stroke-width="1.2"/>
<line x1="494.25" y1="264.5" x2="499.75" y2="264.5" stroke="#b8f030" stroke-width="1.2"/>
<line x1="494.25" y1="271.5" x2="499.75" y2="271.5" stroke="#b8f030" stroke-width="1.2"/>
<rect x="494" y="265" width="6" height="6" fill="none" stroke="#b8f030" stroke-width="1.2"/>
<line x1="502" y1="264.5" x2="502" y2="271.5" stroke="#b8f030" stroke-width="1.2"/>
<line x1="499.25" y1="264.5" x2="504.75" y2="264.5" stroke="#b8f030" stroke-width="1.2"/>
<line x1="499.25" y1="271.5" x2="504.75" y2="271.5" stroke="#b8f030" stroke-width="1.2"/>
<rect x="499" y="265" width="6" height="6" fill="none" stroke="#b8f030" stroke-width="1.2"/>
<line x1="507" y1="264" x2="507" y2="271" stroke="#b8f030" stroke-width="1.2"/>
<line x1="504.25" y1="264" x2="509.75" y2="264" stroke="#b8f030" stroke-width="1.2"/>
<line x1="504.25" y1="271" x2="509.75" y2="271" stroke="#b8f030" stroke-width="1.2"/>
<rect x="504" y="264.5" width="6" height="6" fill="none" stroke="#b8f030" stroke-width="1.2"/>
<line x1="531" y1="267" x2="531" y2="274" stroke="#b8f030" stroke-width="1.2"/>
<line x1="528.25" y1="267" x2="533.75" y2="267" stroke="#b8f030" stroke-width="1.2"/>
<line x1="528.25" y1="274" x2="533.75" y2="274" stroke="#b8f030" stroke-width="1.2"/>
<rect x="528" y="267.5" width="6" height="6" fill="none" stroke="#b8f030" stroke-width="1.2"/>
<line x1="536" y1="265.5" x2="536" y2="273.5" stroke="#b8f030" stroke-width="1.2"/>
<line x1="533.25" y1="265.5" x2="538.75" y2="265.5" stroke="#b8f030" stroke-width="1.2"/>
<line x1="533.25" y1="273.5" x2="538.75" y2="273.5" stroke="#b8f030" stroke-width="1.2"/>
<rect x="533" y="266.5" width="6" height="6" fill="none" stroke="#b8f030" stroke-width="1.2"/>
<line x1="541.5" y1="264" x2="541.5" y2="274" stroke="#b8f030" stroke-width="1.2"/>
<line x1="538.75" y1="264" x2="544.25" y2="264" stroke="#b8f030" stroke-width="1.2"/>
<line x1="538.75" y1="274" x2="544.25" y2="274" stroke="#b8f030" stroke-width="1.2"/>
<rect x="538.5" y="266" width="6" height="6" fill="none" stroke="#b8f030" stroke-width="1.2"/>
<line x1="546" y1="263" x2="546" y2="273" stroke="#b8f030" stroke-width="1.2"/>
<line x1="543.25" y1="263" x2="548.75" y2="263" stroke="#b8f030" stroke-width="1.2"/>
<line x1="543.25" y1="273" x2="548.75" y2="273" stroke="#b8f030" stroke-width="1.2"/>
<rect x="543" y="265" width="6" height="6" fill="none" stroke="#b8f030" stroke-width="1.2"/>
<line x1="550" y1="261" x2="550" y2="273" stroke="#b8f030" stroke-width="1.2"/>
<line x1="547.25" y1="261" x2="552.75" y2="261" stroke="#b8f030" stroke-width="1.2"/>
<line x1="547.25" y1="273" x2="552.75" y2="273" stroke="#b8f030" stroke-width="1.2"/>
<rect x="547" y="264" width="6" height="6" fill="none" stroke="#b8f030" stroke-width="1.2"/>
<line x1="556.5" y1="259.5" x2="556.5" y2="272.5" stroke="#b8f030" stroke-width="1.2"/>
<line x1="553.75" y1="259.5" x2="559.25" y2="259.5" stroke="#b8f030" stroke-width="1.2"/>
<line x1="553.75" y1="272.5" x2="559.25" y2="272.5" stroke="#b8f030" stroke-width="1.2"/>
<rect x="553.5" y="263" width="6" height="6" fill="none" stroke="#b8f030" stroke-width="1.2"/>
<polyline points="348.4,376.4 364.5,363.8 376,352.1 387.5,338.8 399,327 410.5,312.1 422,298.3 433.4,287.9 440,284.5 453.3,277.1 466.7,273.8 480,272.8 493.3,274.5 506.7,277.8 520,281.3 540,282.8 555,288.1 568,286.8" fill="none" stroke="#ff6a1a" stroke-width="2.2" stroke-dasharray="6,3" stroke-linejoin="round"/>
<polyline points="348.4,375.6 364.5,363 376,351.3 387.5,338 399,326.2 410.5,311.3 422,297.5 433.4,287.1 440,283.7 453.3,276.3 466.7,273 480,272 493.3,273.7 506.7,277 520,280.5 540,282 555,287.3 568,286" fill="none" stroke="#ec1c12" stroke-width="2.2" stroke-linejoin="round"/>
<polyline points="348.4,374.5 364.5,362 376,350.8 387.5,337.5 399,326.5 410.5,311.5 422,298 433.4,287.5 440,283.5 453.3,276 466.7,273 480,272 493.3,272.5 509,273.7 525,278 540,280.7 568,285" fill="none" stroke="#22e022" stroke-width="2.2" stroke-dasharray="5,2.5,1.5,2.5" stroke-linejoin="round"/>
<polyline points="348.4,376 364.5,362.3 376,350.3 387.5,337 399,325.2 410.5,310.3 422,296.5 433.4,286 440,281 453.3,273.7 466.7,271.7 480,271 493.3,271.7 520,271.5 540,276.7 555,282 568,285" fill="none" stroke="#1010c4" stroke-width="2.2" stroke-dasharray="6,2,1.5,2,1.5,2" stroke-linejoin="round"/>
<line x1="424" y1="286.68" x2="424" y2="292.68" stroke="#3e0c62" stroke-width="1"/>
<line x1="422" y1="286.68" x2="426" y2="286.68" stroke="#3e0c62" stroke-width="1"/>
<line x1="422" y1="292.68" x2="426" y2="292.68" stroke="#3e0c62" stroke-width="1"/>
<path d="M422 287.68L426 291.68M422 291.68L426 287.68M422 289.68L426 289.68M424 287.68L424 291.68" stroke="#3e0c62" stroke-width="0.9" fill="none"/>
<line x1="429" y1="283.11" x2="429" y2="289.11" stroke="#3e0c62" stroke-width="1"/>
<line x1="427" y1="283.11" x2="431" y2="283.11" stroke="#3e0c62" stroke-width="1"/>
<line x1="427" y1="289.11" x2="431" y2="289.11" stroke="#3e0c62" stroke-width="1"/>
<path d="M427 284.11L431 288.11M427 288.11L431 284.11M427 286.11L431 286.11M429 284.11L429 288.11" stroke="#3e0c62" stroke-width="0.9" fill="none"/>
<line x1="434" y1="277.79" x2="434" y2="283.79" stroke="#3e0c62" stroke-width="1"/>
<line x1="432" y1="277.79" x2="436" y2="277.79" stroke="#3e0c62" stroke-width="1"/>
<line x1="432" y1="283.79" x2="436" y2="283.79" stroke="#3e0c62" stroke-width="1"/>
<path d="M432 278.79L436 282.79M432 282.79L436 278.79M432 280.79L436 280.79M434 278.79L434 282.79" stroke="#3e0c62" stroke-width="0.9" fill="none"/>
<line x1="439" y1="276.22" x2="439" y2="282.22" stroke="#3e0c62" stroke-width="1"/>
<line x1="437" y1="276.22" x2="441" y2="276.22" stroke="#3e0c62" stroke-width="1"/>
<line x1="437" y1="282.22" x2="441" y2="282.22" stroke="#3e0c62" stroke-width="1"/>
<path d="M437 277.22L441 281.22M437 281.22L441 277.22M437 279.22L441 279.22M439 277.22L439 281.22" stroke="#3e0c62" stroke-width="0.9" fill="none"/>
<line x1="444" y1="272.47" x2="444" y2="278.47" stroke="#3e0c62" stroke-width="1"/>
<line x1="442" y1="272.47" x2="446" y2="272.47" stroke="#3e0c62" stroke-width="1"/>
<line x1="442" y1="278.47" x2="446" y2="278.47" stroke="#3e0c62" stroke-width="1"/>
<path d="M442 273.47L446 277.47M442 277.47L446 273.47M442 275.47L446 275.47M444 273.47L444 277.47" stroke="#3e0c62" stroke-width="0.9" fill="none"/>
<line x1="449" y1="270.69" x2="449" y2="276.69" stroke="#3e0c62" stroke-width="1"/>
<line x1="447" y1="270.69" x2="451" y2="270.69" stroke="#3e0c62" stroke-width="1"/>
<line x1="447" y1="276.69" x2="451" y2="276.69" stroke="#3e0c62" stroke-width="1"/>
<path d="M447 271.69L451 275.69M447 275.69L451 271.69M447 273.69L451 273.69M449 271.69L449 275.69" stroke="#3e0c62" stroke-width="0.9" fill="none"/>
<line x1="454" y1="267.13" x2="454" y2="273.13" stroke="#3e0c62" stroke-width="1"/>
<line x1="452" y1="267.13" x2="456" y2="267.13" stroke="#3e0c62" stroke-width="1"/>
<line x1="452" y1="273.13" x2="456" y2="273.13" stroke="#3e0c62" stroke-width="1"/>
<path d="M452 268.13L456 272.13M452 272.13L456 268.13M452 270.13L456 270.13M454 268.13L454 272.13" stroke="#3e0c62" stroke-width="0.9" fill="none"/>
<line x1="459" y1="267.9" x2="459" y2="273.9" stroke="#3e0c62" stroke-width="1"/>
<line x1="457" y1="267.9" x2="461" y2="267.9" stroke="#3e0c62" stroke-width="1"/>
<line x1="457" y1="273.9" x2="461" y2="273.9" stroke="#3e0c62" stroke-width="1"/>
<path d="M457 268.9L461 272.9M457 272.9L461 268.9M457 270.9L461 270.9M459 268.9L459 272.9" stroke="#3e0c62" stroke-width="0.9" fill="none"/>
<line x1="464" y1="264.66" x2="464" y2="270.66" stroke="#3e0c62" stroke-width="1"/>
<line x1="462" y1="264.66" x2="466" y2="264.66" stroke="#3e0c62" stroke-width="1"/>
<line x1="462" y1="270.66" x2="466" y2="270.66" stroke="#3e0c62" stroke-width="1"/>
<path d="M462 265.66L466 269.66M462 269.66L466 265.66M462 267.66L466 267.66M464 265.66L464 269.66" stroke="#3e0c62" stroke-width="0.9" fill="none"/>
<line x1="469" y1="264.83" x2="469" y2="270.83" stroke="#3e0c62" stroke-width="1"/>
<line x1="467" y1="264.83" x2="471" y2="264.83" stroke="#3e0c62" stroke-width="1"/>
<line x1="467" y1="270.83" x2="471" y2="270.83" stroke="#3e0c62" stroke-width="1"/>
<path d="M467 265.83L471 269.83M467 269.83L471 265.83M467 267.83L471 267.83M469 265.83L469 269.83" stroke="#3e0c62" stroke-width="0.9" fill="none"/>
<line x1="473" y1="263.53" x2="473" y2="269.53" stroke="#3e0c62" stroke-width="1"/>
<line x1="471" y1="263.53" x2="475" y2="263.53" stroke="#3e0c62" stroke-width="1"/>
<line x1="471" y1="269.53" x2="475" y2="269.53" stroke="#3e0c62" stroke-width="1"/>
<path d="M471 264.53L475 268.53M471 268.53L475 264.53M471 266.53L475 266.53M473 264.53L473 268.53" stroke="#3e0c62" stroke-width="0.9" fill="none"/>
<line x1="476.4" y1="260.8" x2="476.4" y2="306.3" stroke="#4e2a72" stroke-width="1.3"/>
<line x1="473.65" y1="260.8" x2="479.15" y2="260.8" stroke="#4e2a72" stroke-width="1.3"/>
<line x1="473.65" y1="306.3" x2="479.15" y2="306.3" stroke="#4e2a72" stroke-width="1.3"/>
<path d="M473.2 278.8L479.6 285.2M473.2 285.2L479.6 278.8M473.2 282L479.6 282M476.4 278.8L476.4 285.2" stroke="#3e0c62" stroke-width="1.15" fill="none"/>
<line x1="484.2" y1="256.8" x2="484.2" y2="291.4" stroke="#4e2a72" stroke-width="1.3"/>
<line x1="481.45" y1="256.8" x2="486.95" y2="256.8" stroke="#4e2a72" stroke-width="1.3"/>
<line x1="481.45" y1="291.4" x2="486.95" y2="291.4" stroke="#4e2a72" stroke-width="1.3"/>
<path d="M481 261.8L487.4 268.2M481 268.2L487.4 261.8M481 265L487.4 265M484.2 261.8L484.2 268.2" stroke="#3e0c62" stroke-width="1.15" fill="none"/>
<line x1="492" y1="236" x2="492" y2="337.9" stroke="#4e2a72" stroke-width="1.3"/>
<line x1="489.25" y1="337.9" x2="494.75" y2="337.9" stroke="#4e2a72" stroke-width="1.3"/>
<path d="M488.8 281.1L495.2 287.5M488.8 287.5L495.2 281.1M488.8 284.3L495.2 284.3M492 281.1L492 287.5" stroke="#3e0c62" stroke-width="1.15" fill="none"/>
<line x1="495.3" y1="236" x2="495.3" y2="332.2" stroke="#4e2a72" stroke-width="1.3"/>
<line x1="492.55" y1="332.2" x2="498.05" y2="332.2" stroke="#4e2a72" stroke-width="1.3"/>
<path d="M492.1 266.8L498.5 273.2M492.1 273.2L498.5 266.8M492.1 270L498.5 270M495.3 266.8L495.3 273.2" stroke="#3e0c62" stroke-width="1.15" fill="none"/>
<rect x="337.5" y="255.3" width="91.7" height="50.5" fill="#fff" stroke="#8a8a8a" stroke-width="1.1"/>
<path d="M345.3 261.3L350.7 266.7M345.3 266.7L350.7 261.3M345.3 264L350.7 264M348 261.3L348 266.7" stroke="#3e0c62" stroke-width="0.85" fill="none"/>
<text x="354.64" y="267.3" font-size="9.71" text-anchor="start" fill="#3e0c62" stroke="#3e0c62" stroke-width="0.12" textLength="33.65" lengthAdjust="spacing">Elvis09</text>
<polygon points="348,272.6 350.7,275.3 348,278 345.3,275.3" fill="none" stroke="#30a8e8" stroke-width="1.2"/>
<text x="354.97" y="278.7" font-size="9.71" text-anchor="start" fill="#30a8e8" stroke="#30a8e8" stroke-width="0.12" textLength="70.48" lengthAdjust="spacing">Georgakakis08</text>
<polygon points="348,284.1 350.9,289.18 345.1,289.18" fill="none" stroke="#2ee0f0" stroke-width="1.2"/>
<text x="354.62" y="290.1" font-size="9.71" text-anchor="start" fill="#2ee0f0" stroke="#2ee0f0" stroke-width="0.12" textLength="48.42" lengthAdjust="spacing">Lehmer12</text>
<rect x="345.4" y="294.9" width="5.2" height="5.2" fill="none" stroke="#b8f030" stroke-width="1.2"/>
<text x="354.71" y="301.3" font-size="9.71" text-anchor="start" fill="#b8f030" stroke="#b8f030" stroke-width="0.12" textLength="35.71" lengthAdjust="spacing">Ueda05</text>
<line x1="68" y1="566.07" x2="68" y2="578.78" stroke="#2ee0f0" stroke-width="1.2"/>
<line x1="65.25" y1="566.07" x2="70.75" y2="566.07" stroke="#2ee0f0" stroke-width="1.2"/>
<line x1="65.25" y1="578.78" x2="70.75" y2="578.78" stroke="#2ee0f0" stroke-width="1.2"/>
<polygon points="68,569.83 70.6,574.38 65.4,574.38" fill="none" stroke="#2ee0f0" stroke-width="1.2"/>
<line x1="70.8" y1="563.86" x2="70.8" y2="577.58" stroke="#2ee0f0" stroke-width="1.2"/>
<line x1="68.05" y1="563.86" x2="73.55" y2="563.86" stroke="#2ee0f0" stroke-width="1.2"/>
<line x1="68.05" y1="577.58" x2="73.55" y2="577.58" stroke="#2ee0f0" stroke-width="1.2"/>
<polygon points="70.8,568.12 73.4,572.67 68.2,572.67" fill="none" stroke="#2ee0f0" stroke-width="1.2"/>
<line x1="73.6" y1="561.53" x2="73.6" y2="575.14" stroke="#2ee0f0" stroke-width="1.2"/>
<line x1="70.85" y1="561.53" x2="76.35" y2="561.53" stroke="#2ee0f0" stroke-width="1.2"/>
<line x1="70.85" y1="575.14" x2="76.35" y2="575.14" stroke="#2ee0f0" stroke-width="1.2"/>
<polygon points="73.6,565.73 76.2,570.28 71,570.28" fill="none" stroke="#2ee0f0" stroke-width="1.2"/>
<line x1="76.4" y1="558.44" x2="76.4" y2="569.77" stroke="#2ee0f0" stroke-width="1.2"/>
<line x1="73.65" y1="558.44" x2="79.15" y2="558.44" stroke="#2ee0f0" stroke-width="1.2"/>
<line x1="73.65" y1="569.77" x2="79.15" y2="569.77" stroke="#2ee0f0" stroke-width="1.2"/>
<polygon points="76.4,561.51 79,566.06 73.8,566.06" fill="none" stroke="#2ee0f0" stroke-width="1.2"/>
<line x1="79.2" y1="558.77" x2="79.2" y2="571.01" stroke="#2ee0f0" stroke-width="1.2"/>
<line x1="76.45" y1="558.77" x2="81.95" y2="558.77" stroke="#2ee0f0" stroke-width="1.2"/>
<line x1="76.45" y1="571.01" x2="81.95" y2="571.01" stroke="#2ee0f0" stroke-width="1.2"/>
<polygon points="79.2,562.29 81.8,566.84 76.6,566.84" fill="none" stroke="#2ee0f0" stroke-width="1.2"/>
<line x1="82" y1="558.02" x2="82" y2="567.59" stroke="#2ee0f0" stroke-width="1.2"/>
<line x1="79.25" y1="558.02" x2="84.75" y2="558.02" stroke="#2ee0f0" stroke-width="1.2"/>
<line x1="79.25" y1="567.59" x2="84.75" y2="567.59" stroke="#2ee0f0" stroke-width="1.2"/>
<polygon points="82,560.2 84.6,564.75 79.4,564.75" fill="none" stroke="#2ee0f0" stroke-width="1.2"/>
<line x1="84.8" y1="554.43" x2="84.8" y2="564.66" stroke="#2ee0f0" stroke-width="1.2"/>
<line x1="82.05" y1="554.43" x2="87.55" y2="554.43" stroke="#2ee0f0" stroke-width="1.2"/>
<line x1="82.05" y1="564.66" x2="87.55" y2="564.66" stroke="#2ee0f0" stroke-width="1.2"/>
<polygon points="84.8,556.95 87.4,561.5 82.2,561.5" fill="none" stroke="#2ee0f0" stroke-width="1.2"/>
<line x1="87.6" y1="551.88" x2="87.6" y2="563.75" stroke="#2ee0f0" stroke-width="1.2"/>
<line x1="84.85" y1="551.88" x2="90.35" y2="551.88" stroke="#2ee0f0" stroke-width="1.2"/>
<line x1="84.85" y1="563.75" x2="90.35" y2="563.75" stroke="#2ee0f0" stroke-width="1.2"/>
<polygon points="87.6,555.21 90.2,559.76 85,559.76" fill="none" stroke="#2ee0f0" stroke-width="1.2"/>
<line x1="90.4" y1="549.22" x2="90.4" y2="559.3" stroke="#2ee0f0" stroke-width="1.2"/>
<line x1="87.65" y1="549.22" x2="93.15" y2="549.22" stroke="#2ee0f0" stroke-width="1.2"/>
<line x1="87.65" y1="559.3" x2="93.15" y2="559.3" stroke="#2ee0f0" stroke-width="1.2"/>
<polygon points="90.4,551.66 93,556.21 87.8,556.21" fill="none" stroke="#2ee0f0" stroke-width="1.2"/>
<line x1="93.2" y1="546.31" x2="93.2" y2="559.89" stroke="#2ee0f0" stroke-width="1.2"/>
<line x1="90.45" y1="546.31" x2="95.95" y2="546.31" stroke="#2ee0f0" stroke-width="1.2"/>
<line x1="90.45" y1="559.89" x2="95.95" y2="559.89" stroke="#2ee0f0" stroke-width="1.2"/>
<polygon points="93.2,550.5 95.8,555.05 90.6,555.05" fill="none" stroke="#2ee0f0" stroke-width="1.2"/>
<line x1="96" y1="547.9" x2="96" y2="557.7" stroke="#2ee0f0" stroke-width="1.2"/>
<line x1="93.25" y1="547.9" x2="98.75" y2="547.9" stroke="#2ee0f0" stroke-width="1.2"/>
<line x1="93.25" y1="557.7" x2="98.75" y2="557.7" stroke="#2ee0f0" stroke-width="1.2"/>
<polygon points="96,550.2 98.6,554.75 93.4,554.75" fill="none" stroke="#2ee0f0" stroke-width="1.2"/>
<line x1="98.8" y1="546.64" x2="98.8" y2="556.34" stroke="#2ee0f0" stroke-width="1.2"/>
<line x1="96.05" y1="546.64" x2="101.55" y2="546.64" stroke="#2ee0f0" stroke-width="1.2"/>
<line x1="96.05" y1="556.34" x2="101.55" y2="556.34" stroke="#2ee0f0" stroke-width="1.2"/>
<polygon points="98.8,548.89 101.4,553.44 96.2,553.44" fill="none" stroke="#2ee0f0" stroke-width="1.2"/>
<line x1="101.6" y1="544.74" x2="101.6" y2="554.37" stroke="#2ee0f0" stroke-width="1.2"/>
<line x1="98.85" y1="544.74" x2="104.35" y2="544.74" stroke="#2ee0f0" stroke-width="1.2"/>
<line x1="98.85" y1="554.37" x2="104.35" y2="554.37" stroke="#2ee0f0" stroke-width="1.2"/>
<polygon points="101.6,546.95 104.2,551.5 99,551.5" fill="none" stroke="#2ee0f0" stroke-width="1.2"/>
<line x1="104.4" y1="539.63" x2="104.4" y2="552.98" stroke="#2ee0f0" stroke-width="1.2"/>
<line x1="101.65" y1="539.63" x2="107.15" y2="539.63" stroke="#2ee0f0" stroke-width="1.2"/>
<line x1="101.65" y1="552.98" x2="107.15" y2="552.98" stroke="#2ee0f0" stroke-width="1.2"/>
<polygon points="104.4,543.71 107,548.26 101.8,548.26" fill="none" stroke="#2ee0f0" stroke-width="1.2"/>
<line x1="107.2" y1="540.41" x2="107.2" y2="550.49" stroke="#2ee0f0" stroke-width="1.2"/>
<line x1="104.45" y1="540.41" x2="109.95" y2="540.41" stroke="#2ee0f0" stroke-width="1.2"/>
<line x1="104.45" y1="550.49" x2="109.95" y2="550.49" stroke="#2ee0f0" stroke-width="1.2"/>
<polygon points="107.2,542.85 109.8,547.4 104.6,547.4" fill="none" stroke="#2ee0f0" stroke-width="1.2"/>
<line x1="110" y1="538.64" x2="110" y2="552" stroke="#2ee0f0" stroke-width="1.2"/>
<line x1="107.25" y1="538.64" x2="112.75" y2="538.64" stroke="#2ee0f0" stroke-width="1.2"/>
<line x1="107.25" y1="552" x2="112.75" y2="552" stroke="#2ee0f0" stroke-width="1.2"/>
<polygon points="110,542.72 112.6,547.27 107.4,547.27" fill="none" stroke="#2ee0f0" stroke-width="1.2"/>
<line x1="112.8" y1="533.89" x2="112.8" y2="547.7" stroke="#2ee0f0" stroke-width="1.2"/>
<line x1="110.05" y1="533.89" x2="115.55" y2="533.89" stroke="#2ee0f0" stroke-width="1.2"/>
<line x1="110.05" y1="547.7" x2="115.55" y2="547.7" stroke="#2ee0f0" stroke-width="1.2"/>
<polygon points="112.8,538.19 115.4,542.74 110.2,542.74" fill="none" stroke="#2ee0f0" stroke-width="1.2"/>
<line x1="115.6" y1="532.9" x2="115.6" y2="545.29" stroke="#2ee0f0" stroke-width="1.2"/>
<line x1="112.85" y1="532.9" x2="118.35" y2="532.9" stroke="#2ee0f0" stroke-width="1.2"/>
<line x1="112.85" y1="545.29" x2="118.35" y2="545.29" stroke="#2ee0f0" stroke-width="1.2"/>
<polygon points="115.6,536.49 118.2,541.04 113,541.04" fill="none" stroke="#2ee0f0" stroke-width="1.2"/>
<line x1="118.4" y1="528.79" x2="118.4" y2="542.49" stroke="#2ee0f0" stroke-width="1.2"/>
<line x1="115.65" y1="528.79" x2="121.15" y2="528.79" stroke="#2ee0f0" stroke-width="1.2"/>
<line x1="115.65" y1="542.49" x2="121.15" y2="542.49" stroke="#2ee0f0" stroke-width="1.2"/>
<polygon points="118.4,533.04 121,537.59 115.8,537.59" fill="none" stroke="#2ee0f0" stroke-width="1.2"/>
<line x1="121.2" y1="527.73" x2="121.2" y2="541.56" stroke="#2ee0f0" stroke-width="1.2"/>
<line x1="118.45" y1="527.73" x2="123.95" y2="527.73" stroke="#2ee0f0" stroke-width="1.2"/>
<line x1="118.45" y1="541.56" x2="123.95" y2="541.56" stroke="#2ee0f0" stroke-width="1.2"/>
<polygon points="121.2,532.05 123.8,536.6 118.6,536.6" fill="none" stroke="#2ee0f0" stroke-width="1.2"/>
<line x1="85.2" y1="566" x2="85.2" y2="576.3" stroke="#2ee0f0" stroke-width="1.2"/>
<line x1="82.45" y1="566" x2="87.95" y2="566" stroke="#2ee0f0" stroke-width="1.2"/>
<line x1="82.45" y1="576.3" x2="87.95" y2="576.3" stroke="#2ee0f0" stroke-width="1.2"/>
<line x1="72.3" y1="567.2" x2="72.3" y2="581.6" stroke="#2ee0f0" stroke-width="1.2"/>
<line x1="69.55" y1="567.2" x2="75.05" y2="567.2" stroke="#2ee0f0" stroke-width="1.2"/>
<line x1="69.55" y1="581.6" x2="75.05" y2="581.6" stroke="#2ee0f0" stroke-width="1.2"/>
<line x1="124" y1="535.78" x2="124" y2="547.57" stroke="#2ee0f0" stroke-width="1.2"/>
<line x1="121.25" y1="535.78" x2="126.75" y2="535.78" stroke="#2ee0f0" stroke-width="1.2"/>
<line x1="121.25" y1="547.57" x2="126.75" y2="547.57" stroke="#2ee0f0" stroke-width="1.2"/>
<polygon points="124,539.07 126.6,543.62 121.4,543.62" fill="none" stroke="#2ee0f0" stroke-width="1.2"/>
<line x1="127" y1="526.85" x2="127" y2="537.85" stroke="#2ee0f0" stroke-width="1.2"/>
<line x1="124.25" y1="526.85" x2="129.75" y2="526.85" stroke="#2ee0f0" stroke-width="1.2"/>
<line x1="124.25" y1="537.85" x2="129.75" y2="537.85" stroke="#2ee0f0" stroke-width="1.2"/>
<polygon points="127,529.75 129.6,534.3 124.4,534.3" fill="none" stroke="#2ee0f0" stroke-width="1.2"/>
<line x1="130" y1="521.31" x2="130" y2="531.7" stroke="#2ee0f0" stroke-width="1.2"/>
<line x1="127.25" y1="521.31" x2="132.75" y2="521.31" stroke="#2ee0f0" stroke-width="1.2"/>
<line x1="127.25" y1="531.7" x2="132.75" y2="531.7" stroke="#2ee0f0" stroke-width="1.2"/>
<polygon points="130,523.91 132.6,528.46 127.4,528.46" fill="none" stroke="#2ee0f0" stroke-width="1.2"/>
<line x1="133" y1="517.94" x2="133" y2="531.56" stroke="#2ee0f0" stroke-width="1.2"/>
<line x1="130.25" y1="517.94" x2="135.75" y2="517.94" stroke="#2ee0f0" stroke-width="1.2"/>
<line x1="130.25" y1="531.56" x2="135.75" y2="531.56" stroke="#2ee0f0" stroke-width="1.2"/>
<polygon points="133,522.15 135.6,526.7 130.4,526.7" fill="none" stroke="#2ee0f0" stroke-width="1.2"/>
<line x1="136" y1="510.97" x2="136" y2="525.04" stroke="#2ee0f0" stroke-width="1.2"/>
<line x1="133.25" y1="510.97" x2="138.75" y2="510.97" stroke="#2ee0f0" stroke-width="1.2"/>
<line x1="133.25" y1="525.04" x2="138.75" y2="525.04" stroke="#2ee0f0" stroke-width="1.2"/>
<polygon points="136,515.41 138.6,519.96 133.4,519.96" fill="none" stroke="#2ee0f0" stroke-width="1.2"/>
<line x1="139" y1="512.29" x2="139" y2="524.15" stroke="#2ee0f0" stroke-width="1.2"/>
<line x1="136.25" y1="512.29" x2="141.75" y2="512.29" stroke="#2ee0f0" stroke-width="1.2"/>
<line x1="136.25" y1="524.15" x2="141.75" y2="524.15" stroke="#2ee0f0" stroke-width="1.2"/>
<polygon points="139,515.62 141.6,520.17 136.4,520.17" fill="none" stroke="#2ee0f0" stroke-width="1.2"/>
<line x1="142" y1="514.44" x2="142" y2="527.32" stroke="#2ee0f0" stroke-width="1.2"/>
<line x1="139.25" y1="514.44" x2="144.75" y2="514.44" stroke="#2ee0f0" stroke-width="1.2"/>
<line x1="139.25" y1="527.32" x2="144.75" y2="527.32" stroke="#2ee0f0" stroke-width="1.2"/>
<polygon points="142,518.28 144.6,522.83 139.4,522.83" fill="none" stroke="#2ee0f0" stroke-width="1.2"/>
<line x1="145" y1="506.28" x2="145" y2="519.17" stroke="#2ee0f0" stroke-width="1.2"/>
<line x1="142.25" y1="506.28" x2="147.75" y2="506.28" stroke="#2ee0f0" stroke-width="1.2"/>
<line x1="142.25" y1="519.17" x2="147.75" y2="519.17" stroke="#2ee0f0" stroke-width="1.2"/>
<polygon points="145,510.12 147.6,514.67 142.4,514.67" fill="none" stroke="#2ee0f0" stroke-width="1.2"/>
<line x1="148" y1="509.21" x2="148" y2="519.55" stroke="#2ee0f0" stroke-width="1.2"/>
<line x1="145.25" y1="509.21" x2="150.75" y2="509.21" stroke="#2ee0f0" stroke-width="1.2"/>
<line x1="145.25" y1="519.55" x2="150.75" y2="519.55" stroke="#2ee0f0" stroke-width="1.2"/>
<polygon points="148,511.78 150.6,516.33 145.4,516.33" fill="none" stroke="#2ee0f0" stroke-width="1.2"/>
<line x1="151" y1="509.66" x2="151" y2="519.79" stroke="#2ee0f0" stroke-width="1.2"/>
<line x1="148.25" y1="509.66" x2="153.75" y2="509.66" stroke="#2ee0f0" stroke-width="1.2"/>
<line x1="148.25" y1="519.79" x2="153.75" y2="519.79" stroke="#2ee0f0" stroke-width="1.2"/>
<polygon points="151,512.13 153.6,516.68 148.4,516.68" fill="none" stroke="#2ee0f0" stroke-width="1.2"/>
<line x1="154" y1="502.09" x2="154" y2="517.16" stroke="#2ee0f0" stroke-width="1.2"/>
<line x1="151.25" y1="502.09" x2="156.75" y2="502.09" stroke="#2ee0f0" stroke-width="1.2"/>
<line x1="151.25" y1="517.16" x2="156.75" y2="517.16" stroke="#2ee0f0" stroke-width="1.2"/>
<polygon points="154,507.02 156.6,511.57 151.4,511.57" fill="none" stroke="#2ee0f0" stroke-width="1.2"/>
<line x1="157" y1="491.89" x2="157" y2="506.61" stroke="#2ee0f0" stroke-width="1.2"/>
<line x1="154.25" y1="491.89" x2="159.75" y2="491.89" stroke="#2ee0f0" stroke-width="1.2"/>
<line x1="154.25" y1="506.61" x2="159.75" y2="506.61" stroke="#2ee0f0" stroke-width="1.2"/>
<polygon points="157,496.65 159.6,501.2 154.4,501.2" fill="none" stroke="#2ee0f0" stroke-width="1.2"/>
<line x1="160" y1="494.17" x2="160" y2="507.64" stroke="#2ee0f0" stroke-width="1.2"/>
<line x1="157.25" y1="494.17" x2="162.75" y2="494.17" stroke="#2ee0f0" stroke-width="1.2"/>
<line x1="157.25" y1="507.64" x2="162.75" y2="507.64" stroke="#2ee0f0" stroke-width="1.2"/>
<polygon points="160,498.3 162.6,502.85 157.4,502.85" fill="none" stroke="#2ee0f0" stroke-width="1.2"/>
<line x1="163" y1="489.66" x2="163" y2="499.94" stroke="#2ee0f0" stroke-width="1.2"/>
<line x1="160.25" y1="489.66" x2="165.75" y2="489.66" stroke="#2ee0f0" stroke-width="1.2"/>
<line x1="160.25" y1="499.94" x2="165.75" y2="499.94" stroke="#2ee0f0" stroke-width="1.2"/>
<polygon points="163,492.2 165.6,496.75 160.4,496.75" fill="none" stroke="#2ee0f0" stroke-width="1.2"/>
<line x1="166" y1="486.65" x2="166" y2="502.38" stroke="#2ee0f0" stroke-width="1.2"/>
<line x1="163.25" y1="486.65" x2="168.75" y2="486.65" stroke="#2ee0f0" stroke-width="1.2"/>
<line x1="163.25" y1="502.38" x2="168.75" y2="502.38" stroke="#2ee0f0" stroke-width="1.2"/>
<polygon points="166,491.92 168.6,496.47 163.4,496.47" fill="none" stroke="#2ee0f0" stroke-width="1.2"/>
<line x1="169" y1="485.24" x2="169" y2="499.78" stroke="#2ee0f0" stroke-width="1.2"/>
<line x1="166.25" y1="485.24" x2="171.75" y2="485.24" stroke="#2ee0f0" stroke-width="1.2"/>
<line x1="166.25" y1="499.78" x2="171.75" y2="499.78" stroke="#2ee0f0" stroke-width="1.2"/>
<polygon points="169,489.91 171.6,494.46 166.4,494.46" fill="none" stroke="#2ee0f0" stroke-width="1.2"/>
<line x1="172" y1="490.58" x2="172" y2="506.23" stroke="#2ee0f0" stroke-width="1.2"/>
<line x1="169.25" y1="490.58" x2="174.75" y2="490.58" stroke="#2ee0f0" stroke-width="1.2"/>
<line x1="169.25" y1="506.23" x2="174.75" y2="506.23" stroke="#2ee0f0" stroke-width="1.2"/>
<polygon points="172,495.8 174.6,500.35 169.4,500.35" fill="none" stroke="#2ee0f0" stroke-width="1.2"/>
<line x1="175" y1="483.72" x2="175" y2="495.85" stroke="#2ee0f0" stroke-width="1.2"/>
<line x1="172.25" y1="483.72" x2="177.75" y2="483.72" stroke="#2ee0f0" stroke-width="1.2"/>
<line x1="172.25" y1="495.85" x2="177.75" y2="495.85" stroke="#2ee0f0" stroke-width="1.2"/>
<polygon points="175,487.19 177.6,491.74 172.4,491.74" fill="none" stroke="#2ee0f0" stroke-width="1.2"/>
<line x1="178" y1="482.69" x2="178" y2="497.35" stroke="#2ee0f0" stroke-width="1.2"/>
<line x1="175.25" y1="482.69" x2="180.75" y2="482.69" stroke="#2ee0f0" stroke-width="1.2"/>
<line x1="175.25" y1="497.35" x2="180.75" y2="497.35" stroke="#2ee0f0" stroke-width="1.2"/>
<polygon points="178,487.42 180.6,491.97 175.4,491.97" fill="none" stroke="#2ee0f0" stroke-width="1.2"/>
<line x1="181" y1="476.44" x2="181" y2="490.93" stroke="#2ee0f0" stroke-width="1.2"/>
<line x1="178.25" y1="476.44" x2="183.75" y2="476.44" stroke="#2ee0f0" stroke-width="1.2"/>
<line x1="178.25" y1="490.93" x2="183.75" y2="490.93" stroke="#2ee0f0" stroke-width="1.2"/>
<polygon points="181,481.09 183.6,485.64 178.4,485.64" fill="none" stroke="#2ee0f0" stroke-width="1.2"/>
<line x1="184" y1="481.94" x2="184" y2="497.1" stroke="#2ee0f0" stroke-width="1.2"/>
<line x1="181.25" y1="481.94" x2="186.75" y2="481.94" stroke="#2ee0f0" stroke-width="1.2"/>
<line x1="181.25" y1="497.1" x2="186.75" y2="497.1" stroke="#2ee0f0" stroke-width="1.2"/>
<polygon points="184,486.92 186.6,491.47 181.4,491.47" fill="none" stroke="#2ee0f0" stroke-width="1.2"/>
<line x1="187" y1="471.57" x2="187" y2="487.24" stroke="#2ee0f0" stroke-width="1.2"/>
<line x1="184.25" y1="471.57" x2="189.75" y2="471.57" stroke="#2ee0f0" stroke-width="1.2"/>
<line x1="184.25" y1="487.24" x2="189.75" y2="487.24" stroke="#2ee0f0" stroke-width="1.2"/>
<polygon points="187,476.8 189.6,481.35 184.4,481.35" fill="none" stroke="#2ee0f0" stroke-width="1.2"/>
<line x1="190" y1="472.23" x2="190" y2="484.28" stroke="#2ee0f0" stroke-width="1.2"/>
<line x1="187.25" y1="472.23" x2="192.75" y2="472.23" stroke="#2ee0f0" stroke-width="1.2"/>
<line x1="187.25" y1="484.28" x2="192.75" y2="484.28" stroke="#2ee0f0" stroke-width="1.2"/>
<polygon points="190,475.65 192.6,480.2 187.4,480.2" fill="none" stroke="#2ee0f0" stroke-width="1.2"/>
<line x1="193" y1="474.46" x2="193" y2="489.97" stroke="#2ee0f0" stroke-width="1.2"/>
<line x1="190.25" y1="474.46" x2="195.75" y2="474.46" stroke="#2ee0f0" stroke-width="1.2"/>
<line x1="190.25" y1="489.97" x2="195.75" y2="489.97" stroke="#2ee0f0" stroke-width="1.2"/>
<polygon points="193,479.62 195.6,484.17 190.4,484.17" fill="none" stroke="#2ee0f0" stroke-width="1.2"/>
<line x1="196" y1="470.59" x2="196" y2="486.14" stroke="#2ee0f0" stroke-width="1.2"/>
<line x1="193.25" y1="470.59" x2="198.75" y2="470.59" stroke="#2ee0f0" stroke-width="1.2"/>
<line x1="193.25" y1="486.14" x2="198.75" y2="486.14" stroke="#2ee0f0" stroke-width="1.2"/>
<polygon points="196,475.76 198.6,480.31 193.4,480.31" fill="none" stroke="#2ee0f0" stroke-width="1.2"/>
<line x1="174.2" y1="477.5" x2="174.2" y2="516.7" stroke="#2ee0f0" stroke-width="1.2"/>
<line x1="171.45" y1="477.5" x2="176.95" y2="477.5" stroke="#2ee0f0" stroke-width="1.2"/>
<line x1="171.45" y1="516.7" x2="176.95" y2="516.7" stroke="#2ee0f0" stroke-width="1.2"/>
<polygon points="174.2,493.8 177.4,499.4 171,499.4" fill="none" stroke="#2ee0f0" stroke-width="1.2"/>
<line x1="183.3" y1="475.8" x2="183.3" y2="519.2" stroke="#2ee0f0" stroke-width="1.2"/>
<line x1="180.55" y1="475.8" x2="186.05" y2="475.8" stroke="#2ee0f0" stroke-width="1.2"/>
<line x1="180.55" y1="519.2" x2="186.05" y2="519.2" stroke="#2ee0f0" stroke-width="1.2"/>
<polygon points="183.3,494.3 186.5,499.9 180.1,499.9" fill="none" stroke="#2ee0f0" stroke-width="1.2"/>
<line x1="200" y1="453" x2="200" y2="536.7" stroke="#2ee0f0" stroke-width="1.2"/>
<line x1="197.25" y1="453" x2="202.75" y2="453" stroke="#2ee0f0" stroke-width="1.2"/>
<line x1="197.25" y1="536.7" x2="202.75" y2="536.7" stroke="#2ee0f0" stroke-width="1.2"/>
<polygon points="200,492.6 203.2,498.2 196.8,498.2" fill="none" stroke="#2ee0f0" stroke-width="1.2"/>
<line x1="205" y1="449" x2="205" y2="529.2" stroke="#2ee0f0" stroke-width="1.2"/>
<line x1="202.25" y1="449" x2="207.75" y2="449" stroke="#2ee0f0" stroke-width="1.2"/>
<line x1="202.25" y1="529.2" x2="207.75" y2="529.2" stroke="#2ee0f0" stroke-width="1.2"/>
<polygon points="205,486 208.2,491.6 201.8,491.6" fill="none" stroke="#2ee0f0" stroke-width="1.2"/>
<line x1="209.6" y1="449" x2="209.6" y2="520" stroke="#2ee0f0" stroke-width="1.2"/>
<line x1="206.85" y1="449" x2="212.35" y2="449" stroke="#2ee0f0" stroke-width="1.2"/>
<line x1="206.85" y1="520" x2="212.35" y2="520" stroke="#2ee0f0" stroke-width="1.2"/>
<polygon points="209.6,482.8 212.8,488.4 206.4,488.4" fill="none" stroke="#2ee0f0" stroke-width="1.2"/>
<line x1="214" y1="438" x2="214" y2="540" stroke="#2ee0f0" stroke-width="1.2"/>
<line x1="211.25" y1="540" x2="216.75" y2="540" stroke="#2ee0f0" stroke-width="1.2"/>
<polygon points="214,480.8 217.2,486.4 210.8,486.4" fill="none" stroke="#2ee0f0" stroke-width="1.2"/>
<line x1="219" y1="438" x2="219" y2="555" stroke="#2ee0f0" stroke-width="1.2"/>
<line x1="216.25" y1="555" x2="221.75" y2="555" stroke="#2ee0f0" stroke-width="1.2"/>
<polygon points="219,485.8 222.2,491.4 215.8,491.4" fill="none" stroke="#2ee0f0" stroke-width="1.2"/>
<line x1="248" y1="470" x2="248" y2="478" stroke="#30a8e8" stroke-width="1.2"/>
<line x1="245.5" y1="470" x2="250.5" y2="470" stroke="#30a8e8" stroke-width="1.2"/>
<line x1="245.5" y1="478" x2="250.5" y2="478" stroke="#30a8e8" stroke-width="1.2"/>
<polygon points="248,471 251,474 248,477 245,474" fill="none" stroke="#30a8e8" stroke-width="1.2"/>
<line x1="257" y1="466" x2="257" y2="476" stroke="#30a8e8" stroke-width="1.2"/>
<line x1="254.5" y1="466" x2="259.5" y2="466" stroke="#30a8e8" stroke-width="1.2"/>
<line x1="254.5" y1="476" x2="259.5" y2="476" stroke="#30a8e8" stroke-width="1.2"/>
<polygon points="257,468 260,471 257,474 254,471" fill="none" stroke="#30a8e8" stroke-width="1.2"/>
<line x1="265" y1="469" x2="265" y2="477" stroke="#30a8e8" stroke-width="1.2"/>
<line x1="262.5" y1="469" x2="267.5" y2="469" stroke="#30a8e8" stroke-width="1.2"/>
<line x1="262.5" y1="477" x2="267.5" y2="477" stroke="#30a8e8" stroke-width="1.2"/>
<polygon points="265,470 268,473 265,476 262,473" fill="none" stroke="#30a8e8" stroke-width="1.2"/>
<line x1="225" y1="478" x2="225" y2="494" stroke="#30a8e8" stroke-width="1.2"/>
<line x1="222.5" y1="478" x2="227.5" y2="478" stroke="#30a8e8" stroke-width="1.2"/>
<line x1="222.5" y1="494" x2="227.5" y2="494" stroke="#30a8e8" stroke-width="1.2"/>
<polygon points="225,483 228,486 225,489 222,486" fill="none" stroke="#30a8e8" stroke-width="1.2"/>
<line x1="240" y1="472" x2="240" y2="484" stroke="#30a8e8" stroke-width="1.2"/>
<line x1="237.5" y1="472" x2="242.5" y2="472" stroke="#30a8e8" stroke-width="1.2"/>
<line x1="237.5" y1="484" x2="242.5" y2="484" stroke="#30a8e8" stroke-width="1.2"/>
<polygon points="240,475 243,478 240,481 237,478" fill="none" stroke="#30a8e8" stroke-width="1.2"/>
<polyline points="58,586.8 75,573.3 95,560.8 107,555.8 123,540.3 139,520.8 147,513.8 155,506.8 175,492.3 193,481.8 206.7,478.3 220,477.3 240,477.1 260,480.2 277,485.71" fill="none" stroke="#ff6a1a" stroke-width="2.2" stroke-dasharray="6,3" stroke-linejoin="round"/>
<polyline points="58,586 75,572.5 95,560 107,555 123,539.5 139,520 147,513 155,506 175,491.5 193,481 206.7,477.5 220,476.5 240,476 260,478.5 277,483.5" fill="none" stroke="#ec1c12" stroke-width="2.2" stroke-linejoin="round"/>
<polyline points="58,585 75,571.5 95,558 107,552.5 123,538.5 139,519.5 147,512 155,505 175,490.5 193,480 206.7,476.5 220,476 240,476.5 260,478 277,481" fill="none" stroke="#22e022" stroke-width="2.2" stroke-dasharray="5,2.5,1.5,2.5" stroke-linejoin="round"/>
<polyline points="58,585.5 75,572 95,557 107,551.5 123,537.5 139,519 147,512 155,505 175,490.5 193,480 206.7,476 215,475 240,474.5 260,473 277,475" fill="none" stroke="#1010c4" stroke-width="2.2" stroke-dasharray="6,2,1.5,2,1.5,2" stroke-linejoin="round"/>
<line x1="130" y1="530.91" x2="130" y2="536.91" stroke="#3e0c62" stroke-width="1"/>
<line x1="127.75" y1="530.91" x2="132.25" y2="530.91" stroke="#3e0c62" stroke-width="1"/>
<line x1="127.75" y1="536.91" x2="132.25" y2="536.91" stroke="#3e0c62" stroke-width="1"/>
<path d="M128 531.91L132 535.91M128 535.91L132 531.91M128 533.91L132 533.91M130 531.91L130 535.91" stroke="#3e0c62" stroke-width="0.9" fill="none"/>
<line x1="137" y1="515.81" x2="137" y2="521.81" stroke="#3e0c62" stroke-width="1"/>
<line x1="134.75" y1="515.81" x2="139.25" y2="515.81" stroke="#3e0c62" stroke-width="1"/>
<line x1="134.75" y1="521.81" x2="139.25" y2="521.81" stroke="#3e0c62" stroke-width="1"/>
<path d="M135 516.81L139 520.81M135 520.81L139 516.81M135 518.81L139 518.81M137 516.81L137 520.81" stroke="#3e0c62" stroke-width="0.9" fill="none"/>
<line x1="146" y1="515.38" x2="146" y2="521.38" stroke="#3e0c62" stroke-width="1"/>
<line x1="143.75" y1="515.38" x2="148.25" y2="515.38" stroke="#3e0c62" stroke-width="1"/>
<line x1="143.75" y1="521.38" x2="148.25" y2="521.38" stroke="#3e0c62" stroke-width="1"/>
<path d="M144 516.38L148 520.38M144 520.38L148 516.38M144 518.38L148 518.38M146 516.38L146 520.38" stroke="#3e0c62" stroke-width="0.9" fill="none"/>
<line x1="156" y1="497.77" x2="156" y2="503.77" stroke="#3e0c62" stroke-width="1"/>
<line x1="153.75" y1="497.77" x2="158.25" y2="497.77" stroke="#3e0c62" stroke-width="1"/>
<line x1="153.75" y1="503.77" x2="158.25" y2="503.77" stroke="#3e0c62" stroke-width="1"/>
<path d="M154 498.77L158 502.77M154 502.77L158 498.77M154 500.77L158 500.77M156 498.77L156 502.77" stroke="#3e0c62" stroke-width="0.9" fill="none"/>
<line x1="165" y1="499.25" x2="165" y2="505.25" stroke="#3e0c62" stroke-width="1"/>
<line x1="162.75" y1="499.25" x2="167.25" y2="499.25" stroke="#3e0c62" stroke-width="1"/>
<line x1="162.75" y1="505.25" x2="167.25" y2="505.25" stroke="#3e0c62" stroke-width="1"/>
<path d="M163 500.25L167 504.25M163 504.25L167 500.25M163 502.25L167 502.25M165 500.25L165 504.25" stroke="#3e0c62" stroke-width="0.9" fill="none"/>
<line x1="178" y1="483.25" x2="178" y2="489.25" stroke="#3e0c62" stroke-width="1"/>
<line x1="175.75" y1="483.25" x2="180.25" y2="483.25" stroke="#3e0c62" stroke-width="1"/>
<line x1="175.75" y1="489.25" x2="180.25" y2="489.25" stroke="#3e0c62" stroke-width="1"/>
<path d="M176 484.25L180 488.25M176 488.25L180 484.25M176 486.25L180 486.25M178 484.25L178 488.25" stroke="#3e0c62" stroke-width="0.9" fill="none"/>
<line x1="188" y1="476.42" x2="188" y2="482.42" stroke="#3e0c62" stroke-width="1"/>
<line x1="185.75" y1="476.42" x2="190.25" y2="476.42" stroke="#3e0c62" stroke-width="1"/>
<line x1="185.75" y1="482.42" x2="190.25" y2="482.42" stroke="#3e0c62" stroke-width="1"/>
<path d="M186 477.42L190 481.42M186 481.42L190 477.42M186 479.42L190 479.42M188 477.42L188 481.42" stroke="#3e0c62" stroke-width="0.9" fill="none"/>
<line x1="196" y1="473.62" x2="196" y2="479.62" stroke="#3e0c62" stroke-width="1"/>
<line x1="193.75" y1="473.62" x2="198.25" y2="473.62" stroke="#3e0c62" stroke-width="1"/>
<line x1="193.75" y1="479.62" x2="198.25" y2="479.62" stroke="#3e0c62" stroke-width="1"/>
<path d="M194 474.62L198 478.62M194 478.62L198 474.62M194 476.62L198 476.62M196 474.62L196 478.62" stroke="#3e0c62" stroke-width="0.9" fill="none"/>
<line x1="203" y1="470.58" x2="203" y2="476.58" stroke="#3e0c62" stroke-width="1"/>
<line x1="200.75" y1="470.58" x2="205.25" y2="470.58" stroke="#3e0c62" stroke-width="1"/>
<line x1="200.75" y1="476.58" x2="205.25" y2="476.58" stroke="#3e0c62" stroke-width="1"/>
<path d="M201 471.58L205 475.58M201 475.58L205 471.58M201 473.58L205 473.58M203 471.58L203 475.58" stroke="#3e0c62" stroke-width="0.9" fill="none"/>
<line x1="210" y1="470.1" x2="210" y2="476.1" stroke="#3e0c62" stroke-width="1"/>
<line x1="207.75" y1="470.1" x2="212.25" y2="470.1" stroke="#3e0c62" stroke-width="1"/>
<line x1="207.75" y1="476.1" x2="212.25" y2="476.1" stroke="#3e0c62" stroke-width="1"/>
<path d="M208 471.1L212 475.1M208 475.1L212 471.1M208 473.1L212 473.1M210 471.1L210 475.1" stroke="#3e0c62" stroke-width="0.9" fill="none"/>
<line x1="230" y1="438" x2="230" y2="544" stroke="#4e2a72" stroke-width="1.3"/>
<line x1="227.25" y1="544" x2="232.75" y2="544" stroke="#4e2a72" stroke-width="1.3"/>
<path d="M226.8 486.4L233.2 492.8M226.8 492.8L233.2 486.4M226.8 489.6L233.2 489.6M230 486.4L230 492.8" stroke="#3e0c62" stroke-width="1.15" fill="none"/>
<line x1="235.6" y1="451" x2="235.6" y2="493" stroke="#4e2a72" stroke-width="1.3"/>
<line x1="232.85" y1="451" x2="238.35" y2="451" stroke="#4e2a72" stroke-width="1.3"/>
<line x1="232.85" y1="493" x2="238.35" y2="493" stroke="#4e2a72" stroke-width="1.3"/>
<path d="M232.4 467.8L238.8 474.2M232.4 474.2L238.8 467.8M232.4 471L238.8 471M235.6 467.8L235.6 474.2" stroke="#3e0c62" stroke-width="1.15" fill="none"/>
<line x1="225" y1="457" x2="225" y2="486" stroke="#4e2a72" stroke-width="1.3"/>
<line x1="222.25" y1="457" x2="227.75" y2="457" stroke="#4e2a72" stroke-width="1.3"/>
<line x1="222.25" y1="486" x2="227.75" y2="486" stroke="#4e2a72" stroke-width="1.3"/>
<path d="M221.8 462.8L228.2 469.2M221.8 469.2L228.2 462.8M221.8 466L228.2 466M225 462.8L225 469.2" stroke="#3e0c62" stroke-width="1.15" fill="none"/>
<line x1="219.5" y1="478" x2="219.5" y2="511" stroke="#4e2a72" stroke-width="1.3"/>
<line x1="216.75" y1="478" x2="222.25" y2="478" stroke="#4e2a72" stroke-width="1.3"/>
<line x1="216.75" y1="511" x2="222.25" y2="511" stroke="#4e2a72" stroke-width="1.3"/>
<path d="M216.3 482.8L222.7 489.2M216.3 489.2L222.7 482.8M216.3 486L222.7 486M219.5 482.8L219.5 489.2" stroke="#3e0c62" stroke-width="1.15" fill="none"/>
<line x1="214" y1="474" x2="214" y2="499.6" stroke="#4e2a72" stroke-width="1.3"/>
<line x1="211.25" y1="474" x2="216.75" y2="474" stroke="#4e2a72" stroke-width="1.3"/>
<line x1="211.25" y1="499.6" x2="216.75" y2="499.6" stroke="#4e2a72" stroke-width="1.3"/>
<path d="M210.8 479.8L217.2 486.2M210.8 486.2L217.2 479.8M210.8 483L217.2 483M214 479.8L214 486.2" stroke="#3e0c62" stroke-width="1.15" fill="none"/>
<rect x="47" y="457.5" width="91.3" height="38.8" fill="#fff" stroke="#8a8a8a" stroke-width="1.1"/>
<path d="M54.6 463.1L60 468.5M54.6 468.5L60 463.1M54.6 465.8L60 465.8M57.3 463.1L57.3 468.5" stroke="#3e0c62" stroke-width="0.85" fill="none"/>
<text x="63.74" y="469.2" font-size="9.86" text-anchor="start" fill="#3e0c62" stroke="#3e0c62" stroke-width="0.12" textLength="33.75" lengthAdjust="spacing">Elvis09</text>
<polygon points="57.3,474 60,476.7 57.3,479.4 54.6,476.7" fill="none" stroke="#30a8e8" stroke-width="1.2"/>
<text x="64.08" y="480.3" font-size="9.71" text-anchor="start" fill="#30a8e8" stroke="#30a8e8" stroke-width="0.12" textLength="70.08" lengthAdjust="spacing">Georgakakis08</text>
<polygon points="57.3,485.7 60.2,490.78 54.4,490.78" fill="none" stroke="#2ee0f0" stroke-width="1.2"/>
<text x="63.73" y="491.7" font-size="9.71" text-anchor="start" fill="#2ee0f0" stroke="#2ee0f0" stroke-width="0.12" textLength="48.01" lengthAdjust="spacing">Lehmer12</text>
<polyline points="348.6,587.1 355.6,572.2 363.4,556.6 371.25,541 379,526.9 383.75,519.1 390,511.3 396.25,506.6 404,503.4 410.3,504.2 420,509.7 426.7,514.1 440,520.1 453.3,523.4 466.7,525.4 480,526.7 520,527.4 568,526.9" fill="none" stroke="#ff6a1a" stroke-width="2.2" stroke-dasharray="6,3" stroke-linejoin="round"/>
<polyline points="348.6,587.7 355.6,572.8 363.4,557.2 371.25,541.6 379,527.5 383.75,519.7 390,511.9 396.25,507.2 404,504 410.3,504.8 420,510.3 426.7,514.7 440,520.7 453.3,524 466.7,526 480,527.3 520,528 568,527.5" fill="none" stroke="#ec1c12" stroke-width="2.2" stroke-linejoin="round"/>
<polyline points="348.6,588.3 355.6,573.4 363.4,557.8 371.25,542.2 379,528.1 383.75,520.3 390,512.5 396.25,507.8 404,504.6 410.3,505.4 420,510.9 426.7,515.3 440,521.3 453.3,524.6 466.7,526.6 480,527.9 520,528.6 568,528.1" fill="none" stroke="#22e022" stroke-width="2.2" stroke-dasharray="5,2.5,1.5,2.5" stroke-linejoin="round"/>
<polyline points="348.6,588.5 355.6,573.5 363.4,558 371.25,542.5 379,528.5 383.75,520.5 390,512.5 396.25,507.5 404,504 410.3,504.5 420,509 426.7,513 440,518.7 460,522 474.7,522 500,524 520,526.5 568,527" fill="none" stroke="#1010c4" stroke-width="2.2" stroke-dasharray="6,2,1.5,2,1.5,2" stroke-linejoin="round"/>
<path d="M360.9 551.5L367.5 558.1M360.9 558.1L367.5 551.5M360.9 554.8L367.5 554.8M364.2 551.5L364.2 558.1" stroke="#3e0c62" stroke-width="1.15" fill="none"/>
<path d="M365.6 545.3L372.2 551.9M365.6 551.9L372.2 545.3M365.6 548.6L372.2 548.6M368.9 545.3L368.9 551.9" stroke="#3e0c62" stroke-width="1.15" fill="none"/>
<path d="M369.5 536.7L376.1 543.3M369.5 543.3L376.1 536.7M369.5 540L376.1 540M372.8 536.7L372.8 543.3" stroke="#3e0c62" stroke-width="1.15" fill="none"/>
<path d="M373.4 528.1L380 534.7M373.4 534.7L380 528.1M373.4 531.4L380 531.4M376.7 528.1L376.7 534.7" stroke="#3e0c62" stroke-width="1.15" fill="none"/>
<path d="M378.1 516.4L384.7 523M378.1 523L384.7 516.4M378.1 519.7L384.7 519.7M381.4 516.4L381.4 523" stroke="#3e0c62" stroke-width="1.15" fill="none"/>
<path d="M382 510.1L388.6 516.7M382 516.7L388.6 510.1M382 513.4L388.6 513.4M385.3 510.1L385.3 516.7" stroke="#3e0c62" stroke-width="1.15" fill="none"/>
<path d="M386.7 502.3L393.3 508.9M386.7 508.9L393.3 502.3M386.7 505.6L393.3 505.6M390 502.3L390 508.9" stroke="#3e0c62" stroke-width="1.15" fill="none"/>
<path d="M390.6 498.4L397.2 505M390.6 505L397.2 498.4M390.6 501.7L397.2 501.7M393.9 498.4L393.9 505" stroke="#3e0c62" stroke-width="1.15" fill="none"/>
<path d="M394.5 496.9L401.1 503.5M394.5 503.5L401.1 496.9M394.5 500.2L401.1 500.2M397.8 496.9L397.8 503.5" stroke="#3e0c62" stroke-width="1.15" fill="none"/>
<path d="M399.2 492.95L405.8 499.55M399.2 499.55L405.8 492.95M399.2 496.25L405.8 496.25M402.5 492.95L402.5 499.55" stroke="#3e0c62" stroke-width="1.15" fill="none"/>
<path d="M403.9 493.7L410.5 500.3M403.9 500.3L410.5 493.7M403.9 497L410.5 497M407.2 493.7L407.2 500.3" stroke="#3e0c62" stroke-width="1.15" fill="none"/>
<path d="M408.6 497.7L415.2 504.3M408.6 504.3L415.2 497.7M408.6 501L415.2 501M411.9 497.7L411.9 504.3" stroke="#3e0c62" stroke-width="1.15" fill="none"/>
<path d="M413.3 503.9L419.9 510.5M413.3 510.5L419.9 503.9M413.3 507.2L419.9 507.2M416.6 503.9L416.6 510.5" stroke="#3e0c62" stroke-width="1.15" fill="none"/>
<path d="M416.7 505.4L423.3 512M416.7 512L423.3 505.4M416.7 508.7L423.3 508.7M420 505.4L420 512" stroke="#3e0c62" stroke-width="1.15" fill="none"/>
<path d="M421.4 508.7L428 515.3M421.4 515.3L428 508.7M421.4 512L428 512M424.7 508.7L424.7 515.3" stroke="#3e0c62" stroke-width="1.15" fill="none"/>
<path d="M425.4 512L432 518.6M425.4 518.6L432 512M425.4 515.3L432 515.3M428.7 512L428.7 518.6" stroke="#3e0c62" stroke-width="1.15" fill="none"/>
<path d="M432 513.4L438.6 520M432 520L438.6 513.4M432 516.7L438.6 516.7M435.3 513.4L435.3 520" stroke="#3e0c62" stroke-width="1.15" fill="none"/>
<path d="M441.4 514L448 520.6M441.4 520.6L448 514M441.4 517.3L448 517.3M444.7 514L444.7 520.6" stroke="#3e0c62" stroke-width="1.15" fill="none"/>
<path d="M450 514.7L456.6 521.3M450 521.3L456.6 514.7M450 518L456.6 518M453.3 514.7L453.3 521.3" stroke="#3e0c62" stroke-width="1.15" fill="none"/>
<path d="M462.2 519.4L468.8 526M462.2 526L468.8 519.4M462.2 522.7L468.8 522.7M465.5 519.4L465.5 526" stroke="#3e0c62" stroke-width="1.15" fill="none"/>
<line x1="476.8" y1="527" x2="476.8" y2="538" stroke="#4e2a72" stroke-width="1.3"/>
<line x1="474.05" y1="527" x2="479.55" y2="527" stroke="#4e2a72" stroke-width="1.3"/>
<line x1="474.05" y1="538" x2="479.55" y2="538" stroke="#4e2a72" stroke-width="1.3"/>
<path d="M473.5 528.9L480.1 535.5M473.5 535.5L480.1 528.9M473.5 532.2L480.1 532.2M476.8 528.9L476.8 535.5" stroke="#3e0c62" stroke-width="1.15" fill="none"/>
<line x1="488" y1="520.5" x2="488" y2="531.8" stroke="#4e2a72" stroke-width="1.3"/>
<line x1="485.25" y1="520.5" x2="490.75" y2="520.5" stroke="#4e2a72" stroke-width="1.3"/>
<line x1="485.25" y1="531.8" x2="490.75" y2="531.8" stroke="#4e2a72" stroke-width="1.3"/>
<path d="M484.7 519.8L491.3 526.4M484.7 526.4L491.3 519.8M484.7 523.1L491.3 523.1M488 519.8L488 526.4" stroke="#3e0c62" stroke-width="1.15" fill="none"/>
<line x1="498.9" y1="515.1" x2="498.9" y2="530.7" stroke="#4e2a72" stroke-width="1.3"/>
<line x1="496.15" y1="515.1" x2="501.65" y2="515.1" stroke="#4e2a72" stroke-width="1.3"/>
<line x1="496.15" y1="530.7" x2="501.65" y2="530.7" stroke="#4e2a72" stroke-width="1.3"/>
<path d="M495.6 519.4L502.2 526M495.6 526L502.2 519.4M495.6 522.7L502.2 522.7M498.9 519.4L498.9 526" stroke="#3e0c62" stroke-width="1.15" fill="none"/>
<line x1="523.3" y1="516.6" x2="523.3" y2="530.7" stroke="#30a8e8" stroke-width="1.3"/>
<line x1="520.55" y1="516.6" x2="526.05" y2="516.6" stroke="#30a8e8" stroke-width="1.3"/>
<line x1="520.55" y1="530.7" x2="526.05" y2="530.7" stroke="#30a8e8" stroke-width="1.3"/>
<polygon points="523.3,519.7 526.7,523.1 523.3,526.5 519.9,523.1" fill="none" stroke="#30a8e8" stroke-width="1.2"/>
<line x1="539.1" y1="518.4" x2="539.1" y2="524.9" stroke="#30a8e8" stroke-width="1.3"/>
<line x1="536.35" y1="518.4" x2="541.85" y2="518.4" stroke="#30a8e8" stroke-width="1.3"/>
<line x1="536.35" y1="524.9" x2="541.85" y2="524.9" stroke="#30a8e8" stroke-width="1.3"/>
<polygon points="539.1,518 542.5,521.4 539.1,524.8 535.7,521.4" fill="none" stroke="#30a8e8" stroke-width="1.2"/>
<line x1="555.4" y1="503.2" x2="555.4" y2="517.7" stroke="#30a8e8" stroke-width="1.3"/>
<line x1="552.65" y1="503.2" x2="558.15" y2="503.2" stroke="#30a8e8" stroke-width="1.3"/>
<line x1="552.65" y1="517.7" x2="558.15" y2="517.7" stroke="#30a8e8" stroke-width="1.3"/>
<polygon points="555.4,507.2 558.8,510.6 555.4,514 552,510.6" fill="none" stroke="#30a8e8" stroke-width="1.2"/>
<rect x="337.2" y="457.5" width="82.8" height="27.8" fill="#fff" stroke="#8a8a8a" stroke-width="1.1"/>
<path d="M345.6 463.1L351 468.5M345.6 468.5L351 463.1M345.6 465.8L351 465.8M348.3 463.1L348.3 468.5" stroke="#3e0c62" stroke-width="0.85" fill="none"/>
<text x="354.71" y="469.2" font-size="9.86" text-anchor="start" fill="#3e0c62" stroke="#3e0c62" stroke-width="0.12" textLength="61.21" lengthAdjust="spacing">Bethermin10</text>
<polygon points="348.3,474 351,476.7 348.3,479.4 345.6,476.7" fill="none" stroke="#30a8e8" stroke-width="1.2"/>
<text x="354.74" y="480.3" font-size="9.71" text-anchor="start" fill="#30a8e8" stroke="#30a8e8" stroke-width="0.12" textLength="49.57" lengthAdjust="spacing">Hacking91</text>
<text x="256.65" y="648.75" font-size="12.5" text-anchor="start" fill="#111" stroke="#111" stroke-width="0.18" textLength="18.75" lengthAdjust="spacingAndGlyphs">log</text>
<text x="275.78" y="648.75" font-size="14.5" text-anchor="start" fill="#111" stroke="#111" stroke-width="0.18" textLength="5.21" lengthAdjust="spacingAndGlyphs">(</text>
<text x="280.95" y="648.75" font-size="13.5" text-anchor="start" fill="#111" stroke="#111" stroke-width="0.18" textLength="9.62" lengthAdjust="spacingAndGlyphs">S</text>
<text x="290.6" y="652.5" font-size="8" text-anchor="start" fill="#111" stroke="#111" stroke-width="0.18" textLength="5.3" lengthAdjust="spacingAndGlyphs">ν</text>
<text x="295.28" y="648.75" font-size="14.5" text-anchor="start" fill="#111" stroke="#111" stroke-width="0.18" textLength="4.75" lengthAdjust="spacingAndGlyphs">[</text>
<text x="301.21" y="648.5" font-size="12.5" text-anchor="start" fill="#111" stroke="#111" stroke-width="0.18" textLength="24.57" lengthAdjust="spacingAndGlyphs">mJy</text>
<text x="329" y="648.75" font-size="14.5" text-anchor="start" fill="#111" stroke="#111" stroke-width="0.18" textLength="3.7" lengthAdjust="spacingAndGlyphs">]</text>
<text x="333.93" y="648.75" font-size="14.5" text-anchor="start" fill="#111" stroke="#111" stroke-width="0.18" textLength="3.77" lengthAdjust="spacingAndGlyphs">)</text>
<g transform="rotate(-90)">
<text x="-428.09" y="13.5" font-size="12.5" text-anchor="start" fill="#111" stroke="#111" stroke-width="0.18" textLength="21.64" lengthAdjust="spacingAndGlyphs">log</text>
<text x="-406.58" y="14.3" font-size="16" text-anchor="start" fill="#111" stroke="#111" stroke-width="0.18" textLength="5.28" lengthAdjust="spacingAndGlyphs">(</text>
<text x="-400.12" y="13.5" font-size="13.8" text-anchor="start" fill="#111" stroke="#111" stroke-width="0.18" textLength="18.93" lengthAdjust="spacingAndGlyphs">dN</text>
<text x="-370.35" y="13.5" font-size="13.8" text-anchor="start" fill="#111" stroke="#111" stroke-width="0.18" textLength="19.07" lengthAdjust="spacingAndGlyphs">dS</text>
<text x="-352" y="17.3" font-size="8" text-anchor="start" fill="#111" stroke="#111" stroke-width="0.18" textLength="4.11" lengthAdjust="spacingAndGlyphs">ν</text>
<text x="-346.84" y="14" font-size="12" text-anchor="start" fill="#111" stroke="#111" stroke-width="0.18" textLength="5.77" lengthAdjust="spacingAndGlyphs">*</text>
<text x="-340.79" y="13.5" font-size="13.8" text-anchor="start" fill="#111" stroke="#111" stroke-width="0.18" textLength="8.69" lengthAdjust="spacingAndGlyphs">S</text>
<text x="-331" y="17.3" font-size="8" text-anchor="start" fill="#111" stroke="#111" stroke-width="0.18" textLength="5.14" lengthAdjust="spacingAndGlyphs">ν</text>
<text x="-329.5" y="6.2" font-size="8.5" text-anchor="start" fill="#111" stroke="#111" stroke-width="0.18" textLength="13.92" lengthAdjust="spacingAndGlyphs">2.5</text>
<text x="-312.66" y="14.3" font-size="16" text-anchor="start" fill="#111" stroke="#111" stroke-width="0.18" textLength="5.31" lengthAdjust="spacingAndGlyphs">[</text>
<text x="-305.81" y="13.5" font-size="12.5" text-anchor="start" fill="#111" stroke="#111" stroke-width="0.18" textLength="27.84" lengthAdjust="spacingAndGlyphs">mJy</text>
<text x="-277.87" y="6.2" font-size="8.5" text-anchor="start" fill="#111" stroke="#111" stroke-width="0.18" textLength="15.85" lengthAdjust="spacingAndGlyphs">1.5</text>
<text x="-252.44" y="13.5" font-size="12.5" text-anchor="start" fill="#111" stroke="#111" stroke-width="0.18" textLength="13.31" lengthAdjust="spacingAndGlyphs">sr</text>
<text x="-237.45" y="14.3" font-size="16" text-anchor="start" fill="#111" stroke="#111" stroke-width="0.18" textLength="11.86" lengthAdjust="spacingAndGlyphs">])</text>
</g>
<line x1="16.8" y1="380.2" x2="2.4" y2="370.9" stroke="#111" stroke-width="1.2"/>
<line x1="16.8" y1="261.6" x2="2.4" y2="253.5" stroke="#111" stroke-width="1.2"/>
</svg>
</body></html>
